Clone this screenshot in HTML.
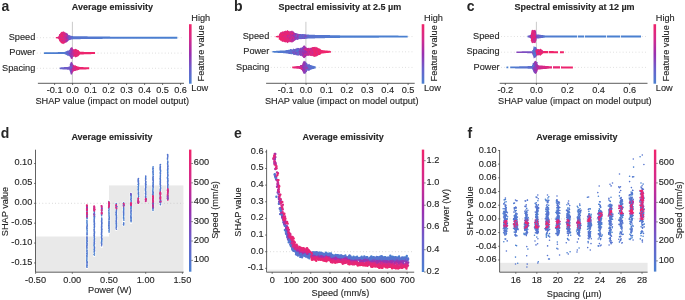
<!DOCTYPE html>
<html><head><meta charset="utf-8"><style>
html,body{margin:0;padding:0;background:#fff;}
svg{display:block;will-change:transform;}
text{font-family:"Liberation Sans",sans-serif;fill:#262626;stroke:#262626;stroke-width:0.13px;}
</style></head><body>
<svg width="685" height="300" viewBox="0 0 685 300">
<text x="1.4" y="10.7" font-size="14" text-anchor="start" font-weight="bold" style="stroke:none">a</text>
<text x="112.4" y="10.2" font-size="9" text-anchor="middle" font-weight="bold">Average emissivity</text>
<line x1="36.8" y1="37.7" x2="184" y2="37.7" stroke="#c8c8c8" stroke-width="0.7" stroke-dasharray="0.8 2.4"/>
<line x1="36.8" y1="53.1" x2="184" y2="53.1" stroke="#c8c8c8" stroke-width="0.7" stroke-dasharray="0.8 2.4"/>
<line x1="36.8" y1="68.3" x2="184" y2="68.3" stroke="#c8c8c8" stroke-width="0.7" stroke-dasharray="0.8 2.4"/>
<line x1="72.4" y1="21.8" x2="72.4" y2="83.3" stroke="#c4c4c4" stroke-width="0.9"/>
<text x="35.3" y="39.900000000000006" font-size="9.2" text-anchor="end">Speed</text>
<linearGradient id="g1" gradientUnits="userSpaceOnUse" x1="55.8" y1="0" x2="177.3" y2="0"><stop offset="0.000" stop-color="#ea2571"/><stop offset="0.022" stop-color="#e82674"/><stop offset="0.029" stop-color="#e72675"/><stop offset="0.039" stop-color="#e52678"/><stop offset="0.051" stop-color="#e3277a"/><stop offset="0.066" stop-color="#dc2882"/><stop offset="0.080" stop-color="#c82b93"/><stop offset="0.092" stop-color="#a62fa9"/><stop offset="0.100" stop-color="#8743bb"/><stop offset="0.113" stop-color="#705ac9"/><stop offset="0.125" stop-color="#6169cd"/><stop offset="0.142" stop-color="#5773ce"/><stop offset="0.446" stop-color="#4e7cd0"/><stop offset="1.000" stop-color="#4a80d0"/></linearGradient>
<polygon points="55.8,37.2 56.3,37.1 56.8,37.0 57.3,36.9 57.8,36.8 58.3,36.7 58.8,35.9 59.3,34.1 59.8,34.0 60.3,33.3 60.8,32.4 61.3,32.1 61.8,31.8 62.3,32.0 62.8,31.6 63.3,31.2 63.8,31.8 64.3,31.7 64.8,32.4 65.3,32.3 65.8,32.9 66.3,32.7 66.8,33.5 67.3,33.5 67.8,34.2 68.3,34.8 68.8,35.9 69.3,35.2 69.8,35.4 70.3,35.6 70.8,35.7 71.3,35.8 71.8,35.9 72.3,36.0 72.8,36.1 73.3,36.2 73.8,36.2 74.3,36.2 74.8,36.2 75.3,36.2 75.8,36.2 76.3,36.2 76.8,36.2 77.3,36.2 77.8,36.2 78.3,36.2 78.8,36.2 79.3,36.2 79.8,36.2 80.3,36.2 80.8,36.3 81.3,36.3 81.8,36.3 82.3,36.3 82.8,36.3 83.3,36.3 83.8,36.3 84.3,36.3 84.8,36.3 85.3,36.3 85.8,36.3 86.3,36.3 86.8,36.3 87.3,36.3 87.8,36.4 88.3,36.4 88.8,36.4 89.3,36.4 89.8,36.4 90.3,36.4 90.8,36.4 91.3,36.4 91.8,36.4 92.3,36.4 92.8,36.4 93.3,36.4 93.8,36.4 94.3,36.4 94.8,36.4 95.3,36.5 95.8,36.5 96.3,36.5 96.8,36.5 97.3,36.5 97.8,36.5 98.3,36.5 98.8,36.5 99.3,36.5 99.8,36.5 100.3,36.5 100.8,36.5 101.3,36.5 101.8,36.5 102.3,36.5 102.8,36.6 103.3,36.6 103.8,36.6 104.3,36.6 104.8,36.6 105.3,36.6 105.8,36.6 106.3,36.6 106.8,36.6 107.3,36.6 107.8,36.6 108.3,36.6 108.8,36.6 109.3,36.6 109.8,36.6 110.3,36.7 110.8,36.7 111.3,36.7 111.8,36.7 112.3,36.7 112.8,36.7 113.3,36.7 113.8,36.7 114.3,36.7 114.8,36.7 115.3,36.7 115.8,36.7 116.3,36.7 116.8,36.7 117.3,36.7 117.8,36.7 118.3,36.7 118.8,36.7 119.3,36.7 119.8,36.7 120.3,36.7 120.8,36.7 121.3,36.7 121.8,36.7 122.3,36.7 122.8,36.7 123.3,36.7 123.8,36.7 124.3,36.7 124.8,36.7 125.3,36.7 125.8,36.7 126.3,36.7 126.8,36.7 127.3,36.7 127.8,36.7 128.3,36.7 128.8,36.7 129.3,36.7 129.8,36.7 130.3,36.7 130.8,36.7 131.3,36.7 131.8,36.7 132.3,36.7 132.8,36.7 133.3,36.7 133.8,36.7 134.3,36.7 134.8,36.7 135.3,36.7 135.8,36.7 136.3,36.7 136.8,36.7 137.3,36.7 137.8,36.7 138.3,36.7 138.8,36.7 139.3,36.7 139.8,36.7 140.3,36.7 140.8,36.7 141.3,36.7 141.8,36.7 142.3,36.7 142.8,36.7 143.3,36.7 143.8,36.7 144.3,36.7 144.8,36.7 145.3,36.7 145.8,36.7 146.3,36.7 146.8,36.7 147.3,36.7 147.8,36.7 148.3,36.7 148.8,36.7 149.3,36.7 149.8,36.7 150.3,36.7 150.8,36.7 151.3,36.7 151.8,36.7 152.3,36.7 152.8,36.7 153.3,36.7 153.8,36.7 154.3,36.7 154.8,36.7 155.3,36.7 155.8,36.7 156.3,36.7 156.8,36.7 157.3,36.7 157.8,36.7 158.3,36.7 158.8,36.7 159.3,36.7 159.8,36.7 160.3,36.7 160.8,36.7 161.3,36.7 161.8,36.7 162.3,36.7 162.8,36.7 163.3,36.7 163.8,36.7 164.3,36.7 164.8,36.7 165.3,36.7 165.8,36.7 166.3,36.7 166.8,36.7 167.3,36.7 167.8,36.7 168.3,36.7 168.8,36.7 169.3,36.7 169.8,36.7 170.3,36.7 170.8,36.7 171.3,36.7 171.8,36.7 172.3,36.7 172.8,36.7 173.3,36.7 173.8,36.7 174.3,36.7 174.8,36.7 175.3,36.7 175.8,36.7 176.3,36.7 176.8,36.7 177.3,36.8 177.3,38.7 176.8,38.7 176.3,38.7 175.8,38.7 175.3,38.7 174.8,38.7 174.3,38.7 173.8,38.7 173.3,38.7 172.8,38.7 172.3,38.7 171.8,38.7 171.3,38.7 170.8,38.7 170.3,38.7 169.8,38.7 169.3,38.7 168.8,38.7 168.3,38.7 167.8,38.7 167.3,38.7 166.8,38.7 166.3,38.7 165.8,38.7 165.3,38.7 164.8,38.7 164.3,38.7 163.8,38.7 163.3,38.7 162.8,38.7 162.3,38.7 161.8,38.7 161.3,38.7 160.8,38.7 160.3,38.7 159.8,38.7 159.3,38.7 158.8,38.7 158.3,38.7 157.8,38.7 157.3,38.7 156.8,38.7 156.3,38.7 155.8,38.7 155.3,38.7 154.8,38.7 154.3,38.7 153.8,38.7 153.3,38.7 152.8,38.7 152.3,38.7 151.8,38.7 151.3,38.7 150.8,38.7 150.3,38.7 149.8,38.7 149.3,38.7 148.8,38.7 148.3,38.7 147.8,38.7 147.3,38.7 146.8,38.7 146.3,38.7 145.8,38.7 145.3,38.7 144.8,38.7 144.3,38.7 143.8,38.7 143.3,38.7 142.8,38.7 142.3,38.7 141.8,38.7 141.3,38.7 140.8,38.7 140.3,38.7 139.8,38.7 139.3,38.7 138.8,38.7 138.3,38.7 137.8,38.7 137.3,38.7 136.8,38.7 136.3,38.7 135.8,38.7 135.3,38.7 134.8,38.7 134.3,38.7 133.8,38.7 133.3,38.7 132.8,38.7 132.3,38.7 131.8,38.7 131.3,38.7 130.8,38.7 130.3,38.7 129.8,38.7 129.3,38.7 128.8,38.7 128.3,38.7 127.8,38.7 127.3,38.7 126.8,38.7 126.3,38.7 125.8,38.7 125.3,38.7 124.8,38.7 124.3,38.7 123.8,38.7 123.3,38.7 122.8,38.7 122.3,38.7 121.8,38.7 121.3,38.7 120.8,38.7 120.3,38.7 119.8,38.7 119.3,38.7 118.8,38.7 118.3,38.7 117.8,38.7 117.3,38.7 116.8,38.7 116.3,38.7 115.8,38.7 115.3,38.7 114.8,38.7 114.3,38.7 113.8,38.7 113.3,38.7 112.8,38.7 112.3,38.7 111.8,38.7 111.3,38.7 110.8,38.7 110.3,38.7 109.8,38.8 109.3,38.8 108.8,38.8 108.3,38.8 107.8,38.8 107.3,38.8 106.8,38.8 106.3,38.8 105.8,38.8 105.3,38.8 104.8,38.8 104.3,38.8 103.8,38.8 103.3,38.8 102.8,38.8 102.3,38.9 101.8,38.9 101.3,38.9 100.8,38.9 100.3,38.9 99.8,38.9 99.3,38.9 98.8,38.9 98.3,38.9 97.8,38.9 97.3,38.9 96.8,38.9 96.3,38.9 95.8,38.9 95.3,38.9 94.8,39.0 94.3,39.0 93.8,39.0 93.3,39.0 92.8,39.0 92.3,39.0 91.8,39.0 91.3,39.0 90.8,39.0 90.3,39.0 89.8,39.0 89.3,39.0 88.8,39.0 88.3,39.0 87.8,39.1 87.3,39.1 86.8,39.1 86.3,39.1 85.8,39.1 85.3,39.1 84.8,39.1 84.3,39.1 83.8,39.1 83.3,39.1 82.8,39.1 82.3,39.1 81.8,39.1 81.3,39.1 80.8,39.1 80.3,39.2 79.8,39.2 79.3,39.2 78.8,39.2 78.3,39.2 77.8,39.2 77.3,39.2 76.8,39.2 76.3,39.2 75.8,39.2 75.3,39.2 74.8,39.2 74.3,39.2 73.8,39.2 73.3,39.2 72.8,39.3 72.3,39.4 71.8,39.5 71.3,39.6 70.8,39.7 70.3,39.8 69.8,40.0 69.3,40.2 68.8,39.5 68.3,40.6 67.8,41.2 67.3,41.9 66.8,41.9 66.3,42.7 65.8,42.5 65.3,43.1 64.8,43.0 64.3,43.7 63.8,43.6 63.3,44.2 62.8,43.8 62.3,43.4 61.8,43.6 61.3,43.3 60.8,43.0 60.3,42.1 59.8,41.4 59.3,41.3 58.8,39.5 58.3,38.7 57.8,38.6 57.3,38.5 56.8,38.4 56.3,38.3 55.8,38.2" fill="url(#g1)"/>
<path d="M64.6 33.4h0M63.0 40.0h0M59.7 36.1h0M65.1 37.7h0M66.9 34.3h0M62.9 38.1h0M60.9 36.1h0M64.2 40.4h0M62.9 42.0h0M63.6 42.1h0" stroke="#dc2883" stroke-width="1.6" stroke-linecap="round" fill="none"/>
<path d="M59.5 36.4h0M62.1 40.5h0M62.4 34.6h0M60.3 34.6h0M59.3 38.3h0M62.9 40.0h0M60.9 34.2h0M64.4 35.8h0M61.3 39.3h0M60.5 35.1h0M64.2 37.2h0" stroke="#e62676" stroke-width="1.6" stroke-linecap="round" fill="none"/>
<path d="M62.6 36.9h0M61.6 39.8h0M64.9 41.6h0M63.5 33.7h0M61.6 36.6h0M62.6 42.6h0M61.9 41.6h0M61.4 35.6h0" stroke="#f0246a" stroke-width="1.6" stroke-linecap="round" fill="none"/>
<path d="M70.1 37.5h0M69.0 35.8h0M70.1 38.8h0M67.9 40.0h0M69.2 38.9h0" stroke="#6e5cc9" stroke-width="1.6" stroke-linecap="round" fill="none"/>
<path d="M65.9 40.9h0M62.3 40.7h0M64.4 36.6h0M65.4 41.2h0" stroke="#ba2d9c" stroke-width="1.6" stroke-linecap="round" fill="none"/>
<path d="M66.6 34.4h0M68.0 38.7h0M68.0 35.9h0M68.3 39.7h0" stroke="#804abf" stroke-width="1.6" stroke-linecap="round" fill="none"/>
<path d="M69.5 38.5h0" stroke="#6169cd" stroke-width="1.6" stroke-linecap="round" fill="none"/>
<path d="M61.6 37.9h0M65.2 39.3h0M64.0 37.1h0M66.6 35.4h0M65.3 38.0h0M65.4 35.6h0M64.1 39.9h0M59.0 37.2h0M63.5 33.7h0M60.0 35.0h0M67.2 39.6h0" stroke="#cf2b8f" stroke-width="1.6" stroke-linecap="round" fill="none"/>
<path d="M67.2 40.5h0M66.8 34.5h0" stroke="#9139b5" stroke-width="1.6" stroke-linecap="round" fill="none"/>
<path d="M66.2 37.8h0" stroke="#a52fa9" stroke-width="1.6" stroke-linecap="round" fill="none"/>
<text x="35.3" y="55.300000000000004" font-size="9.2" text-anchor="end">Power</text>
<linearGradient id="g2" gradientUnits="userSpaceOnUse" x1="44.0" y1="0" x2="95.0" y2="0"><stop offset="0.000" stop-color="#4a80d0"/><stop offset="0.402" stop-color="#507acf"/><stop offset="0.471" stop-color="#6466cd"/><stop offset="0.516" stop-color="#7d4dc1"/><stop offset="0.529" stop-color="#903ab6"/><stop offset="0.553" stop-color="#a62fa9"/><stop offset="0.569" stop-color="#c82b93"/><stop offset="0.624" stop-color="#e52678"/><stop offset="0.667" stop-color="#e82674"/><stop offset="0.706" stop-color="#ec256f"/><stop offset="1.000" stop-color="#f0246a"/></linearGradient>
<polygon points="44.0,52.4 44.5,52.3 45.0,52.3 45.5,52.3 46.0,52.3 46.5,52.3 47.0,52.3 47.5,52.3 48.0,52.3 48.5,52.3 49.0,52.3 49.5,52.3 50.0,52.3 50.5,52.3 51.0,52.2 51.5,52.2 52.0,52.2 52.5,52.2 53.0,52.2 53.5,52.2 54.0,52.2 54.5,52.2 55.0,52.2 55.5,52.2 56.0,52.2 56.5,52.2 57.0,52.2 57.5,52.2 58.0,52.1 58.5,52.1 59.0,52.1 59.5,52.1 60.0,52.1 60.5,52.1 61.0,52.1 61.5,52.1 62.0,52.1 62.5,52.1 63.0,52.1 63.5,52.1 64.0,52.1 64.5,52.1 65.0,51.8 65.5,51.6 66.0,51.4 66.5,51.1 67.0,50.9 67.5,50.7 68.0,50.0 68.5,51.2 69.0,49.8 69.5,50.1 70.0,49.1 70.5,49.0 71.0,47.0 71.5,47.5 72.0,47.3 72.5,47.4 73.0,49.1 73.5,49.4 74.0,49.4 74.5,49.7 75.0,49.1 75.5,48.8 76.0,48.9 76.5,49.2 77.0,49.8 77.5,49.7 78.0,50.0 78.5,49.9 79.0,50.9 79.5,51.3 80.0,51.8 80.5,51.8 81.0,51.8 81.5,51.8 82.0,51.8 82.5,51.8 83.0,51.8 83.5,51.8 84.0,51.9 84.5,51.9 85.0,51.9 85.5,51.9 86.0,51.9 86.5,51.9 87.0,51.9 87.5,52.0 88.0,52.0 88.5,52.0 89.0,52.0 89.5,52.0 90.0,52.0 90.5,52.0 91.0,52.0 91.5,52.1 92.0,52.1 92.5,52.1 93.0,52.1 93.5,52.1 94.0,52.1 94.5,52.1 95.0,52.1 95.0,54.1 94.5,54.1 94.0,54.1 93.5,54.1 93.0,54.1 92.5,54.1 92.0,54.1 91.5,54.1 91.0,54.2 90.5,54.2 90.0,54.2 89.5,54.2 89.0,54.2 88.5,54.2 88.0,54.2 87.5,54.2 87.0,54.3 86.5,54.3 86.0,54.3 85.5,54.3 85.0,54.3 84.5,54.3 84.0,54.3 83.5,54.4 83.0,54.4 82.5,54.4 82.0,54.4 81.5,54.4 81.0,54.4 80.5,54.4 80.0,54.5 79.5,54.9 79.0,55.4 78.5,56.3 78.0,56.2 77.5,56.5 77.0,56.4 76.5,57.0 76.0,57.3 75.5,57.4 75.0,57.1 74.5,56.5 74.0,56.8 73.5,56.8 73.0,57.1 72.5,58.8 72.0,58.9 71.5,58.7 71.0,59.2 70.5,57.2 70.0,57.1 69.5,56.1 69.0,56.4 68.5,55.0 68.0,56.2 67.5,55.5 67.0,55.3 66.5,55.1 66.0,54.8 65.5,54.6 65.0,54.4 64.5,54.1 64.0,54.1 63.5,54.1 63.0,54.1 62.5,54.1 62.0,54.1 61.5,54.1 61.0,54.1 60.5,54.1 60.0,54.1 59.5,54.1 59.0,54.1 58.5,54.1 58.0,54.1 57.5,54.0 57.0,54.0 56.5,54.0 56.0,54.0 55.5,54.0 55.0,54.0 54.5,54.0 54.0,54.0 53.5,54.0 53.0,54.0 52.5,54.0 52.0,54.0 51.5,54.0 51.0,54.0 50.5,53.9 50.0,53.9 49.5,53.9 49.0,53.9 48.5,53.9 48.0,53.9 47.5,53.9 47.0,53.9 46.5,53.9 46.0,53.9 45.5,53.9 45.0,53.9 44.5,53.9 44.0,53.9" fill="url(#g2)"/>
<path d="M72.9 51.8h0M76.0 52.9h0M74.2 51.7h0M73.8 54.5h0M73.0 51.5h0" stroke="#cf2b8f" stroke-width="1.6" stroke-linecap="round" fill="none"/>
<path d="M72.3 53.6h0M72.6 55.7h0M73.0 54.1h0M72.0 49.2h0M71.7 55.2h0" stroke="#ba2d9c" stroke-width="1.6" stroke-linecap="round" fill="none"/>
<path d="M74.0 50.1h0M76.5 50.9h0M76.9 55.9h0M76.3 55.6h0M74.7 52.9h0M75.9 53.3h0M77.7 52.1h0M75.5 54.8h0M77.8 53.6h0M74.2 51.2h0M76.4 52.0h0" stroke="#e62676" stroke-width="1.6" stroke-linecap="round" fill="none"/>
<path d="M70.4 52.0h0M71.5 50.8h0" stroke="#804abf" stroke-width="1.6" stroke-linecap="round" fill="none"/>
<path d="M69.2 51.7h0M68.9 53.9h0M67.9 53.6h0M69.5 51.0h0M72.1 56.2h0M68.9 55.0h0M67.4 52.3h0" stroke="#6e5cc9" stroke-width="1.6" stroke-linecap="round" fill="none"/>
<path d="M69.9 54.9h0M67.7 54.4h0" stroke="#5674cf" stroke-width="1.6" stroke-linecap="round" fill="none"/>
<path d="M70.8 53.6h0M71.2 51.1h0M70.9 48.8h0M72.4 50.7h0" stroke="#a52fa9" stroke-width="1.6" stroke-linecap="round" fill="none"/>
<path d="M71.1 56.7h0M70.6 55.5h0M70.6 54.6h0M69.7 53.7h0M71.0 56.0h0" stroke="#9139b5" stroke-width="1.6" stroke-linecap="round" fill="none"/>
<path d="M75.8 50.1h0M78.5 51.6h0M75.5 50.5h0M74.9 55.2h0M78.4 51.5h0" stroke="#f0246a" stroke-width="1.6" stroke-linecap="round" fill="none"/>
<path d="M66.8 53.0h0" stroke="#6169cd" stroke-width="1.6" stroke-linecap="round" fill="none"/>
<path d="M75.2 53.6h0M77.7 51.4h0M74.4 50.2h0M73.8 51.2h0" stroke="#dc2883" stroke-width="1.6" stroke-linecap="round" fill="none"/>
<text x="35.3" y="70.5" font-size="9.2" text-anchor="end">Spacing</text>
<linearGradient id="g3" gradientUnits="userSpaceOnUse" x1="59.7" y1="0" x2="89.6" y2="0"><stop offset="0.000" stop-color="#6466cd"/><stop offset="0.328" stop-color="#7456c6"/><stop offset="0.371" stop-color="#8347bd"/><stop offset="0.411" stop-color="#903ab6"/><stop offset="0.445" stop-color="#d42a8c"/><stop offset="0.579" stop-color="#e52678"/><stop offset="0.679" stop-color="#ea2571"/><stop offset="1.000" stop-color="#f0246a"/></linearGradient>
<polygon points="59.7,67.5 60.2,67.4 60.7,67.4 61.2,67.3 61.7,67.3 62.2,67.3 62.7,67.2 63.2,67.2 63.7,67.2 64.2,67.1 64.7,67.1 65.2,67.1 65.7,67.0 66.2,67.0 66.7,67.0 67.2,66.9 67.7,66.9 68.2,66.8 68.7,66.8 69.2,66.8 69.7,66.0 70.2,64.1 70.7,62.3 71.2,61.8 71.7,62.0 72.2,62.5 72.7,64.5 73.2,65.3 73.7,64.5 74.2,65.5 74.7,65.7 75.2,65.5 75.7,65.8 76.2,66.0 76.7,66.1 77.2,66.2 77.7,66.4 78.2,66.5 78.7,66.7 79.2,66.8 79.7,67.0 80.2,67.1 80.7,67.1 81.2,67.1 81.7,67.1 82.2,67.1 82.7,67.1 83.2,67.1 83.7,67.2 84.2,67.2 84.7,67.2 85.2,67.2 85.7,67.2 86.2,67.2 86.7,67.3 87.2,67.3 87.7,67.3 88.2,67.3 88.7,67.3 89.2,67.3 89.2,69.3 88.7,69.3 88.2,69.3 87.7,69.3 87.2,69.3 86.7,69.3 86.2,69.4 85.7,69.4 85.2,69.4 84.7,69.4 84.2,69.4 83.7,69.4 83.2,69.5 82.7,69.5 82.2,69.5 81.7,69.5 81.2,69.5 80.7,69.5 80.2,69.5 79.7,69.6 79.2,69.8 78.7,69.9 78.2,70.1 77.7,70.2 77.2,70.4 76.7,70.5 76.2,70.6 75.7,70.8 75.2,71.1 74.7,70.9 74.2,71.1 73.7,72.1 73.2,71.3 72.7,72.1 72.2,74.1 71.7,74.6 71.2,74.8 70.7,74.3 70.2,72.5 69.7,70.6 69.2,69.8 68.7,69.8 68.2,69.8 67.7,69.7 67.2,69.7 66.7,69.6 66.2,69.6 65.7,69.6 65.2,69.5 64.7,69.5 64.2,69.5 63.7,69.4 63.2,69.4 62.7,69.4 62.2,69.3 61.7,69.3 61.2,69.3 60.7,69.2 60.2,69.2 59.7,69.1" fill="url(#g3)"/>
<path d="M72.9 65.9h0M71.9 64.6h0M72.9 69.1h0" stroke="#a52fa9" stroke-width="1.6" stroke-linecap="round" fill="none"/>
<path d="M74.7 66.2h0M73.7 66.3h0M75.4 66.4h0" stroke="#e62676" stroke-width="1.6" stroke-linecap="round" fill="none"/>
<path d="M71.0 69.0h0M71.9 64.1h0M70.8 67.7h0M71.8 67.3h0" stroke="#9139b5" stroke-width="1.6" stroke-linecap="round" fill="none"/>
<path d="M73.1 66.2h0M75.3 67.6h0M72.3 72.0h0" stroke="#ba2d9c" stroke-width="1.6" stroke-linecap="round" fill="none"/>
<path d="M70.5 70.7h0M70.5 67.5h0M71.8 66.7h0M71.8 66.4h0" stroke="#6e5cc9" stroke-width="1.6" stroke-linecap="round" fill="none"/>
<path d="M73.2 69.3h0M72.9 65.8h0M75.0 70.0h0" stroke="#dc2883" stroke-width="1.6" stroke-linecap="round" fill="none"/>
<path d="M70.5 68.0h0M71.1 67.0h0M71.1 66.2h0" stroke="#6169cd" stroke-width="1.6" stroke-linecap="round" fill="none"/>
<path d="M76.4 67.7h0M76.2 66.9h0" stroke="#f0246a" stroke-width="1.6" stroke-linecap="round" fill="none"/>
<path d="M71.8 66.1h0M72.5 64.7h0M70.7 65.4h0M70.5 64.4h0" stroke="#804abf" stroke-width="1.6" stroke-linecap="round" fill="none"/>
<path d="M73.9 68.0h0" stroke="#cf2b8f" stroke-width="1.6" stroke-linecap="round" fill="none"/>
<line x1="37.9" y1="83.3" x2="184" y2="83.3" stroke="#333" stroke-width="0.8"/>
<line x1="54.599999999999994" y1="83.3" x2="54.599999999999994" y2="85.0" stroke="#333" stroke-width="0.7"/>
<text x="54.599999999999994" y="92.6" font-size="9.2" text-anchor="middle">-0.1</text>
<line x1="72.6" y1="83.3" x2="72.6" y2="85.0" stroke="#333" stroke-width="0.7"/>
<text x="72.6" y="92.6" font-size="9.2" text-anchor="middle">0.0</text>
<line x1="90.6" y1="83.3" x2="90.6" y2="85.0" stroke="#333" stroke-width="0.7"/>
<text x="90.6" y="92.6" font-size="9.2" text-anchor="middle">0.1</text>
<line x1="108.6" y1="83.3" x2="108.6" y2="85.0" stroke="#333" stroke-width="0.7"/>
<text x="108.6" y="92.6" font-size="9.2" text-anchor="middle">0.2</text>
<line x1="126.6" y1="83.3" x2="126.6" y2="85.0" stroke="#333" stroke-width="0.7"/>
<text x="126.6" y="92.6" font-size="9.2" text-anchor="middle">0.3</text>
<line x1="144.6" y1="83.3" x2="144.6" y2="85.0" stroke="#333" stroke-width="0.7"/>
<text x="144.6" y="92.6" font-size="9.2" text-anchor="middle">0.4</text>
<line x1="162.6" y1="83.3" x2="162.6" y2="85.0" stroke="#333" stroke-width="0.7"/>
<text x="162.6" y="92.6" font-size="9.2" text-anchor="middle">0.5</text>
<line x1="180.6" y1="83.3" x2="180.6" y2="85.0" stroke="#333" stroke-width="0.7"/>
<text x="180.6" y="92.6" font-size="9.2" text-anchor="middle">0.6</text>
<text x="112.25" y="103.9" font-size="9.2" text-anchor="middle">SHAP value (impact on model output)</text>
<linearGradient id="g4" x1="0" y1="1" x2="0" y2="0"><stop offset="0" stop-color="#4a80d0"/><stop offset="0.25" stop-color="#6a60cc"/><stop offset="0.5" stop-color="#9a30b0"/><stop offset="0.75" stop-color="#d42a8c"/><stop offset="1" stop-color="#f0246a"/></linearGradient>
<rect x="189.0" y="24.2" width="2.6" height="59.5" fill="url(#g4)"/>
<text x="191.3" y="20.7" font-size="9.2" text-anchor="start">High</text>
<text x="191.3" y="91.2" font-size="9.2" text-anchor="start">Low</text>
<text x="203.9" y="53.3" font-size="9.2" text-anchor="middle" transform="rotate(-90 203.9 53.3)">Feature value</text>
<text x="234.0" y="10.7" font-size="14" text-anchor="start" font-weight="bold" style="stroke:none">b</text>
<text x="339.9" y="10.2" font-size="9" text-anchor="middle" font-weight="bold">Spectral emissivity at 2.5 µm</text>
<line x1="270.8" y1="36.6" x2="414.7" y2="36.6" stroke="#c8c8c8" stroke-width="0.7" stroke-dasharray="0.8 2.4"/>
<line x1="270.8" y1="51.8" x2="414.7" y2="51.8" stroke="#c8c8c8" stroke-width="0.7" stroke-dasharray="0.8 2.4"/>
<line x1="270.8" y1="67.4" x2="414.7" y2="67.4" stroke="#c8c8c8" stroke-width="0.7" stroke-dasharray="0.8 2.4"/>
<line x1="305.9" y1="21.8" x2="305.9" y2="83.3" stroke="#c4c4c4" stroke-width="0.9"/>
<text x="269.3" y="38.800000000000004" font-size="9.2" text-anchor="end">Speed</text>
<linearGradient id="g5" gradientUnits="userSpaceOnUse" x1="275.7" y1="0" x2="408.0" y2="0"><stop offset="0.000" stop-color="#f0246a"/><stop offset="0.025" stop-color="#ee246d"/><stop offset="0.031" stop-color="#ec256f"/><stop offset="0.048" stop-color="#e82674"/><stop offset="0.070" stop-color="#e52678"/><stop offset="0.085" stop-color="#e3277a"/><stop offset="0.104" stop-color="#d72988"/><stop offset="0.123" stop-color="#c42c96"/><stop offset="0.142" stop-color="#9f30ad"/><stop offset="0.153" stop-color="#8b3fb9"/><stop offset="0.184" stop-color="#7456c6"/><stop offset="0.259" stop-color="#5971ce"/><stop offset="0.486" stop-color="#4d7dd0"/><stop offset="1.000" stop-color="#4a80d0"/></linearGradient>
<polygon points="275.7,36.0 276.2,35.9 276.7,35.9 277.2,35.8 277.7,35.8 278.2,35.7 278.7,35.7 279.2,35.1 279.7,33.5 280.2,33.0 280.7,32.1 281.2,32.8 281.7,31.7 282.2,31.8 282.7,31.2 283.2,31.5 283.7,31.6 284.2,31.2 284.7,30.9 285.2,31.0 285.7,30.6 286.2,30.8 286.7,31.1 287.2,30.0 287.7,30.3 288.2,30.7 288.7,30.9 289.2,30.8 289.7,31.4 290.2,31.3 290.7,31.0 291.2,30.4 291.7,31.2 292.2,30.4 292.7,31.3 293.2,31.8 293.7,31.3 294.2,32.1 294.7,32.9 295.2,32.9 295.7,32.9 296.2,33.1 296.7,33.7 297.2,33.5 297.7,33.4 298.2,34.0 298.7,33.7 299.2,33.9 299.7,34.1 300.2,34.1 300.7,34.0 301.2,34.0 301.7,34.3 302.2,34.1 302.7,34.2 303.2,34.2 303.7,34.2 304.2,34.3 304.7,34.3 305.2,34.4 305.7,34.4 306.2,34.4 306.7,34.5 307.2,34.5 307.7,34.6 308.2,34.6 308.7,34.6 309.2,34.7 309.7,34.7 310.2,34.8 310.7,34.8 311.2,34.8 311.7,34.8 312.2,34.8 312.7,34.8 313.2,34.8 313.7,34.8 314.2,34.8 314.7,34.8 315.2,34.9 315.7,34.9 316.2,34.9 316.7,34.9 317.2,34.9 317.7,34.9 318.2,34.9 318.7,34.9 319.2,34.9 319.7,34.9 320.2,35.0 320.7,35.0 321.2,35.0 321.7,35.0 322.2,35.0 322.7,35.0 323.2,35.0 323.7,35.0 324.2,35.0 324.7,35.0 325.2,35.1 325.7,35.1 326.2,35.1 326.7,35.1 327.2,35.1 327.7,35.1 328.2,35.1 328.7,35.1 329.2,35.1 329.7,35.1 330.2,35.2 330.7,35.2 331.2,35.2 331.7,35.2 332.2,35.2 332.7,35.2 333.2,35.2 333.7,35.2 334.2,35.2 334.7,35.2 335.2,35.3 335.7,35.3 336.2,35.3 336.7,35.3 337.2,35.3 337.7,35.3 338.2,35.3 338.7,35.3 339.2,35.3 339.7,35.3 340.2,35.4 340.7,35.4 341.2,35.4 341.7,35.4 342.2,35.4 342.7,35.4 343.2,35.4 343.7,35.4 344.2,35.4 344.7,35.4 345.2,35.4 345.7,35.4 346.2,35.4 346.7,35.4 347.2,35.4 347.7,35.4 348.2,35.4 348.7,35.4 349.2,35.4 349.7,35.4 350.2,35.4 350.7,35.4 351.2,35.4 351.7,35.4 352.2,35.4 352.7,35.4 353.2,35.4 353.7,35.4 354.2,35.4 354.7,35.4 355.2,35.4 355.7,35.4 356.2,35.4 356.7,35.4 357.2,35.4 357.7,35.4 358.2,35.4 358.7,35.4 359.2,35.4 359.7,35.5 360.2,35.5 360.7,35.5 361.2,35.5 361.7,35.5 362.2,35.5 362.7,35.5 363.2,35.5 363.7,35.5 364.2,35.5 364.7,35.5 365.2,35.5 365.7,35.5 366.2,35.5 366.7,35.5 367.2,35.5 367.7,35.5 368.2,35.5 368.7,35.5 369.2,35.5 369.7,35.5 370.2,35.5 370.7,35.5 371.2,35.5 371.7,35.5 372.2,35.5 372.7,35.5 373.2,35.5 373.7,35.5 374.2,35.5 374.7,35.5 375.2,35.5 375.7,35.5 376.2,35.5 376.7,35.5 377.2,35.5 377.7,35.5 378.2,35.5 378.7,35.5 379.2,35.6 379.7,35.6 380.2,35.6 380.7,35.6 381.2,35.6 381.7,35.6 382.2,35.6 382.7,35.6 383.2,35.6 383.7,35.6 384.2,35.6 384.7,35.6 385.2,35.6 385.7,35.6 386.2,35.6 386.7,35.6 387.2,35.6 387.7,35.6 388.2,35.6 388.7,35.6 389.2,35.6 389.7,35.6 390.2,35.6 390.7,35.6 391.2,35.6 391.7,35.6 392.2,35.6 392.7,35.6 393.2,35.6 393.7,35.6 394.2,35.6 394.7,35.6 395.2,35.6 395.7,35.6 396.2,35.6 396.7,35.6 397.2,35.6 397.7,35.6 398.2,35.6 398.7,35.7 399.2,35.7 399.7,35.7 400.2,35.7 400.7,35.7 401.2,35.7 401.7,35.7 402.2,35.7 402.7,35.7 403.2,35.7 403.7,35.7 404.2,35.7 404.7,35.7 405.2,35.7 405.7,35.7 406.2,35.7 406.7,35.7 407.2,35.7 407.7,35.7 407.7,37.5 407.2,37.5 406.7,37.5 406.2,37.5 405.7,37.5 405.2,37.5 404.7,37.5 404.2,37.5 403.7,37.5 403.2,37.5 402.7,37.5 402.2,37.5 401.7,37.5 401.2,37.5 400.7,37.5 400.2,37.5 399.7,37.5 399.2,37.5 398.7,37.5 398.2,37.6 397.7,37.6 397.2,37.6 396.7,37.6 396.2,37.6 395.7,37.6 395.2,37.6 394.7,37.6 394.2,37.6 393.7,37.6 393.2,37.6 392.7,37.6 392.2,37.6 391.7,37.6 391.2,37.6 390.7,37.6 390.2,37.6 389.7,37.6 389.2,37.6 388.7,37.6 388.2,37.6 387.7,37.6 387.2,37.6 386.7,37.6 386.2,37.6 385.7,37.6 385.2,37.6 384.7,37.6 384.2,37.6 383.7,37.6 383.2,37.6 382.7,37.6 382.2,37.6 381.7,37.6 381.2,37.6 380.7,37.6 380.2,37.6 379.7,37.6 379.2,37.6 378.7,37.7 378.2,37.7 377.7,37.7 377.2,37.7 376.7,37.7 376.2,37.7 375.7,37.7 375.2,37.7 374.7,37.7 374.2,37.7 373.7,37.7 373.2,37.7 372.7,37.7 372.2,37.7 371.7,37.7 371.2,37.7 370.7,37.7 370.2,37.7 369.7,37.7 369.2,37.7 368.7,37.7 368.2,37.7 367.7,37.7 367.2,37.7 366.7,37.7 366.2,37.7 365.7,37.7 365.2,37.7 364.7,37.7 364.2,37.7 363.7,37.7 363.2,37.7 362.7,37.7 362.2,37.7 361.7,37.7 361.2,37.7 360.7,37.7 360.2,37.7 359.7,37.7 359.2,37.8 358.7,37.8 358.2,37.8 357.7,37.8 357.2,37.8 356.7,37.8 356.2,37.8 355.7,37.8 355.2,37.8 354.7,37.8 354.2,37.8 353.7,37.8 353.2,37.8 352.7,37.8 352.2,37.8 351.7,37.8 351.2,37.8 350.7,37.8 350.2,37.8 349.7,37.8 349.2,37.8 348.7,37.8 348.2,37.8 347.7,37.8 347.2,37.8 346.7,37.8 346.2,37.8 345.7,37.8 345.2,37.8 344.7,37.8 344.2,37.8 343.7,37.8 343.2,37.8 342.7,37.8 342.2,37.8 341.7,37.8 341.2,37.8 340.7,37.8 340.2,37.8 339.7,37.9 339.2,37.9 338.7,37.9 338.2,37.9 337.7,37.9 337.2,37.9 336.7,37.9 336.2,37.9 335.7,37.9 335.2,37.9 334.7,38.0 334.2,38.0 333.7,38.0 333.2,38.0 332.7,38.0 332.2,38.0 331.7,38.0 331.2,38.0 330.7,38.0 330.2,38.0 329.7,38.1 329.2,38.1 328.7,38.1 328.2,38.1 327.7,38.1 327.2,38.1 326.7,38.1 326.2,38.1 325.7,38.1 325.2,38.1 324.7,38.2 324.2,38.2 323.7,38.2 323.2,38.2 322.7,38.2 322.2,38.2 321.7,38.2 321.2,38.2 320.7,38.2 320.2,38.2 319.7,38.3 319.2,38.3 318.7,38.3 318.2,38.3 317.7,38.3 317.2,38.3 316.7,38.3 316.2,38.3 315.7,38.3 315.2,38.3 314.7,38.4 314.2,38.4 313.7,38.4 313.2,38.4 312.7,38.4 312.2,38.4 311.7,38.4 311.2,38.4 310.7,38.4 310.2,38.4 309.7,38.5 309.2,38.5 308.7,38.6 308.2,38.6 307.7,38.6 307.2,38.7 306.7,38.7 306.2,38.8 305.7,38.8 305.2,38.8 304.7,38.9 304.2,38.9 303.7,39.0 303.2,39.0 302.7,39.0 302.2,39.1 301.7,38.9 301.2,39.2 300.7,39.2 300.2,39.1 299.7,39.1 299.2,39.3 298.7,39.5 298.2,39.2 297.7,39.8 297.2,39.7 296.7,39.5 296.2,40.1 295.7,40.3 295.2,40.3 294.7,40.3 294.2,41.1 293.7,41.9 293.2,41.4 292.7,41.9 292.2,42.8 291.7,42.0 291.2,42.8 290.7,42.2 290.2,41.9 289.7,41.8 289.2,42.4 288.7,42.3 288.2,42.5 287.7,42.9 287.2,43.2 286.7,42.1 286.2,42.4 285.7,42.6 285.2,42.2 284.7,42.3 284.2,42.0 283.7,41.6 283.2,41.7 282.7,42.0 282.2,41.4 281.7,41.5 281.2,40.4 280.7,41.1 280.2,40.2 279.7,39.7 279.2,38.1 278.7,37.5 278.2,37.5 277.7,37.4 277.2,37.4 276.7,37.3 276.2,37.3 275.7,37.2" fill="url(#g5)"/>
<path d="M293.3 39.7h0M293.0 36.7h0M292.7 38.7h0M288.1 37.2h0M292.8 35.9h0M297.1 36.6h0M290.9 38.5h0M296.1 36.8h0M293.9 34.3h0M294.0 40.3h0M294.0 36.2h0M305.0 36.7h0M299.5 34.8h0" stroke="#a52fa9" stroke-width="1.6" stroke-linecap="round" fill="none"/>
<path d="M286.2 41.2h0M289.5 34.6h0M285.4 41.2h0M285.3 38.6h0M288.4 38.3h0M281.6 39.4h0M280.4 36.9h0M286.5 38.1h0M282.5 36.8h0M286.2 35.1h0M291.4 38.0h0M282.5 34.0h0M280.9 38.5h0M289.0 40.1h0M282.3 33.4h0M283.0 37.4h0M289.0 36.6h0M283.7 33.1h0M286.7 38.8h0" stroke="#e62676" stroke-width="1.6" stroke-linecap="round" fill="none"/>
<path d="M291.5 39.0h0M292.4 36.8h0M283.2 40.7h0M282.5 35.7h0M288.6 35.1h0M291.0 34.1h0M284.7 32.8h0M281.2 33.1h0M292.3 39.7h0M286.7 36.0h0M293.8 39.9h0M279.7 34.9h0M290.8 34.7h0M287.9 36.2h0M291.5 36.3h0M290.3 39.5h0" stroke="#cf2b8f" stroke-width="1.6" stroke-linecap="round" fill="none"/>
<path d="M295.0 38.9h0M296.2 35.0h0M306.0 36.3h0M304.5 38.3h0M294.8 35.6h0M297.5 39.0h0M298.4 37.7h0M298.8 35.7h0M302.0 38.0h0M305.1 35.1h0M296.1 34.1h0" stroke="#804abf" stroke-width="1.6" stroke-linecap="round" fill="none"/>
<path d="M284.5 35.8h0M283.4 40.0h0M286.7 38.5h0M280.3 37.9h0M288.4 33.9h0M285.6 34.7h0M292.5 33.4h0M279.4 39.0h0M282.4 39.5h0M283.3 37.6h0M281.7 39.5h0M287.7 32.5h0M284.7 40.5h0M280.3 34.0h0M286.1 35.2h0M282.6 35.2h0M287.0 38.3h0M287.0 34.7h0M279.6 38.6h0M285.0 34.2h0" stroke="#f0246a" stroke-width="1.6" stroke-linecap="round" fill="none"/>
<path d="M290.3 35.4h0M284.1 32.7h0M288.7 36.9h0M291.0 38.9h0M286.4 37.9h0M289.4 33.1h0M283.9 36.6h0M284.7 32.3h0M285.3 35.3h0M293.7 38.1h0M284.5 36.2h0M290.0 37.3h0M287.1 39.6h0M288.0 40.8h0M287.5 39.3h0" stroke="#dc2883" stroke-width="1.6" stroke-linecap="round" fill="none"/>
<path d="M297.3 36.8h0M292.1 39.7h0M295.7 34.7h0" stroke="#9139b5" stroke-width="1.6" stroke-linecap="round" fill="none"/>
<path d="M302.6 34.7h0M303.9 36.1h0M300.9 37.3h0M301.6 37.8h0M303.6 35.0h0M303.3 37.1h0M300.2 34.9h0M298.8 35.8h0M300.7 35.7h0" stroke="#6169cd" stroke-width="1.6" stroke-linecap="round" fill="none"/>
<path d="M299.8 37.4h0M305.7 37.7h0" stroke="#5674cf" stroke-width="1.6" stroke-linecap="round" fill="none"/>
<path d="M304.5 37.3h0M296.1 36.4h0M296.7 35.4h0M302.0 36.0h0" stroke="#6e5cc9" stroke-width="1.6" stroke-linecap="round" fill="none"/>
<path d="M290.4 37.6h0M291.0 35.4h0M289.6 38.0h0M297.9 35.2h0M287.6 35.4h0M293.0 40.4h0M291.5 36.2h0M294.6 34.6h0M290.4 34.7h0" stroke="#ba2d9c" stroke-width="1.6" stroke-linecap="round" fill="none"/>
<text x="269.3" y="54.0" font-size="9.2" text-anchor="end">Power</text>
<linearGradient id="g6" gradientUnits="userSpaceOnUse" x1="272.4" y1="0" x2="331.0" y2="0"><stop offset="0.000" stop-color="#4a80d0"/><stop offset="0.215" stop-color="#5476cf"/><stop offset="0.334" stop-color="#6169cd"/><stop offset="0.454" stop-color="#7753c4"/><stop offset="0.514" stop-color="#903ab6"/><stop offset="0.531" stop-color="#9a30b0"/><stop offset="0.556" stop-color="#a62fa9"/><stop offset="0.582" stop-color="#b62d9f"/><stop offset="0.642" stop-color="#d42a8c"/><stop offset="0.693" stop-color="#e3277a"/><stop offset="0.744" stop-color="#e72675"/><stop offset="0.795" stop-color="#ea2571"/><stop offset="0.838" stop-color="#ed256e"/><stop offset="1.000" stop-color="#f0246a"/></linearGradient>
<polygon points="272.4,51.0 272.9,51.0 273.4,51.0 273.9,51.0 274.4,50.9 274.9,50.9 275.4,50.9 275.9,50.9 276.4,50.8 276.9,50.8 277.4,50.8 277.9,50.7 278.4,50.7 278.9,50.7 279.4,50.7 279.9,50.6 280.4,50.6 280.9,50.6 281.4,50.5 281.9,50.5 282.4,50.5 282.9,50.5 283.4,50.4 283.9,50.4 284.4,50.4 284.9,50.4 285.4,50.3 285.9,50.2 286.4,50.1 286.9,50.1 287.4,50.0 287.9,49.9 288.4,49.8 288.9,49.7 289.4,49.7 289.9,49.6 290.4,49.5 290.9,49.4 291.4,49.3 291.9,49.6 292.4,49.5 292.9,49.3 293.4,48.3 293.9,49.1 294.4,49.1 294.9,49.0 295.4,48.8 295.9,48.4 296.4,48.5 296.9,47.8 297.4,48.3 297.9,47.8 298.4,48.1 298.9,48.0 299.4,48.5 299.9,47.9 300.4,47.8 300.9,47.7 301.4,48.2 301.9,47.0 302.4,47.3 302.9,46.6 303.4,45.7 303.9,45.5 304.4,45.3 304.9,45.9 305.4,46.4 305.9,46.7 306.4,47.5 306.9,47.8 307.4,48.0 307.9,48.1 308.4,47.9 308.9,47.6 309.4,48.4 309.9,47.6 310.4,47.7 310.9,47.9 311.4,47.3 311.9,47.8 312.4,47.7 312.9,47.3 313.4,47.0 313.9,46.9 314.4,46.9 314.9,46.7 315.4,47.4 315.9,46.5 316.4,47.3 316.9,47.3 317.4,47.5 317.9,48.0 318.4,48.3 318.9,48.5 319.4,48.5 319.9,48.6 320.4,49.0 320.9,49.6 321.4,50.0 321.9,50.1 322.4,50.1 322.9,50.2 323.4,50.2 323.9,50.3 324.4,50.3 324.9,50.4 325.4,50.4 325.9,50.5 326.4,50.5 326.9,50.6 327.4,50.6 327.9,50.7 328.4,50.7 328.9,50.8 329.4,50.8 329.9,50.8 330.4,50.9 330.9,50.9 330.9,52.7 330.4,52.7 329.9,52.8 329.4,52.8 328.9,52.8 328.4,52.9 327.9,52.9 327.4,53.0 326.9,53.0 326.4,53.1 325.9,53.1 325.4,53.2 324.9,53.2 324.4,53.3 323.9,53.3 323.4,53.4 322.9,53.4 322.4,53.5 321.9,53.5 321.4,53.6 320.9,54.0 320.4,54.6 319.9,55.0 319.4,55.1 318.9,55.1 318.4,55.3 317.9,55.6 317.4,56.1 316.9,56.3 316.4,56.3 315.9,57.1 315.4,56.2 314.9,56.9 314.4,56.7 313.9,56.7 313.4,56.6 312.9,56.3 312.4,55.9 311.9,55.8 311.4,56.3 310.9,55.7 310.4,55.9 309.9,56.0 309.4,55.2 308.9,56.0 308.4,55.7 307.9,55.5 307.4,55.6 306.9,55.8 306.4,56.1 305.9,56.9 305.4,57.2 304.9,57.7 304.4,58.3 303.9,58.1 303.4,57.9 302.9,57.0 302.4,56.3 301.9,56.6 301.4,55.4 300.9,55.9 300.4,55.8 299.9,55.7 299.4,55.1 298.9,55.6 298.4,55.5 297.9,55.8 297.4,55.3 296.9,55.8 296.4,55.1 295.9,55.2 295.4,54.8 294.9,54.6 294.4,54.5 293.9,54.5 293.4,55.3 292.9,54.3 292.4,54.1 291.9,54.0 291.4,54.3 290.9,54.2 290.4,54.1 289.9,54.0 289.4,53.9 288.9,53.9 288.4,53.8 287.9,53.7 287.4,53.6 286.9,53.5 286.4,53.5 285.9,53.4 285.4,53.3 284.9,53.2 284.4,53.2 283.9,53.2 283.4,53.2 282.9,53.1 282.4,53.1 281.9,53.1 281.4,53.0 280.9,53.0 280.4,53.0 279.9,53.0 279.4,52.9 278.9,52.9 278.4,52.9 277.9,52.9 277.4,52.8 276.9,52.8 276.4,52.8 275.9,52.7 275.4,52.7 274.9,52.7 274.4,52.7 273.9,52.6 273.4,52.6 272.9,52.6 272.4,52.5" fill="url(#g6)"/>
<path d="M306.8 54.5h0M303.3 56.3h0M311.2 49.1h0M304.4 49.7h0M304.9 54.2h0M309.6 51.8h0M309.2 52.2h0M302.2 50.8h0M304.7 55.8h0M302.7 52.6h0M304.5 54.4h0M304.9 51.8h0M301.6 50.6h0M300.8 49.2h0M307.0 51.6h0M299.8 53.7h0" stroke="#a52fa9" stroke-width="1.6" stroke-linecap="round" fill="none"/>
<path d="M307.6 52.4h0M313.1 53.2h0M299.5 54.3h0M312.3 49.4h0M309.9 52.6h0M311.6 50.5h0M304.7 51.5h0M302.5 53.4h0M307.3 50.1h0M308.0 54.6h0M307.1 55.0h0M307.9 50.6h0" stroke="#ba2d9c" stroke-width="1.6" stroke-linecap="round" fill="none"/>
<path d="M302.9 54.5h0M295.3 53.5h0M305.5 54.6h0M303.8 51.4h0M302.1 51.3h0M304.9 56.0h0M302.6 55.2h0M305.9 51.8h0M292.9 51.1h0M300.5 52.0h0M292.7 53.3h0M302.6 51.8h0M300.7 49.3h0M301.1 54.4h0M299.9 51.6h0" stroke="#9139b5" stroke-width="1.6" stroke-linecap="round" fill="none"/>
<path d="M316.6 53.8h0M312.7 48.2h0M316.8 51.8h0M312.3 49.6h0M318.3 51.6h0M315.6 48.5h0M314.0 54.0h0M317.3 52.4h0M314.6 50.9h0M315.1 52.5h0M320.3 53.2h0M315.7 50.0h0M318.7 52.6h0M313.7 53.4h0M308.9 49.5h0M317.7 48.6h0" stroke="#e62676" stroke-width="1.6" stroke-linecap="round" fill="none"/>
<path d="M289.8 53.0h0M294.5 53.4h0M299.0 54.1h0M290.8 50.0h0M291.8 53.2h0M296.7 50.1h0M297.4 53.1h0M301.5 48.6h0" stroke="#6e5cc9" stroke-width="1.6" stroke-linecap="round" fill="none"/>
<path d="M303.6 47.5h0M293.0 52.5h0M298.6 50.3h0M303.7 50.6h0M301.0 54.7h0M296.3 50.6h0M301.7 50.6h0M301.5 53.3h0M294.3 50.9h0M300.8 48.7h0M295.8 52.1h0" stroke="#804abf" stroke-width="1.6" stroke-linecap="round" fill="none"/>
<path d="M316.0 55.3h0M319.4 52.2h0M315.9 53.7h0M319.0 50.3h0M318.8 52.6h0M318.1 51.6h0M312.9 47.9h0M313.1 49.4h0M320.5 53.4h0M317.1 53.6h0M311.1 51.0h0M318.2 54.2h0M316.6 54.6h0M319.8 52.9h0M314.1 53.7h0M310.5 52.9h0M314.5 51.4h0M315.0 53.1h0" stroke="#f0246a" stroke-width="1.6" stroke-linecap="round" fill="none"/>
<path d="M290.7 50.0h0M293.6 50.4h0M298.4 53.4h0M296.6 51.1h0" stroke="#5674cf" stroke-width="1.6" stroke-linecap="round" fill="none"/>
<path d="M292.7 51.2h0M295.4 51.2h0M298.2 54.5h0M298.0 49.4h0M294.4 54.1h0M294.6 54.2h0M297.3 50.9h0" stroke="#6169cd" stroke-width="1.6" stroke-linecap="round" fill="none"/>
<path d="M306.8 50.4h0M311.4 51.7h0M316.9 51.8h0M313.7 53.0h0M311.1 52.1h0M311.3 50.8h0M305.0 54.5h0M306.0 49.2h0M316.6 52.0h0M308.2 51.1h0M313.4 47.7h0M319.6 51.2h0" stroke="#dc2883" stroke-width="1.6" stroke-linecap="round" fill="none"/>
<path d="M304.7 49.4h0M310.2 50.0h0M309.6 53.6h0M304.4 49.6h0M303.7 56.2h0M317.4 54.4h0M306.3 54.2h0M305.9 49.1h0M303.9 56.1h0M308.6 52.3h0M312.3 52.3h0" stroke="#cf2b8f" stroke-width="1.6" stroke-linecap="round" fill="none"/>
<path d="M291.8 53.4h0M298.0 50.5h0M289.7 51.6h0M297.4 50.7h0" stroke="#4a80d0" stroke-width="1.6" stroke-linecap="round" fill="none"/>
<text x="269.3" y="69.60000000000001" font-size="9.2" text-anchor="end">Spacing</text>
<linearGradient id="g7" gradientUnits="userSpaceOnUse" x1="292.2" y1="0" x2="315.9" y2="0"><stop offset="0.000" stop-color="#f0246a"/><stop offset="0.329" stop-color="#da2985"/><stop offset="0.422" stop-color="#b12ea2"/><stop offset="0.481" stop-color="#903ab6"/><stop offset="0.540" stop-color="#8b3fb9"/><stop offset="0.624" stop-color="#7456c6"/><stop offset="0.793" stop-color="#5d6dce"/><stop offset="1.000" stop-color="#507acf"/></linearGradient>
<polygon points="292.2,66.6 292.7,66.5 293.2,66.5 293.7,66.4 294.2,66.4 294.7,66.3 295.2,66.3 295.7,66.2 296.2,66.2 296.7,66.1 297.2,66.1 297.7,66.1 298.2,66.0 298.7,66.0 299.2,65.9 299.7,65.9 300.2,65.7 300.7,65.3 301.2,65.0 301.7,64.9 302.2,64.5 302.7,62.7 303.2,62.0 303.7,60.8 304.2,61.4 304.7,60.8 305.2,61.0 305.7,62.0 306.2,62.7 306.7,62.6 307.2,64.2 307.7,64.3 308.2,64.4 308.7,63.9 309.2,63.8 309.7,64.6 310.2,64.9 310.7,65.1 311.2,65.3 311.7,65.4 312.2,65.5 312.7,65.7 313.2,65.8 313.7,65.9 314.2,66.0 314.7,66.2 315.2,66.3 315.7,66.4 315.7,68.4 315.2,68.5 314.7,68.6 314.2,68.8 313.7,68.9 313.2,69.0 312.7,69.1 312.2,69.3 311.7,69.4 311.2,69.5 310.7,69.7 310.2,69.9 309.7,70.2 309.2,71.0 308.7,70.9 308.2,70.4 307.7,70.5 307.2,70.6 306.7,72.2 306.2,72.1 305.7,72.8 305.2,73.8 304.7,74.0 304.2,73.4 303.7,74.0 303.2,72.8 302.7,72.1 302.2,70.3 301.7,69.9 301.2,69.8 300.7,69.5 300.2,69.1 299.7,68.9 299.2,68.9 298.7,68.8 298.2,68.8 297.7,68.7 297.2,68.7 296.7,68.7 296.2,68.6 295.7,68.6 295.2,68.5 294.7,68.5 294.2,68.4 293.7,68.4 293.2,68.3 292.7,68.3 292.2,68.2" fill="url(#g7)"/>
<path d="M305.6 69.7h0M304.8 63.4h0M305.2 72.6h0M304.3 71.2h0M306.6 67.2h0M305.9 65.5h0M304.0 66.2h0M303.6 63.7h0M304.5 70.5h0M307.7 66.0h0M308.1 69.3h0M305.2 66.0h0" stroke="#804abf" stroke-width="1.6" stroke-linecap="round" fill="none"/>
<path d="M304.8 70.3h0M303.1 68.6h0M303.8 71.5h0M302.7 67.5h0M303.8 71.8h0M304.6 63.3h0M303.7 71.8h0M303.5 65.4h0" stroke="#9139b5" stroke-width="1.6" stroke-linecap="round" fill="none"/>
<path d="M302.4 69.6h0M304.1 69.8h0M306.2 71.0h0M302.7 70.3h0M301.6 66.6h0M300.8 65.8h0M302.3 67.2h0M304.7 70.6h0M303.8 64.1h0" stroke="#a52fa9" stroke-width="1.6" stroke-linecap="round" fill="none"/>
<path d="M310.9 66.0h0" stroke="#4a80d0" stroke-width="1.6" stroke-linecap="round" fill="none"/>
<path d="M306.9 68.1h0M306.1 69.9h0" stroke="#ba2d9c" stroke-width="1.6" stroke-linecap="round" fill="none"/>
<path d="M308.8 66.3h0M309.7 65.9h0M306.1 70.7h0M308.5 66.7h0" stroke="#6e5cc9" stroke-width="1.6" stroke-linecap="round" fill="none"/>
<path d="M301.6 68.5h0" stroke="#e62676" stroke-width="1.6" stroke-linecap="round" fill="none"/>
<path d="M300.9 66.6h0" stroke="#cf2b8f" stroke-width="1.6" stroke-linecap="round" fill="none"/>
<path d="M307.5 65.7h0M307.7 69.6h0M306.3 69.8h0M306.8 64.0h0M308.5 66.0h0M308.7 67.5h0M309.8 66.0h0" stroke="#6169cd" stroke-width="1.6" stroke-linecap="round" fill="none"/>
<path d="M310.9 67.6h0M309.1 67.2h0" stroke="#5674cf" stroke-width="1.6" stroke-linecap="round" fill="none"/>
<line x1="266.1" y1="83.3" x2="414.7" y2="83.3" stroke="#333" stroke-width="0.8"/>
<line x1="285.70000000000005" y1="83.3" x2="285.70000000000005" y2="85.0" stroke="#333" stroke-width="0.7"/>
<text x="285.70000000000005" y="92.6" font-size="9.2" text-anchor="middle">-0.1</text>
<line x1="306.1" y1="83.3" x2="306.1" y2="85.0" stroke="#333" stroke-width="0.7"/>
<text x="306.1" y="92.6" font-size="9.2" text-anchor="middle">0.0</text>
<line x1="326.5" y1="83.3" x2="326.5" y2="85.0" stroke="#333" stroke-width="0.7"/>
<text x="326.5" y="92.6" font-size="9.2" text-anchor="middle">0.1</text>
<line x1="346.90000000000003" y1="83.3" x2="346.90000000000003" y2="85.0" stroke="#333" stroke-width="0.7"/>
<text x="346.90000000000003" y="92.6" font-size="9.2" text-anchor="middle">0.2</text>
<line x1="367.3" y1="83.3" x2="367.3" y2="85.0" stroke="#333" stroke-width="0.7"/>
<text x="367.3" y="92.6" font-size="9.2" text-anchor="middle">0.3</text>
<line x1="387.70000000000005" y1="83.3" x2="387.70000000000005" y2="85.0" stroke="#333" stroke-width="0.7"/>
<text x="387.70000000000005" y="92.6" font-size="9.2" text-anchor="middle">0.4</text>
<line x1="408.1" y1="83.3" x2="408.1" y2="85.0" stroke="#333" stroke-width="0.7"/>
<text x="408.1" y="92.6" font-size="9.2" text-anchor="middle">0.5</text>
<text x="341.7" y="103.9" font-size="9.2" text-anchor="middle">SHAP value (impact on model output)</text>
<linearGradient id="g8" x1="0" y1="1" x2="0" y2="0"><stop offset="0" stop-color="#4a80d0"/><stop offset="0.25" stop-color="#6a60cc"/><stop offset="0.5" stop-color="#9a30b0"/><stop offset="0.75" stop-color="#d42a8c"/><stop offset="1" stop-color="#f0246a"/></linearGradient>
<rect x="421.7" y="24.2" width="2.6" height="59.5" fill="url(#g8)"/>
<text x="424.0" y="20.7" font-size="9.2" text-anchor="start">High</text>
<text x="424.0" y="91.2" font-size="9.2" text-anchor="start">Low</text>
<text x="437.0" y="53.3" font-size="9.2" text-anchor="middle" transform="rotate(-90 437.0 53.3)">Feature value</text>
<text x="466.8" y="10.7" font-size="14" text-anchor="start" font-weight="bold" style="stroke:none">c</text>
<text x="574.5" y="10.2" font-size="9" text-anchor="middle" font-weight="bold">Spectral emissivity at 12 µm</text>
<line x1="501.1" y1="36.5" x2="647.5" y2="36.5" stroke="#c8c8c8" stroke-width="0.7" stroke-dasharray="0.8 2.4"/>
<line x1="501.1" y1="52.2" x2="647.5" y2="52.2" stroke="#c8c8c8" stroke-width="0.7" stroke-dasharray="0.8 2.4"/>
<line x1="501.1" y1="67.4" x2="647.5" y2="67.4" stroke="#c8c8c8" stroke-width="0.7" stroke-dasharray="0.8 2.4"/>
<line x1="536.4" y1="21.8" x2="536.4" y2="83.3" stroke="#c4c4c4" stroke-width="0.9"/>
<text x="499.6" y="38.7" font-size="9.2" text-anchor="end">Speed</text>
<linearGradient id="g9" gradientUnits="userSpaceOnUse" x1="527.5" y1="0" x2="641.3" y2="0"><stop offset="0.000" stop-color="#5773ce"/><stop offset="0.029" stop-color="#903ab6"/><stop offset="0.033" stop-color="#df287e"/><stop offset="0.073" stop-color="#d42a8c"/><stop offset="0.079" stop-color="#7456c6"/><stop offset="0.154" stop-color="#507acf"/><stop offset="0.417" stop-color="#4a80d0"/><stop offset="1.000" stop-color="#4a80d0"/></linearGradient>
<polygon points="527.5,35.8 528.0,35.6 528.5,35.5 529.0,35.4 529.5,35.3 530.0,35.1 530.5,35.0 531.0,33.6 531.5,30.4 532.0,30.1 532.5,29.7 533.0,30.1 533.5,30.3 534.0,29.9 534.5,30.0 535.0,29.8 535.5,30.0 536.0,31.5 536.5,34.4 537.0,34.4 537.5,34.5 538.0,34.5 538.5,34.6 539.0,34.6 539.5,34.7 540.0,34.8 540.5,34.8 541.0,34.9 541.5,34.9 542.0,35.0 542.5,35.1 543.0,35.1 543.5,35.2 544.0,35.2 544.5,35.3 545.0,35.4 545.5,35.4 546.0,35.4 546.5,35.4 547.0,35.4 547.5,35.4 548.0,35.4 548.5,35.4 549.0,35.4 549.5,35.4 550.0,35.4 550.5,35.4 551.0,35.4 551.5,35.4 552.0,35.4 552.5,35.4 553.0,35.4 553.5,35.4 554.0,35.4 554.5,35.4 555.0,35.4 555.5,35.4 556.0,35.4 556.5,35.4 557.0,35.5 557.5,35.5 558.0,35.5 558.5,35.5 559.0,35.5 559.5,35.5 560.0,35.5 560.5,35.5 561.0,35.5 561.5,35.5 562.0,35.5 562.5,35.5 563.0,35.5 563.5,35.5 564.0,35.5 564.5,35.5 565.0,35.5 565.5,35.5 566.0,35.5 566.5,35.5 567.0,35.5 567.5,35.5 568.0,35.5 568.5,35.5 569.0,35.5 569.5,35.6 570.0,35.6 570.5,35.6 571.0,35.6 571.5,35.6 572.0,35.6 572.5,35.6 573.0,35.6 573.5,35.6 574.0,35.6 574.5,35.6 575.0,35.6 575.5,35.6 576.0,35.6 576.5,35.6 577.0,35.6 577.5,35.6 578.0,35.6 578.5,35.6 579.0,35.6 579.5,35.6 580.0,35.6 580.5,35.6 581.0,35.6 581.5,35.6 582.0,35.6 582.5,35.6 583.0,35.6 583.5,35.6 584.0,35.6 584.5,35.6 585.0,35.6 585.5,35.6 586.0,35.6 586.5,35.6 587.0,35.6 587.5,35.6 588.0,35.6 588.5,35.6 589.0,35.6 589.5,35.6 590.0,35.6 590.5,35.6 591.0,35.6 591.5,35.6 592.0,35.6 592.5,35.6 593.0,35.6 593.5,35.6 594.0,35.6 594.5,35.6 595.0,35.6 595.5,35.6 596.0,35.6 596.5,35.6 597.0,35.6 597.5,35.6 598.0,35.6 598.5,35.6 599.0,35.6 599.5,35.6 600.0,35.6 600.5,35.6 601.0,35.6 601.5,35.6 602.0,35.6 602.5,35.6 603.0,35.6 603.5,35.6 604.0,35.6 604.5,35.6 605.0,35.6 605.5,35.6 606.0,35.6 606.5,35.6 607.0,35.6 607.5,35.6 608.0,35.6 608.5,35.6 609.0,35.6 609.5,35.6 610.0,35.6 610.5,35.6 611.0,35.6 611.5,35.6 612.0,35.6 612.5,35.6 613.0,35.6 613.5,35.6 614.0,35.6 614.5,35.6 615.0,35.6 615.5,35.6 616.0,35.6 616.5,35.6 617.0,35.6 617.5,35.6 618.0,35.6 618.5,35.6 619.0,35.6 619.5,35.6 620.0,35.6 620.5,35.6 621.0,35.6 621.5,35.6 622.0,35.6 622.5,35.6 623.0,35.6 623.5,35.6 624.0,35.6 624.5,35.6 625.0,35.6 625.5,35.6 626.0,35.6 626.5,35.6 627.0,35.6 627.5,35.6 628.0,35.6 628.5,35.6 629.0,35.6 629.5,35.6 630.0,35.6 630.5,35.6 631.0,35.6 631.5,35.6 632.0,35.6 632.5,35.6 633.0,35.6 633.5,35.6 634.0,35.6 634.5,35.6 635.0,35.6 635.5,35.6 636.0,35.6 636.5,35.6 637.0,35.6 637.5,35.6 638.0,35.6 638.5,35.6 639.0,35.6 639.5,35.6 640.0,35.6 640.5,35.6 641.0,35.6 641.0,37.4 640.5,37.4 640.0,37.4 639.5,37.4 639.0,37.4 638.5,37.4 638.0,37.4 637.5,37.4 637.0,37.4 636.5,37.4 636.0,37.4 635.5,37.4 635.0,37.4 634.5,37.4 634.0,37.4 633.5,37.4 633.0,37.4 632.5,37.4 632.0,37.4 631.5,37.4 631.0,37.4 630.5,37.4 630.0,37.4 629.5,37.4 629.0,37.4 628.5,37.4 628.0,37.4 627.5,37.4 627.0,37.4 626.5,37.4 626.0,37.4 625.5,37.4 625.0,37.4 624.5,37.4 624.0,37.4 623.5,37.4 623.0,37.4 622.5,37.4 622.0,37.4 621.5,37.4 621.0,37.4 620.5,37.4 620.0,37.4 619.5,37.4 619.0,37.4 618.5,37.4 618.0,37.4 617.5,37.4 617.0,37.4 616.5,37.4 616.0,37.4 615.5,37.4 615.0,37.4 614.5,37.4 614.0,37.4 613.5,37.4 613.0,37.4 612.5,37.4 612.0,37.4 611.5,37.4 611.0,37.4 610.5,37.4 610.0,37.4 609.5,37.4 609.0,37.4 608.5,37.4 608.0,37.4 607.5,37.4 607.0,37.4 606.5,37.4 606.0,37.4 605.5,37.4 605.0,37.4 604.5,37.4 604.0,37.4 603.5,37.4 603.0,37.4 602.5,37.4 602.0,37.4 601.5,37.4 601.0,37.4 600.5,37.4 600.0,37.4 599.5,37.4 599.0,37.4 598.5,37.4 598.0,37.4 597.5,37.4 597.0,37.4 596.5,37.4 596.0,37.4 595.5,37.4 595.0,37.4 594.5,37.4 594.0,37.4 593.5,37.4 593.0,37.4 592.5,37.4 592.0,37.4 591.5,37.4 591.0,37.4 590.5,37.4 590.0,37.4 589.5,37.4 589.0,37.4 588.5,37.4 588.0,37.4 587.5,37.4 587.0,37.4 586.5,37.4 586.0,37.4 585.5,37.4 585.0,37.4 584.5,37.4 584.0,37.4 583.5,37.4 583.0,37.4 582.5,37.4 582.0,37.4 581.5,37.4 581.0,37.4 580.5,37.4 580.0,37.4 579.5,37.4 579.0,37.4 578.5,37.4 578.0,37.4 577.5,37.4 577.0,37.4 576.5,37.4 576.0,37.4 575.5,37.4 575.0,37.4 574.5,37.4 574.0,37.4 573.5,37.4 573.0,37.4 572.5,37.4 572.0,37.4 571.5,37.4 571.0,37.4 570.5,37.4 570.0,37.4 569.5,37.4 569.0,37.5 568.5,37.5 568.0,37.5 567.5,37.5 567.0,37.5 566.5,37.5 566.0,37.5 565.5,37.5 565.0,37.5 564.5,37.5 564.0,37.5 563.5,37.5 563.0,37.5 562.5,37.5 562.0,37.5 561.5,37.5 561.0,37.5 560.5,37.5 560.0,37.5 559.5,37.5 559.0,37.5 558.5,37.5 558.0,37.5 557.5,37.5 557.0,37.5 556.5,37.6 556.0,37.6 555.5,37.6 555.0,37.6 554.5,37.6 554.0,37.6 553.5,37.6 553.0,37.6 552.5,37.6 552.0,37.6 551.5,37.6 551.0,37.6 550.5,37.6 550.0,37.6 549.5,37.6 549.0,37.6 548.5,37.6 548.0,37.6 547.5,37.6 547.0,37.6 546.5,37.6 546.0,37.6 545.5,37.6 545.0,37.6 544.5,37.7 544.0,37.8 543.5,37.8 543.0,37.9 542.5,37.9 542.0,38.0 541.5,38.1 541.0,38.1 540.5,38.2 540.0,38.2 539.5,38.3 539.0,38.4 538.5,38.4 538.0,38.5 537.5,38.5 537.0,38.6 536.5,38.6 536.0,41.5 535.5,43.0 535.0,43.2 534.5,43.0 534.0,43.1 533.5,42.7 533.0,42.9 532.5,43.3 532.0,42.9 531.5,42.6 531.0,39.4 530.5,38.0 530.0,37.9 529.5,37.7 529.0,37.6 528.5,37.5 528.0,37.4 527.5,37.2" fill="url(#g9)"/>
<path d="M536.7 37.0h0M535.9 38.0h0" stroke="#804abf" stroke-width="1.6" stroke-linecap="round" fill="none"/>
<path d="M533.8 37.8h0M532.9 33.4h0M531.8 35.8h0M531.9 37.6h0M533.2 32.2h0M532.0 40.0h0M535.8 39.8h0M533.7 33.8h0M535.4 37.7h0M532.7 32.0h0" stroke="#e62676" stroke-width="1.6" stroke-linecap="round" fill="none"/>
<path d="M534.2 36.1h0M532.2 40.7h0M535.2 39.7h0M532.2 35.7h0M531.5 38.1h0" stroke="#cf2b8f" stroke-width="1.6" stroke-linecap="round" fill="none"/>
<path d="M534.6 40.3h0M531.9 38.5h0M535.5 40.2h0M533.0 33.6h0M534.8 39.1h0M534.2 31.6h0" stroke="#dc2883" stroke-width="1.6" stroke-linecap="round" fill="none"/>
<path d="M531.5 40.6h0M532.6 38.7h0M534.8 36.4h0M531.3 35.9h0" stroke="#f0246a" stroke-width="1.6" stroke-linecap="round" fill="none"/>
<path d="M534.8 41.0h0M534.0 40.0h0M534.4 38.8h0M533.5 39.8h0" stroke="#ba2d9c" stroke-width="1.6" stroke-linecap="round" fill="none"/>
<path d="M535.3 32.1h0" stroke="#a52fa9" stroke-width="1.6" stroke-linecap="round" fill="none"/>
<path d="M536.2 36.6h0" stroke="#9139b5" stroke-width="1.6" stroke-linecap="round" fill="none"/>
<rect x="577" y="34.9" width="0.7999999999999545" height="3.2" fill="#fff"/>
<rect x="584" y="34.9" width="0.7999999999999545" height="3.2" fill="#fff"/>
<rect x="606" y="34.9" width="0.7999999999999545" height="3.2" fill="#fff"/>
<rect x="620" y="34.9" width="0.7999999999999545" height="3.2" fill="#fff"/>
<text x="499.6" y="54.400000000000006" font-size="9.2" text-anchor="end">Spacing</text>
<linearGradient id="g10" gradientUnits="userSpaceOnUse" x1="516.4" y1="0" x2="564.0" y2="0"><stop offset="0.000" stop-color="#8743bb"/><stop offset="0.342" stop-color="#7456c6"/><stop offset="0.366" stop-color="#5773ce"/><stop offset="0.408" stop-color="#5d6dce"/><stop offset="0.422" stop-color="#da2985"/><stop offset="0.527" stop-color="#ea2571"/><stop offset="0.559" stop-color="#f0246a"/><stop offset="1.000" stop-color="#f0246a"/></linearGradient>
<polygon points="516.4,51.5 516.9,51.4 517.4,51.4 517.9,51.4 518.4,51.4 518.9,51.4 519.4,51.4 519.9,51.4 520.4,51.4 520.9,51.4 521.4,51.4 521.9,51.3 522.4,51.3 522.9,51.3 523.4,51.3 523.9,51.3 524.4,51.3 524.9,51.3 525.4,51.3 525.9,51.3 526.4,51.3 526.9,51.3 527.4,51.2 527.9,51.2 528.4,51.2 528.9,51.2 529.4,51.2 529.9,51.2 530.4,51.2 530.9,51.2 531.4,51.2 531.9,51.2 532.4,51.2 532.9,50.3 533.4,47.7 533.9,45.7 534.4,46.7 534.9,47.2 535.4,46.8 535.9,47.0 536.4,48.5 536.9,48.7 537.4,49.0 537.9,49.3 538.4,49.0 538.9,49.5 539.4,49.2 539.9,49.5 540.4,48.4 540.9,49.1 541.4,49.7 541.9,49.9 542.4,50.4 542.9,50.9 543.4,51.1 543.9,51.1 544.4,51.1 544.9,51.1 545.4,51.1 545.9,51.1 546.4,51.1 546.9,51.1 547.4,51.1 547.9,51.1 548.4,51.1 548.9,51.1 549.4,51.1 549.9,51.1 550.4,51.1 550.9,51.1 551.4,51.1 551.9,51.1 552.4,51.1 552.9,51.1 553.4,51.1 553.9,51.2 554.4,51.2 554.9,51.2 555.4,51.2 555.9,51.2 556.4,51.2 556.9,51.2 557.4,51.2 557.9,51.2 558.4,51.2 558.9,51.2 559.4,51.2 559.9,51.2 560.4,51.2 560.9,51.2 561.4,51.2 561.9,51.2 562.4,51.2 562.9,51.2 563.4,51.2 563.9,51.2 563.9,53.2 563.4,53.2 562.9,53.2 562.4,53.2 561.9,53.2 561.4,53.2 560.9,53.2 560.4,53.2 559.9,53.2 559.4,53.2 558.9,53.2 558.4,53.2 557.9,53.2 557.4,53.2 556.9,53.2 556.4,53.2 555.9,53.2 555.4,53.2 554.9,53.2 554.4,53.2 553.9,53.2 553.4,53.3 552.9,53.3 552.4,53.3 551.9,53.3 551.4,53.3 550.9,53.3 550.4,53.3 549.9,53.3 549.4,53.3 548.9,53.3 548.4,53.3 547.9,53.3 547.4,53.3 546.9,53.3 546.4,53.3 545.9,53.3 545.4,53.3 544.9,53.3 544.4,53.3 543.9,53.3 543.4,53.3 542.9,53.5 542.4,54.0 541.9,54.5 541.4,54.7 540.9,55.3 540.4,56.0 539.9,54.9 539.4,55.2 538.9,54.9 538.4,55.4 537.9,55.1 537.4,55.4 536.9,55.7 536.4,55.9 535.9,57.4 535.4,57.6 534.9,57.2 534.4,57.7 533.9,58.7 533.4,56.7 532.9,54.1 532.4,53.2 531.9,53.2 531.4,53.2 530.9,53.2 530.4,53.2 529.9,53.2 529.4,53.2 528.9,53.2 528.4,53.2 527.9,53.2 527.4,53.2 526.9,53.1 526.4,53.1 525.9,53.1 525.4,53.1 524.9,53.1 524.4,53.1 523.9,53.1 523.4,53.1 522.9,53.1 522.4,53.1 521.9,53.1 521.4,53.0 520.9,53.0 520.4,53.0 519.9,53.0 519.4,53.0 518.9,53.0 518.4,53.0 517.9,53.0 517.4,53.0 516.9,53.0 516.4,53.0" fill="url(#g10)"/>
<path d="M535.7 53.9h0M535.9 48.1h0M534.9 52.5h0M533.7 54.0h0M532.9 50.8h0M533.6 52.6h0M533.8 52.4h0" stroke="#4a80d0" stroke-width="1.6" stroke-linecap="round" fill="none"/>
<path d="M535.9 55.8h0M535.3 52.0h0" stroke="#6169cd" stroke-width="1.6" stroke-linecap="round" fill="none"/>
<path d="M534.5 52.4h0M535.1 52.2h0" stroke="#6e5cc9" stroke-width="1.6" stroke-linecap="round" fill="none"/>
<path d="M538.1 54.5h0M536.3 50.7h0M542.3 51.6h0" stroke="#ba2d9c" stroke-width="1.6" stroke-linecap="round" fill="none"/>
<path d="M533.2 53.6h0M532.8 53.9h0M534.5 57.0h0M535.9 49.4h0" stroke="#804abf" stroke-width="1.6" stroke-linecap="round" fill="none"/>
<path d="M533.6 55.4h0M534.6 52.0h0M534.0 53.7h0" stroke="#5674cf" stroke-width="1.6" stroke-linecap="round" fill="none"/>
<path d="M538.9 50.1h0M540.6 51.8h0M537.2 52.9h0M537.5 50.6h0M539.6 52.3h0M538.3 54.3h0M539.9 51.3h0M541.2 52.0h0" stroke="#f0246a" stroke-width="1.6" stroke-linecap="round" fill="none"/>
<path d="M541.1 50.4h0M541.9 50.6h0M539.0 52.9h0M536.6 53.6h0M539.5 54.4h0M536.8 51.2h0" stroke="#e62676" stroke-width="1.6" stroke-linecap="round" fill="none"/>
<path d="M536.1 51.4h0" stroke="#dc2883" stroke-width="1.6" stroke-linecap="round" fill="none"/>
<path d="M538.7 51.6h0" stroke="#a52fa9" stroke-width="1.6" stroke-linecap="round" fill="none"/>
<path d="M540.3 50.7h0M537.9 54.4h0" stroke="#cf2b8f" stroke-width="1.6" stroke-linecap="round" fill="none"/>
<rect x="548.3" y="50.6" width="0.7000000000000455" height="3.2" fill="#fff"/>
<rect x="558" y="50.6" width="2" height="3.2" fill="#fff"/>
<text x="499.6" y="69.60000000000001" font-size="9.2" text-anchor="end">Power</text>
<linearGradient id="g11" gradientUnits="userSpaceOnUse" x1="506.4" y1="0" x2="573.0" y2="0"><stop offset="0.000" stop-color="#4a80d0"/><stop offset="0.384" stop-color="#5d6dce"/><stop offset="0.423" stop-color="#8743bb"/><stop offset="0.453" stop-color="#a62fa9"/><stop offset="0.474" stop-color="#c82b93"/><stop offset="0.655" stop-color="#e52678"/><stop offset="1.000" stop-color="#f0246a"/></linearGradient>
<polygon points="506.4,66.7 506.9,66.6 507.4,66.6 507.9,66.6 508.4,66.6 508.9,66.6 509.4,66.6 509.9,66.6 510.4,66.6 510.9,66.5 511.4,66.5 511.9,66.5 512.4,66.5 512.9,66.5 513.4,66.5 513.9,66.5 514.4,66.5 514.9,66.5 515.4,66.4 515.9,66.4 516.4,66.4 516.9,66.4 517.4,66.4 517.9,66.4 518.4,66.4 518.9,66.4 519.4,66.3 519.9,66.3 520.4,66.3 520.9,66.3 521.4,66.3 521.9,66.3 522.4,66.3 522.9,66.3 523.4,66.3 523.9,66.2 524.4,66.2 524.9,66.2 525.4,66.2 525.9,66.2 526.4,66.2 526.9,66.2 527.4,66.2 527.9,66.1 528.4,66.1 528.9,66.1 529.4,66.1 529.9,66.1 530.4,66.1 530.9,66.1 531.4,66.1 531.9,66.1 532.4,65.3 532.9,64.2 533.4,63.1 533.9,62.4 534.4,61.6 534.9,61.2 535.4,60.8 535.9,61.0 536.4,61.6 536.9,62.3 537.4,63.4 537.9,65.0 538.4,65.3 538.9,65.3 539.4,65.4 539.9,65.4 540.4,65.5 540.9,65.5 541.4,65.5 541.9,65.6 542.4,65.6 542.9,65.7 543.4,65.7 543.9,65.7 544.4,65.8 544.9,65.8 545.4,65.9 545.9,65.9 546.4,66.0 546.9,66.0 547.4,66.0 547.9,66.1 548.4,66.1 548.9,66.2 549.4,66.2 549.9,66.2 550.4,66.3 550.9,66.3 551.4,66.3 551.9,66.3 552.4,66.3 552.9,66.3 553.4,66.3 553.9,66.3 554.4,66.3 554.9,66.3 555.4,66.3 555.9,66.3 556.4,66.3 556.9,66.3 557.4,66.3 557.9,66.3 558.4,66.3 558.9,66.3 559.4,66.3 559.9,66.3 560.4,66.3 560.9,66.3 561.4,66.3 561.9,66.4 562.4,66.4 562.9,66.4 563.4,66.4 563.9,66.4 564.4,66.4 564.9,66.4 565.4,66.4 565.9,66.4 566.4,66.4 566.9,66.4 567.4,66.4 567.9,66.4 568.4,66.4 568.9,66.4 569.4,66.4 569.9,66.4 570.4,66.4 570.9,66.4 571.4,66.4 571.9,66.4 572.4,66.4 572.9,66.4 572.9,68.4 572.4,68.4 571.9,68.4 571.4,68.4 570.9,68.4 570.4,68.4 569.9,68.4 569.4,68.4 568.9,68.4 568.4,68.4 567.9,68.4 567.4,68.4 566.9,68.4 566.4,68.4 565.9,68.4 565.4,68.4 564.9,68.4 564.4,68.4 563.9,68.4 563.4,68.4 562.9,68.4 562.4,68.4 561.9,68.4 561.4,68.5 560.9,68.5 560.4,68.5 559.9,68.5 559.4,68.5 558.9,68.5 558.4,68.5 557.9,68.5 557.4,68.5 556.9,68.5 556.4,68.5 555.9,68.5 555.4,68.5 554.9,68.5 554.4,68.5 553.9,68.5 553.4,68.5 552.9,68.5 552.4,68.5 551.9,68.5 551.4,68.5 550.9,68.5 550.4,68.5 549.9,68.6 549.4,68.6 548.9,68.6 548.4,68.7 547.9,68.7 547.4,68.8 546.9,68.8 546.4,68.9 545.9,68.9 545.4,68.9 544.9,69.0 544.4,69.0 543.9,69.1 543.4,69.1 542.9,69.1 542.4,69.2 541.9,69.2 541.4,69.3 540.9,69.3 540.4,69.4 539.9,69.4 539.4,69.4 538.9,69.5 538.4,69.5 537.9,69.8 537.4,71.4 536.9,72.5 536.4,73.2 535.9,73.8 535.4,74.0 534.9,73.6 534.4,73.2 533.9,72.4 533.4,71.7 532.9,70.6 532.4,69.5 531.9,68.7 531.4,68.7 530.9,68.7 530.4,68.7 529.9,68.7 529.4,68.7 528.9,68.7 528.4,68.7 527.9,68.7 527.4,68.6 526.9,68.6 526.4,68.6 525.9,68.6 525.4,68.6 524.9,68.6 524.4,68.6 523.9,68.6 523.4,68.5 522.9,68.5 522.4,68.5 521.9,68.5 521.4,68.5 520.9,68.5 520.4,68.5 519.9,68.5 519.4,68.5 518.9,68.4 518.4,68.4 517.9,68.4 517.4,68.4 516.9,68.4 516.4,68.4 515.9,68.4 515.4,68.4 514.9,68.3 514.4,68.3 513.9,68.3 513.4,68.3 512.9,68.3 512.4,68.3 511.9,68.3 511.4,68.3 510.9,68.3 510.4,68.2 509.9,68.2 509.4,68.2 508.9,68.2 508.4,68.2 507.9,68.2 507.4,68.2 506.9,68.2 506.4,68.2" fill="url(#g11)"/>
<path d="M537.9 66.3h0" stroke="#dc2883" stroke-width="1.6" stroke-linecap="round" fill="none"/>
<path d="M536.7 65.6h0M537.4 66.8h0M535.6 62.6h0" stroke="#cf2b8f" stroke-width="1.6" stroke-linecap="round" fill="none"/>
<path d="M534.2 64.3h0M535.7 71.4h0M537.0 62.8h0M533.2 65.3h0" stroke="#6e5cc9" stroke-width="1.6" stroke-linecap="round" fill="none"/>
<path d="M533.3 63.9h0M534.4 64.3h0M533.6 65.4h0" stroke="#6169cd" stroke-width="1.6" stroke-linecap="round" fill="none"/>
<path d="M535.2 64.1h0M533.9 68.2h0M534.8 63.0h0M534.7 62.6h0M537.8 66.4h0M534.5 69.9h0M536.7 64.6h0" stroke="#9139b5" stroke-width="1.6" stroke-linecap="round" fill="none"/>
<path d="M535.8 70.8h0M535.5 68.7h0M535.0 70.0h0M535.9 71.1h0M536.6 66.0h0" stroke="#a52fa9" stroke-width="1.6" stroke-linecap="round" fill="none"/>
<path d="M535.2 66.6h0M533.7 64.2h0M534.4 71.8h0M536.0 68.2h0" stroke="#804abf" stroke-width="1.6" stroke-linecap="round" fill="none"/>
<path d="M537.1 67.1h0" stroke="#ba2d9c" stroke-width="1.6" stroke-linecap="round" fill="none"/>
<path d="M533.0 65.9h0" stroke="#4a80d0" stroke-width="1.6" stroke-linecap="round" fill="none"/>
<rect x="508.3" y="65.80000000000001" width="1.8999999999999773" height="3.2" fill="#fff"/>
<rect x="552" y="65.80000000000001" width="1" height="3.2" fill="#fff"/>
<rect x="560" y="65.80000000000001" width="1" height="3.2" fill="#fff"/>
<line x1="499.6" y1="83.3" x2="647.5" y2="83.3" stroke="#333" stroke-width="0.8"/>
<line x1="505.29999999999995" y1="83.3" x2="505.29999999999995" y2="85.0" stroke="#333" stroke-width="0.7"/>
<text x="505.29999999999995" y="92.6" font-size="9.2" text-anchor="middle">-0.2</text>
<line x1="536.4" y1="83.3" x2="536.4" y2="85.0" stroke="#333" stroke-width="0.7"/>
<text x="536.4" y="92.6" font-size="9.2" text-anchor="middle">0.0</text>
<line x1="567.5" y1="83.3" x2="567.5" y2="85.0" stroke="#333" stroke-width="0.7"/>
<text x="567.5" y="92.6" font-size="9.2" text-anchor="middle">0.2</text>
<line x1="598.6" y1="83.3" x2="598.6" y2="85.0" stroke="#333" stroke-width="0.7"/>
<text x="598.6" y="92.6" font-size="9.2" text-anchor="middle">0.4</text>
<line x1="629.6999999999999" y1="83.3" x2="629.6999999999999" y2="85.0" stroke="#333" stroke-width="0.7"/>
<text x="629.6999999999999" y="92.6" font-size="9.2" text-anchor="middle">0.6</text>
<text x="574.8499999999999" y="103.9" font-size="9.2" text-anchor="middle">SHAP value (impact on model output)</text>
<linearGradient id="g12" x1="0" y1="1" x2="0" y2="0"><stop offset="0" stop-color="#4a80d0"/><stop offset="0.25" stop-color="#6a60cc"/><stop offset="0.5" stop-color="#9a30b0"/><stop offset="0.75" stop-color="#d42a8c"/><stop offset="1" stop-color="#f0246a"/></linearGradient>
<rect x="653.5" y="24.2" width="2.6" height="59.5" fill="url(#g12)"/>
<text x="655.8" y="20.7" font-size="9.2" text-anchor="start">High</text>
<text x="655.8" y="91.2" font-size="9.2" text-anchor="start">Low</text>
<text x="668.8" y="53.3" font-size="9.2" text-anchor="middle" transform="rotate(-90 668.8 53.3)">Feature value</text>
<text x="0.8" y="137.6" font-size="14" text-anchor="start" font-weight="bold" style="stroke:none">d</text>
<text x="112.0" y="140.0" font-size="9" text-anchor="middle" font-weight="bold">Average emissivity</text>
<rect x="35.6" y="236.5" width="73.4" height="35.69999999999999" fill="#e9e9e9"/>
<rect x="109.0" y="185.4" width="74.4" height="86.79999999999998" fill="#e9e9e9"/>
<line x1="36" y1="203.3" x2="183.4" y2="203.3" stroke="#bdbdbd" stroke-width="0.7" stroke-dasharray="0.8 2.4"/>
<line x1="87.0" y1="205.3" x2="87.0" y2="267.7" stroke="#fff" stroke-width="2.6" stroke-linecap="round" opacity="0.9"/>
<line x1="94.3" y1="206.3" x2="94.3" y2="255.7" stroke="#fff" stroke-width="2.6" stroke-linecap="round" opacity="0.9"/>
<line x1="101.7" y1="205.9" x2="101.7" y2="246.7" stroke="#fff" stroke-width="2.6" stroke-linecap="round" opacity="0.9"/>
<line x1="109.0" y1="201.3" x2="109.0" y2="232.7" stroke="#fff" stroke-width="2.6" stroke-linecap="round" opacity="0.9"/>
<line x1="116.3" y1="203.3" x2="116.3" y2="229.7" stroke="#fff" stroke-width="2.6" stroke-linecap="round" opacity="0.9"/>
<line x1="123.7" y1="202.70000000000002" x2="123.7" y2="225.29999999999998" stroke="#fff" stroke-width="2.6" stroke-linecap="round" opacity="0.9"/>
<line x1="131.0" y1="193.3" x2="131.0" y2="222.7" stroke="#fff" stroke-width="2.6" stroke-linecap="round" opacity="0.9"/>
<line x1="138.4" y1="178.3" x2="138.4" y2="203.29999999999998" stroke="#fff" stroke-width="2.6" stroke-linecap="round" opacity="0.9"/>
<line x1="145.7" y1="175.3" x2="145.7" y2="201.29999999999998" stroke="#fff" stroke-width="2.6" stroke-linecap="round" opacity="0.9"/>
<line x1="153.0" y1="165.3" x2="153.0" y2="210.7" stroke="#fff" stroke-width="2.6" stroke-linecap="round" opacity="0.9"/>
<line x1="160.4" y1="164.3" x2="160.4" y2="205.29999999999998" stroke="#fff" stroke-width="2.6" stroke-linecap="round" opacity="0.9"/>
<line x1="167.7" y1="154.3" x2="167.7" y2="199.7" stroke="#fff" stroke-width="2.6" stroke-linecap="round" opacity="0.9"/>
<path d="M87.1 205.5h0M86.9 206.7h0M87.0 207.9h0M87.2 208.5h0M86.8 209.7h0M87.1 210.9h0M86.8 212.7h0M86.9 213.9h0M87.2 214.5h0M86.8 215.7h0M86.9 216.3h0M86.9 217.5h0M87.0 218.7h0M86.9 220.5h0M87.0 221.1h0M87.0 221.7h0M86.9 222.3h0M87.0 222.9h0M87.0 223.5h0M87.2 224.1h0M87.1 224.7h0M87.0 227.1h0M86.8 227.7h0M87.0 228.9h0M87.0 229.5h0M87.0 230.1h0M87.2 230.7h0M87.1 231.9h0M87.0 232.5h0M87.1 233.1h0M87.0 234.9h0M87.1 239.1h0M86.9 239.7h0M87.0 240.9h0M87.0 242.1h0M86.7 242.7h0M86.8 243.3h0M87.1 245.7h0M87.0 248.1h0M86.9 248.7h0M86.9 249.3h0M87.0 250.5h0M86.9 251.7h0M87.1 252.3h0M87.1 252.9h0M87.1 254.1h0M87.1 254.7h0M87.0 255.3h0M87.0 256.5h0M87.0 257.1h0M86.9 257.7h0M86.9 258.3h0M86.9 258.9h0M86.9 259.5h0M86.9 260.1h0M86.7 260.7h0M86.9 261.3h0M87.2 262.5h0M87.1 265.5h0M86.8 266.1h0M86.9 266.7h0M94.3 206.5h0M94.3 207.1h0M94.3 207.7h0M94.2 208.3h0M94.2 208.9h0M94.4 210.1h0M94.4 211.3h0M94.2 211.9h0M94.4 212.5h0M94.3 213.1h0M94.6 214.9h0M94.4 216.1h0M94.7 216.7h0M94.3 217.3h0M94.4 217.9h0M94.4 218.5h0M94.1 219.1h0M94.2 220.9h0M94.4 222.1h0M94.4 223.9h0M94.3 225.1h0M94.4 225.7h0M94.3 227.5h0M94.3 228.7h0M94.2 229.3h0M94.5 231.7h0M94.5 232.9h0M94.3 233.5h0M94.3 235.3h0M94.4 237.1h0M94.2 237.7h0M94.4 238.3h0M94.3 239.5h0M94.4 240.1h0M94.2 240.7h0M94.2 243.1h0M94.1 244.3h0M94.2 244.9h0M94.0 245.5h0M94.2 246.1h0M94.2 246.7h0M94.4 248.5h0M94.5 249.1h0M94.0 249.7h0M94.4 250.3h0M94.2 251.5h0M94.2 252.7h0M94.4 253.3h0M94.0 254.5h0M94.4 255.1h0M101.6 206.1h0M101.6 206.7h0M101.6 207.3h0M101.7 207.9h0M101.6 209.1h0M101.9 209.7h0M101.7 210.9h0M101.6 212.7h0M101.8 213.3h0M101.7 213.9h0M101.5 214.5h0M101.7 215.1h0M101.6 215.7h0M101.7 218.1h0M101.7 219.9h0M101.6 220.5h0M101.8 222.3h0M101.8 223.5h0M101.6 224.7h0M101.6 226.5h0M101.5 227.7h0M101.6 228.9h0M101.5 230.1h0M101.7 230.7h0M101.6 231.9h0M101.6 233.1h0M101.4 234.3h0M101.8 235.5h0M101.8 236.1h0M101.6 236.7h0M101.7 238.5h0M101.9 239.7h0M101.7 240.3h0M101.8 240.9h0M101.6 241.5h0M101.8 242.1h0M101.4 242.7h0M108.8 201.5h0M108.9 202.1h0M109.0 202.7h0M108.9 203.3h0M108.9 203.9h0M109.0 204.5h0M109.0 206.3h0M109.0 206.9h0M108.9 208.1h0M108.9 208.7h0M109.1 209.9h0M108.8 210.5h0M109.0 211.7h0M108.8 212.3h0M109.0 212.9h0M109.1 213.5h0M108.9 214.1h0M109.0 214.7h0M109.1 215.3h0M109.0 215.9h0M109.1 216.5h0M109.3 217.1h0M109.3 217.7h0M109.1 219.5h0M109.0 220.1h0M109.0 221.3h0M109.0 222.5h0M108.9 223.1h0M109.0 224.3h0M108.9 224.9h0M109.1 226.1h0M108.9 226.7h0M108.9 228.5h0M109.1 229.1h0M109.2 229.7h0M109.1 230.3h0M109.0 230.9h0M109.1 232.1h0M116.2 203.5h0M116.5 204.1h0M116.6 206.5h0M116.2 207.1h0M116.3 207.7h0M116.5 209.5h0M116.4 210.1h0M116.4 211.9h0M116.3 213.1h0M116.3 213.7h0M116.1 214.9h0M116.4 215.5h0M116.4 216.7h0M116.5 217.3h0M116.4 219.1h0M116.3 220.9h0M116.4 222.1h0M116.1 223.9h0M116.4 224.5h0M116.4 225.1h0M116.5 226.3h0M116.3 226.9h0M123.7 202.9h0M123.5 204.1h0M123.6 205.3h0M123.5 205.9h0M123.7 208.9h0M123.8 209.5h0M123.7 210.1h0M123.7 210.7h0M123.5 211.3h0M123.6 213.1h0M123.6 214.3h0M123.7 214.9h0M123.7 215.5h0M123.6 216.1h0M123.8 217.3h0M123.5 217.9h0M123.8 218.5h0M123.8 219.1h0M123.9 220.3h0M123.7 222.7h0M123.7 223.3h0M123.5 224.5h0M123.7 225.1h0M131.0 195.3h0M131.1 195.9h0M131.2 196.5h0M131.0 197.1h0M131.1 197.7h0M131.2 200.7h0M131.1 201.3h0M131.2 201.9h0M130.9 203.7h0M131.2 204.3h0M131.1 205.5h0M131.0 206.1h0M130.9 207.3h0M131.1 207.9h0M131.1 210.9h0M130.9 213.3h0M131.1 213.9h0M131.1 214.5h0M131.0 215.1h0M130.9 215.7h0M130.9 216.9h0M131.3 218.1h0M130.8 218.7h0M131.1 219.3h0M131.0 219.9h0M131.0 221.1h0M131.1 221.7h0M138.3 179.7h0M138.1 180.3h0M138.5 182.1h0M138.6 183.9h0M138.1 184.5h0M138.6 185.1h0M138.5 186.3h0M138.1 186.9h0M138.3 187.5h0M138.5 188.1h0M138.3 188.7h0M138.0 189.3h0M138.4 189.9h0M138.3 191.1h0M138.4 193.5h0M138.3 194.1h0M138.6 194.7h0M138.5 195.3h0M138.6 196.5h0M138.3 197.7h0M138.4 198.3h0M138.2 198.9h0M138.2 199.5h0M138.3 201.3h0M145.7 176.7h0M145.7 177.3h0M145.7 177.9h0M145.6 178.5h0M145.7 182.1h0M145.7 183.3h0M145.9 184.5h0M145.6 185.7h0M145.7 186.3h0M145.7 187.5h0M145.5 188.7h0M145.6 189.9h0M145.5 190.5h0M145.7 191.1h0M145.5 193.5h0M145.8 194.1h0M145.6 196.5h0M145.8 198.3h0M145.8 199.5h0M145.8 200.7h0M153.1 166.7h0M153.0 167.9h0M153.1 169.1h0M152.9 169.7h0M153.0 170.3h0M153.2 170.9h0M153.0 171.5h0M153.2 172.7h0M153.1 173.3h0M153.0 173.9h0M153.3 174.5h0M153.0 175.1h0M153.1 176.9h0M153.0 177.5h0M153.2 178.7h0M152.9 179.9h0M153.1 182.9h0M153.0 183.5h0M153.3 184.1h0M153.1 185.3h0M153.1 186.5h0M153.1 187.7h0M153.0 188.3h0M153.0 188.9h0M152.9 189.5h0M153.0 190.1h0M152.8 190.7h0M152.9 191.3h0M153.2 192.5h0M153.0 193.7h0M153.1 194.9h0M153.2 195.5h0M153.2 196.1h0M153.2 196.7h0M153.1 197.3h0M152.9 198.5h0M153.0 200.3h0M153.1 200.9h0M153.1 201.5h0M153.0 202.1h0M152.9 203.3h0M153.2 203.9h0M152.8 205.7h0M153.0 206.9h0M153.1 207.5h0M153.0 208.1h0M153.0 209.3h0M153.0 210.5h0M160.5 164.5h0M160.3 166.3h0M160.3 167.5h0M160.4 169.3h0M160.6 170.5h0M160.5 171.1h0M160.6 171.7h0M160.4 172.3h0M160.2 172.9h0M160.4 174.7h0M160.4 175.3h0M160.4 175.9h0M160.3 176.5h0M160.2 178.3h0M160.4 179.5h0M160.4 180.1h0M160.4 180.7h0M160.3 181.9h0M160.4 182.5h0M160.3 184.3h0M160.6 186.1h0M160.3 186.7h0M160.7 187.9h0M160.2 189.7h0M160.3 190.9h0M160.3 191.5h0M160.2 192.1h0M160.3 193.3h0M160.3 194.5h0M160.3 195.7h0M160.5 196.9h0M160.1 198.1h0M160.2 198.7h0M160.3 199.3h0M160.4 199.9h0M160.2 201.7h0M160.4 204.1h0M167.6 155.1h0M167.5 158.7h0M167.5 159.3h0M167.7 161.1h0M167.8 161.7h0M167.7 162.9h0M167.6 163.5h0M167.6 164.1h0M167.8 166.5h0M167.7 168.9h0M167.5 170.1h0M167.8 170.7h0M167.8 171.3h0M167.7 171.9h0M167.9 172.5h0M167.6 173.1h0M167.8 173.7h0M167.8 174.3h0M167.8 176.1h0M167.7 176.7h0M167.7 177.3h0M167.3 177.9h0M167.7 178.5h0M167.7 180.3h0M168.1 180.9h0M167.6 181.5h0M167.7 183.3h0M167.7 183.9h0M168.0 184.5h0M167.7 185.7h0M167.7 187.5h0M167.8 188.1h0M167.9 188.7h0M167.7 189.3h0M167.6 189.9h0M167.9 191.1h0M167.8 192.3h0M167.8 192.9h0M167.7 194.7h0M167.7 195.3h0M167.6 197.1h0M167.5 198.9h0M167.7 199.5h0" stroke="#4a80d0" stroke-width="1.6" stroke-linecap="round" fill="none"/>
<path d="M86.9 206.1h0M86.9 207.3h0M87.1 209.1h0M87.0 210.3h0M87.0 211.5h0M87.1 213.3h0M86.9 215.1h0M86.9 216.9h0M87.2 218.1h0M87.2 225.3h0M87.1 225.9h0M87.0 226.5h0M87.0 228.3h0M87.0 233.7h0M87.1 234.3h0M87.0 236.7h0M86.7 237.3h0M87.2 237.9h0M86.9 238.5h0M87.0 240.3h0M87.2 241.5h0M87.2 243.9h0M87.1 244.5h0M86.7 245.1h0M86.9 246.3h0M86.7 246.9h0M86.9 247.5h0M87.0 251.1h0M86.8 253.5h0M86.7 255.9h0M87.1 261.9h0M87.0 263.1h0M87.0 263.7h0M87.1 264.3h0M86.9 264.9h0M87.0 267.3h0M94.3 209.5h0M94.3 210.7h0M94.4 214.3h0M94.3 215.5h0M94.3 219.7h0M94.3 220.3h0M94.3 221.5h0M94.2 222.7h0M94.5 223.3h0M94.4 224.5h0M94.5 226.3h0M94.4 226.9h0M94.2 229.9h0M94.2 230.5h0M94.1 231.1h0M94.4 232.3h0M94.3 234.1h0M94.3 234.7h0M94.2 235.9h0M94.4 236.5h0M94.5 238.9h0M94.5 241.3h0M94.3 241.9h0M94.3 242.5h0M94.5 243.7h0M94.6 247.3h0M94.4 247.9h0M94.5 250.9h0M101.7 208.5h0M101.6 210.3h0M101.7 212.1h0M101.7 218.7h0M101.8 219.3h0M101.8 221.1h0M101.5 221.7h0M101.8 222.9h0M101.7 224.1h0M101.6 225.3h0M101.8 225.9h0M101.6 227.1h0M101.7 228.3h0M101.9 229.5h0M101.7 231.3h0M101.6 232.5h0M101.6 233.7h0M101.6 234.9h0M101.5 237.3h0M101.6 237.9h0M101.8 239.1h0M101.5 243.3h0M101.8 243.9h0M101.7 244.5h0M101.6 245.7h0M109.1 205.1h0M109.0 205.7h0M108.9 207.5h0M109.0 218.3h0M109.2 218.9h0M109.1 221.9h0M109.1 223.7h0M108.8 225.5h0M109.1 227.3h0M109.1 227.9h0M116.3 204.7h0M116.3 205.3h0M116.5 208.3h0M116.4 210.7h0M116.3 211.3h0M116.1 212.5h0M116.2 214.3h0M116.4 216.1h0M116.4 217.9h0M116.4 218.5h0M116.4 219.7h0M116.3 220.3h0M116.3 221.5h0M116.2 222.7h0M116.5 223.3h0M116.4 225.7h0M116.3 227.5h0M116.1 228.7h0M116.4 229.3h0M123.5 203.5h0M123.5 204.7h0M123.7 207.1h0M123.7 207.7h0M123.6 208.3h0M123.7 211.9h0M123.6 212.5h0M123.7 213.7h0M123.7 223.9h0M130.9 193.5h0M130.9 194.1h0M131.2 194.7h0M131.3 198.3h0M131.0 198.9h0M130.8 199.5h0M131.1 200.1h0M131.1 203.1h0M131.0 204.9h0M131.2 206.7h0M130.9 208.5h0M131.0 209.1h0M131.0 209.7h0M131.1 210.3h0M131.0 211.5h0M131.0 212.1h0M130.9 212.7h0M130.9 216.3h0M130.9 217.5h0M131.1 220.5h0M138.5 178.5h0M138.2 179.1h0M138.5 180.9h0M138.2 181.5h0M138.4 182.7h0M138.5 183.3h0M138.5 192.3h0M138.4 192.9h0M138.3 200.1h0M138.4 200.7h0M138.4 201.9h0M138.1 202.5h0M138.3 203.1h0M145.7 176.1h0M145.7 179.1h0M145.7 179.7h0M145.5 180.3h0M145.8 181.5h0M145.7 182.7h0M145.5 183.9h0M145.8 185.1h0M145.7 186.9h0M145.7 188.1h0M145.5 189.3h0M145.7 191.7h0M145.9 192.3h0M145.7 192.9h0M145.7 194.7h0M145.7 195.9h0M145.6 197.1h0M145.6 197.7h0M145.8 198.9h0M145.7 200.1h0M153.0 168.5h0M152.9 172.1h0M153.3 176.3h0M152.9 178.1h0M153.1 179.3h0M153.3 180.5h0M153.2 181.1h0M153.3 181.7h0M153.2 182.3h0M153.1 184.7h0M152.9 185.9h0M153.2 187.1h0M152.9 191.9h0M153.1 193.1h0M152.6 194.3h0M153.1 197.9h0M153.0 204.5h0M153.1 205.1h0M153.0 206.3h0M152.9 208.7h0M160.1 165.1h0M160.4 166.9h0M160.3 168.1h0M160.1 168.7h0M160.2 169.9h0M160.5 173.5h0M160.4 177.7h0M160.3 178.9h0M160.4 181.3h0M160.4 183.1h0M160.2 183.7h0M160.4 184.9h0M160.5 185.5h0M160.4 188.5h0M160.5 189.1h0M160.4 190.3h0M160.5 192.7h0M160.4 193.9h0M160.3 195.1h0M160.3 196.3h0M160.3 197.5h0M160.4 201.1h0M160.2 202.3h0M160.4 204.7h0M167.6 154.5h0M167.8 155.7h0M167.8 156.3h0M167.8 156.9h0M167.5 158.1h0M167.7 162.3h0M167.7 164.7h0M167.9 165.3h0M167.8 165.9h0M167.7 167.1h0M167.8 167.7h0M167.9 168.3h0M167.7 169.5h0M167.7 174.9h0M167.9 175.5h0M167.9 179.1h0M167.7 179.7h0M167.7 182.1h0M167.7 182.7h0M167.8 185.1h0M167.8 186.3h0M167.7 186.9h0M167.9 190.5h0M167.9 191.7h0M167.9 193.5h0M167.7 194.1h0M167.6 195.9h0M167.5 196.5h0M167.8 197.7h0M167.6 198.3h0" stroke="#5674cf" stroke-width="1.6" stroke-linecap="round" fill="none"/>
<path d="M153.1 202.7h0" stroke="#6169cd" stroke-width="1.6" stroke-linecap="round" fill="none"/>
<path d="M153.1 206.0h0M94.3 209.4h0M167.6 190.3h0M167.6 195.4h0M153.0 202.4h0M108.9 202.0h0M116.3 205.4h0M86.8 212.8h0M145.8 199.2h0M138.3 200.8h0M94.3 214.5h0M160.5 194.0h0M116.2 207.0h0M160.5 201.1h0M153.2 206.3h0M108.9 202.4h0M87.1 209.4h0M123.9 204.9h0M86.7 205.6h0M123.7 205.4h0M123.7 205.5h0M145.9 198.5h0M160.5 197.5h0M116.4 207.9h0M145.9 199.0h0M131.2 204.5h0M152.8 196.5h0M145.9 199.6h0M86.9 205.4h0M138.4 203.2h0M153.0 206.9h0M160.3 198.0h0M131.1 203.2h0M153.3 207.5h0M94.2 209.8h0M109.0 202.5h0M87.2 209.4h0M94.4 208.8h0M167.7 191.3h0M145.5 199.0h0M86.8 214.5h0M116.5 208.4h0M101.7 206.9h0M138.1 199.0h0M86.9 207.2h0M86.9 207.1h0M167.6 192.0h0M94.3 209.2h0M152.9 196.1h0" stroke="#f0246a" stroke-width="1.7" stroke-linecap="round" fill="none"/>
<path d="M109.1 205.0h0M160.5 199.7h0M160.5 192.8h0M160.3 192.1h0M109.0 206.3h0M145.7 201.3h0M86.9 205.2h0M123.6 203.6h0M86.9 212.8h0M167.8 198.2h0M86.9 208.7h0M167.7 190.3h0M94.6 207.0h0M101.6 213.2h0M130.9 205.1h0M152.9 200.2h0M167.8 190.7h0M108.7 207.4h0M87.3 214.8h0M167.7 192.0h0M130.9 203.0h0M153.0 204.1h0M152.9 207.1h0M109.3 203.2h0M86.9 209.9h0M167.6 196.6h0M167.5 198.0h0M152.9 205.3h0M86.9 216.5h0M138.3 201.1h0M145.7 200.0h0M123.8 204.9h0M152.8 204.8h0M138.3 202.7h0M123.9 203.8h0M87.0 206.7h0M101.8 210.1h0M138.4 198.3h0M94.1 206.1h0M153.0 199.1h0M116.3 205.2h0M167.5 194.6h0M160.5 196.3h0M101.6 213.4h0M101.6 209.6h0M94.8 209.4h0M160.0 193.2h0M123.7 204.8h0M101.4 205.8h0M138.6 201.9h0M87.1 212.4h0M86.7 205.9h0M167.8 189.0h0M109.0 205.8h0M153.0 202.1h0M101.8 212.6h0M167.5 194.1h0M160.4 199.1h0M87.1 208.4h0M160.3 194.1h0M152.9 196.2h0M123.6 205.8h0M160.3 198.1h0M101.5 209.8h0M153.2 200.8h0M108.9 206.6h0M94.4 208.3h0M160.4 194.2h0M152.9 203.9h0M153.1 202.8h0M94.2 214.5h0M130.7 204.5h0M94.4 210.0h0M116.4 206.3h0M101.5 212.8h0M94.4 210.8h0M153.2 197.4h0M160.4 196.0h0M101.8 209.6h0M116.4 206.8h0M167.8 199.9h0M138.7 201.7h0M94.4 207.0h0" stroke="#e62676" stroke-width="1.7" stroke-linecap="round" fill="none"/>
<path d="M94.1 210.1h0M87.1 210.5h0M94.1 208.2h0M116.4 207.7h0M131.0 204.2h0M167.6 198.2h0M94.2 206.5h0M130.8 204.2h0M152.8 199.7h0M109.0 206.1h0M86.7 209.9h0M101.6 208.0h0M153.0 198.7h0M131.0 205.0h0M167.7 195.2h0M101.7 212.8h0M87.1 213.8h0M167.8 192.9h0M109.1 204.3h0M138.3 201.8h0M167.7 196.1h0M145.7 199.2h0M160.7 201.6h0M108.8 206.0h0M101.9 213.7h0M153.3 201.3h0M167.8 190.9h0M94.4 209.4h0M167.7 189.3h0M138.3 200.5h0M101.6 213.2h0M160.6 198.1h0M101.6 205.8h0M160.3 201.5h0M116.2 205.1h0M108.9 203.6h0M160.5 193.6h0" stroke="#dc2883" stroke-width="1.7" stroke-linecap="round" fill="none"/>
<path d="M167.8 197.8h0M138.3 202.5h0M167.7 197.6h0M167.7 196.0h0M87.0 207.4h0M101.8 208.5h0M167.8 198.9h0M130.8 193.9h0M160.3 202.1h0" stroke="#804abf" stroke-width="1.7" stroke-linecap="round" fill="none"/>
<path d="M94.2 216.6h0M153.1 203.3h0M153.1 203.5h0M87.0 215.3h0M116.7 206.6h0M94.3 213.8h0" stroke="#6169cd" stroke-width="1.7" stroke-linecap="round" fill="none"/>
<path d="M160.6 200.6h0M153.2 205.2h0M123.8 205.3h0M130.8 195.0h0M94.3 213.7h0M153.0 207.8h0M160.6 202.5h0M153.2 205.7h0" stroke="#6e5cc9" stroke-width="1.7" stroke-linecap="round" fill="none"/>
<path d="M160.6 201.5h0M138.5 202.3h0M145.6 201.2h0M101.7 206.9h0M86.9 216.4h0M152.8 205.3h0M101.6 210.8h0M167.7 190.3h0M138.3 201.4h0M86.7 208.8h0M94.4 207.0h0M145.6 199.7h0" stroke="#cf2b8f" stroke-width="1.7" stroke-linecap="round" fill="none"/>
<line x1="35.5" y1="149.7" x2="35.5" y2="272.2" stroke="#3a3a3a" stroke-width="0.8"/>
<line x1="35.5" y1="272.2" x2="183.7" y2="272.2" stroke="#3a3a3a" stroke-width="0.8"/>
<line x1="34" y1="163.54000000000002" x2="35.5" y2="163.54000000000002" stroke="#3a3a3a" stroke-width="0.7"/>
<text x="32.3" y="165.44000000000003" font-size="9.2" text-anchor="end">0.10</text>
<line x1="34" y1="183.42000000000002" x2="35.5" y2="183.42000000000002" stroke="#3a3a3a" stroke-width="0.7"/>
<text x="32.3" y="185.32000000000002" font-size="9.2" text-anchor="end">0.05</text>
<line x1="34" y1="203.3" x2="35.5" y2="203.3" stroke="#3a3a3a" stroke-width="0.7"/>
<text x="32.3" y="205.20000000000002" font-size="9.2" text-anchor="end">0.00</text>
<line x1="34" y1="223.18" x2="35.5" y2="223.18" stroke="#3a3a3a" stroke-width="0.7"/>
<text x="32.3" y="225.08" font-size="9.2" text-anchor="end">-0.05</text>
<line x1="34" y1="243.06" x2="35.5" y2="243.06" stroke="#3a3a3a" stroke-width="0.7"/>
<text x="32.3" y="244.96" font-size="9.2" text-anchor="end">-0.10</text>
<line x1="34" y1="262.94" x2="35.5" y2="262.94" stroke="#3a3a3a" stroke-width="0.7"/>
<text x="32.3" y="264.84" font-size="9.2" text-anchor="end">-0.15</text>
<line x1="35.599999999999994" y1="272.2" x2="35.599999999999994" y2="273.8" stroke="#3a3a3a" stroke-width="0.7"/>
<text x="35.599999999999994" y="282.6" font-size="9.2" text-anchor="middle">-0.50</text>
<line x1="72.3" y1="272.2" x2="72.3" y2="273.8" stroke="#3a3a3a" stroke-width="0.7"/>
<text x="72.3" y="282.6" font-size="9.2" text-anchor="middle">0.00</text>
<line x1="109.0" y1="272.2" x2="109.0" y2="273.8" stroke="#3a3a3a" stroke-width="0.7"/>
<text x="109.0" y="282.6" font-size="9.2" text-anchor="middle">0.50</text>
<line x1="145.7" y1="272.2" x2="145.7" y2="273.8" stroke="#3a3a3a" stroke-width="0.7"/>
<text x="145.7" y="282.6" font-size="9.2" text-anchor="middle">1.00</text>
<line x1="182.4" y1="272.2" x2="182.4" y2="273.8" stroke="#3a3a3a" stroke-width="0.7"/>
<text x="182.4" y="282.6" font-size="9.2" text-anchor="middle">1.50</text>
<text x="109.8" y="292.9" font-size="9.2" text-anchor="middle">Power (W)</text>
<text x="8.0" y="211.5" font-size="9.2" text-anchor="middle" transform="rotate(-90 8.0 211.5)">SHAP value</text>
<linearGradient id="g13" x1="0" y1="1" x2="0" y2="0"><stop offset="0" stop-color="#4a80d0"/><stop offset="0.25" stop-color="#6a60cc"/><stop offset="0.5" stop-color="#9a30b0"/><stop offset="0.75" stop-color="#d42a8c"/><stop offset="1" stop-color="#f0246a"/></linearGradient>
<rect x="189.0" y="149.6" width="2.4" height="122.1" fill="url(#g13)"/>
<line x1="191.4" y1="260.4" x2="192.8" y2="260.4" stroke="#333" stroke-width="0.7"/>
<text x="193.8" y="262.29999999999995" font-size="9.2" text-anchor="start">100</text>
<line x1="191.4" y1="241.01999999999998" x2="192.8" y2="241.01999999999998" stroke="#333" stroke-width="0.7"/>
<text x="193.8" y="242.92" font-size="9.2" text-anchor="start">200</text>
<line x1="191.4" y1="221.64" x2="192.8" y2="221.64" stroke="#333" stroke-width="0.7"/>
<text x="193.8" y="223.54" font-size="9.2" text-anchor="start">300</text>
<line x1="191.4" y1="202.26" x2="192.8" y2="202.26" stroke="#333" stroke-width="0.7"/>
<text x="193.8" y="204.16" font-size="9.2" text-anchor="start">400</text>
<line x1="191.4" y1="182.88" x2="192.8" y2="182.88" stroke="#333" stroke-width="0.7"/>
<text x="193.8" y="184.78" font-size="9.2" text-anchor="start">500</text>
<line x1="191.4" y1="163.5" x2="192.8" y2="163.5" stroke="#333" stroke-width="0.7"/>
<text x="193.8" y="165.4" font-size="9.2" text-anchor="start">600</text>
<text x="218.0" y="210.0" font-size="9.2" text-anchor="middle" transform="rotate(-90 218.0 210.0)">Speed (mm/s)</text>
<text x="234.0" y="137.6" font-size="14" text-anchor="start" font-weight="bold" style="stroke:none">e</text>
<text x="343.2" y="140.0" font-size="9" text-anchor="middle" font-weight="bold">Average emissivity</text>
<rect x="268" y="269.6" width="140" height="2.6" fill="#eeeeee"/>
<line x1="267" y1="251.7" x2="414" y2="251.7" stroke="#bdbdbd" stroke-width="0.7" stroke-dasharray="0.8 2.4"/>
<path d="M363.5 259.1h0M356.9 259.2h0M373.3 258.7h0M399.8 260.7h0M274.1 158.2h0M317.7 254.5h0M302.2 253.7h0M378.2 259.3h0M335.9 257.9h0M305.9 254.6h0M288.6 234.1h0M394.5 260.1h0M369.4 259.7h0M370.1 260.0h0M407.3 260.4h0M386.8 259.8h0M390.4 259.6h0M308.4 254.9h0M277.3 180.0h0M303.2 254.1h0M307.6 254.2h0M358.7 259.2h0M313.8 255.6h0M352.8 258.7h0M293.1 249.2h0M356.1 260.3h0M318.9 254.4h0M372.8 260.5h0M292.3 244.5h0M284.2 224.3h0M294.8 250.4h0M324.5 254.9h0M374.3 260.6h0M392.7 261.6h0M335.4 256.8h0M299.4 252.6h0M388.7 259.1h0M321.9 254.8h0M328.9 256.3h0M295.1 247.3h0M379.2 260.3h0M317.4 253.5h0M405.8 260.3h0M317.5 254.5h0M287.2 232.2h0M403.2 260.1h0M391.5 260.3h0M350.1 258.2h0M287.2 235.8h0M310.1 255.7h0M297.6 251.0h0M390.5 259.4h0M363.6 259.0h0M285.0 224.5h0M327.9 256.5h0M379.7 258.5h0M398.7 260.9h0M306.1 254.4h0M286.9 226.2h0M395.3 259.8h0M286.1 227.6h0M392.3 259.0h0M340.5 258.2h0M291.4 245.9h0M288.3 239.7h0M399.0 260.7h0M317.5 254.0h0M370.9 260.3h0M287.5 234.4h0M326.3 255.3h0M359.1 258.5h0M338.7 257.8h0M344.6 257.9h0M396.2 259.4h0M360.0 260.2h0M333.8 257.2h0M347.7 259.0h0M308.6 255.2h0M304.7 254.6h0M319.3 255.3h0M274.6 163.1h0M385.6 260.3h0M365.4 260.5h0M302.2 253.1h0M356.2 259.0h0M363.9 258.9h0M303.9 253.7h0M309.1 254.0h0M339.6 258.0h0M357.5 259.0h0M393.0 261.0h0M298.3 252.8h0M296.9 251.7h0M366.2 259.3h0M332.3 257.4h0M326.2 255.9h0M282.2 216.9h0M330.1 257.7h0M393.3 258.9h0M313.2 254.3h0M304.8 254.8h0M330.7 256.3h0M402.6 259.7h0M291.4 246.2h0M293.9 249.2h0M334.3 256.3h0M337.8 258.0h0M311.6 254.2h0M306.3 253.9h0M326.0 255.5h0M354.7 259.2h0M404.3 259.9h0M327.0 256.0h0M278.0 185.7h0M317.7 254.4h0M346.5 258.2h0M321.9 255.3h0" stroke="#6e5cc9" stroke-width="2.4" stroke-linecap="round" fill="none"/>
<path d="M288.7 242.3h0M395.2 257.3h0M381.6 256.5h0M289.9 242.1h0M287.1 235.3h0M322.0 253.3h0M283.5 222.0h0M332.7 255.3h0M357.3 257.3h0M341.6 256.2h0M381.2 256.5h0M314.9 253.4h0M361.7 256.8h0M340.7 255.8h0M325.2 254.4h0M356.0 257.5h0M398.4 257.3h0M362.8 258.8h0M364.3 256.5h0M330.4 254.1h0M372.8 257.5h0M381.4 257.3h0M297.5 254.4h0M353.6 256.7h0M315.3 252.5h0M310.6 254.7h0M328.0 253.8h0M396.2 257.4h0M304.6 255.8h0M406.0 257.9h0M314.4 252.5h0M292.5 249.7h0M300.3 256.9h0M366.7 257.1h0M405.2 258.2h0M350.2 256.9h0M405.1 257.5h0M350.6 256.4h0M392.1 256.7h0M390.4 256.1h0M397.6 257.4h0M293.5 250.5h0M276.4 196.7h0M403.1 257.7h0M404.0 257.4h0M361.0 257.5h0M339.3 255.7h0M352.1 257.8h0M279.1 203.4h0M357.1 256.7h0M319.2 252.7h0M380.3 257.0h0M324.3 254.2h0M345.4 255.8h0M370.3 257.5h0M382.5 258.0h0M404.6 257.7h0M334.5 255.6h0M406.8 255.9h0M385.4 257.2h0M352.7 257.9h0M371.4 256.4h0M316.9 253.4h0M319.5 253.5h0M398.4 258.0h0M321.2 253.2h0M339.1 255.6h0M316.2 252.6h0M367.3 257.1h0M339.8 255.9h0M311.5 253.0h0M329.7 253.4h0M382.6 256.9h0M384.8 257.3h0M393.2 256.9h0M320.9 252.6h0M387.8 257.7h0M361.6 257.2h0M390.1 257.6h0M322.1 253.4h0M306.4 256.0h0M284.7 224.3h0M373.9 257.2h0M395.3 257.2h0M387.5 258.5h0M337.2 255.3h0M309.3 258.3h0M331.0 255.1h0M331.1 253.5h0M371.1 256.6h0M354.0 258.2h0M348.3 257.0h0M335.7 254.9h0M380.2 256.7h0M321.1 253.7h0M307.7 257.2h0M319.5 253.3h0M345.4 255.4h0M325.2 253.6h0M384.1 257.4h0M393.2 257.8h0M333.8 256.9h0M373.3 257.2h0M330.4 254.1h0M349.1 256.3h0M340.8 255.8h0M290.9 246.0h0M399.1 256.5h0M378.8 257.4h0M342.2 256.4h0M317.8 253.3h0M346.2 257.2h0M378.1 257.6h0M393.9 257.5h0M275.1 176.8h0M355.3 257.5h0M284.9 229.9h0M309.3 255.7h0M312.3 252.8h0M344.7 256.8h0M406.5 257.7h0M355.3 257.8h0M319.7 252.7h0M319.4 253.4h0M313.8 252.5h0M307.2 255.6h0M326.7 253.4h0M326.0 252.8h0M321.4 253.2h0M390.3 255.7h0" stroke="#4a80d0" stroke-width="2.4" stroke-linecap="round" fill="none"/>
<path d="M366.9 259.0h0M310.7 256.6h0M314.3 254.0h0M309.8 256.1h0M286.0 233.8h0M313.6 254.3h0M401.8 258.7h0M329.8 254.7h0M394.4 258.6h0M278.0 192.3h0M330.6 256.8h0M359.1 259.2h0M374.0 258.8h0M308.0 254.4h0M326.6 254.5h0M321.4 254.5h0M334.6 256.1h0M344.1 258.0h0M381.4 259.6h0M369.4 259.2h0M379.0 259.6h0M359.1 259.5h0M371.9 259.4h0M380.6 259.6h0M283.0 219.6h0M300.2 253.7h0M390.6 258.4h0M300.2 253.4h0M313.8 253.1h0M359.2 258.2h0M386.8 260.4h0M334.6 256.2h0M356.3 258.4h0M364.8 257.8h0M400.5 260.3h0M280.1 214.1h0M370.5 258.8h0M361.4 259.3h0M389.4 258.2h0M357.7 258.2h0M298.9 254.4h0M285.0 225.1h0M333.9 256.3h0M376.4 259.8h0M312.4 254.7h0M323.5 255.5h0M302.7 255.6h0M370.0 258.3h0M336.8 256.7h0M331.7 257.1h0M370.3 258.6h0M310.6 253.9h0M363.7 258.6h0M400.1 259.7h0M400.4 258.5h0M373.1 258.8h0M327.0 255.2h0M330.1 256.5h0M406.1 260.1h0M368.3 259.6h0M335.4 256.4h0M349.6 258.2h0M293.3 249.3h0M371.0 259.0h0M378.3 258.3h0M293.2 246.7h0M404.1 259.6h0M351.9 259.1h0M291.2 243.1h0M342.8 256.5h0M381.0 258.1h0M328.4 255.4h0M368.1 259.4h0M275.4 176.0h0M360.6 259.5h0M401.9 259.4h0M390.5 258.5h0M323.6 253.7h0M403.4 259.4h0M323.0 255.3h0M374.3 258.7h0M382.9 260.1h0M338.1 257.5h0M333.0 256.8h0M343.8 257.3h0M389.6 258.9h0M298.4 252.0h0M306.6 255.6h0M353.3 258.7h0M297.7 253.6h0M379.0 259.4h0M276.0 167.9h0M396.3 258.1h0M362.1 258.1h0M282.2 217.8h0M349.8 257.1h0M375.5 259.3h0M288.3 237.1h0M297.8 253.8h0M287.3 228.5h0M345.3 256.9h0M346.9 257.4h0M408.1 259.6h0M362.8 258.5h0M343.7 257.3h0M304.9 252.4h0M405.1 259.5h0M319.9 254.2h0M367.7 260.0h0M378.5 258.1h0M362.9 259.3h0M296.9 254.4h0M296.4 252.5h0M364.9 259.2h0M304.2 253.7h0M342.3 256.8h0M314.4 254.4h0M343.8 257.5h0M321.6 253.9h0M354.5 258.6h0M367.9 258.8h0M397.1 259.2h0M277.1 180.0h0M359.1 259.5h0M285.9 226.6h0M359.3 258.9h0M300.2 255.0h0M399.4 259.2h0M292.7 246.9h0M389.3 258.9h0M291.4 245.0h0M296.4 253.7h0M366.9 260.1h0M393.8 258.8h0M292.2 248.2h0M387.7 259.6h0M365.8 258.8h0M367.6 259.2h0M287.2 237.1h0M364.9 258.3h0M374.9 258.1h0M396.7 258.8h0M359.5 258.5h0M310.6 255.4h0M274.7 174.7h0" stroke="#6169cd" stroke-width="2.4" stroke-linecap="round" fill="none"/>
<path d="M374.9 259.5h0M336.7 258.0h0M286.1 225.7h0M344.4 258.6h0M312.7 255.6h0M323.6 256.1h0M277.8 192.1h0M404.3 261.0h0M340.2 258.1h0M355.4 259.4h0M317.2 255.4h0M280.5 199.2h0M337.6 259.2h0M359.5 260.1h0M296.1 251.1h0M330.8 258.2h0M367.7 262.3h0M332.9 257.8h0M311.0 255.2h0M398.0 261.1h0M290.6 242.5h0M356.7 259.8h0M355.6 258.9h0M405.1 260.7h0M313.4 255.6h0M345.0 259.2h0M319.8 255.0h0M369.2 260.2h0M332.4 258.5h0M332.5 258.1h0M287.1 229.8h0M310.9 255.6h0M350.6 259.1h0M311.6 254.4h0M329.6 256.7h0M285.2 225.5h0M406.3 261.6h0M365.5 260.4h0M386.3 260.5h0M324.8 256.3h0M299.1 252.8h0M383.1 261.2h0M397.0 261.7h0M388.4 261.4h0M311.7 255.5h0M302.3 253.5h0M365.7 259.7h0M339.6 257.9h0M387.0 262.3h0M322.3 255.4h0M396.3 261.5h0M308.6 255.1h0M393.3 260.5h0M396.5 260.2h0M284.0 223.3h0M279.4 198.3h0M336.7 258.6h0M398.4 262.2h0M380.9 261.2h0M346.1 258.3h0M320.6 257.0h0M305.1 252.2h0M350.0 258.2h0M329.6 255.6h0M361.2 260.1h0M359.7 259.5h0M358.2 259.1h0M288.5 235.7h0M324.7 257.4h0M351.5 259.2h0M384.7 262.3h0M336.4 257.2h0M369.7 260.3h0M305.9 253.7h0M333.6 257.7h0M291.5 243.7h0M315.3 255.4h0M316.5 255.7h0M401.1 260.6h0M391.1 260.7h0M342.6 259.2h0M313.6 255.6h0M365.6 260.5h0M331.9 258.0h0M334.2 257.9h0M324.5 256.2h0M390.5 261.3h0M371.4 261.2h0M318.8 254.5h0M279.1 201.8h0M384.8 259.2h0M366.5 260.1h0M315.0 253.8h0M338.9 257.9h0M398.6 260.9h0M338.2 257.7h0M335.2 258.3h0M402.1 260.8h0M318.9 255.9h0M389.4 260.6h0M280.7 209.1h0M336.6 258.5h0M286.1 221.9h0M372.7 260.4h0M394.7 261.0h0M278.9 199.0h0M320.0 255.4h0M381.3 260.8h0M274.5 162.8h0M362.5 259.5h0M364.6 259.7h0M287.9 238.8h0M366.4 260.3h0M297.3 249.9h0M277.7 192.5h0M395.4 260.1h0M353.4 259.6h0M351.5 259.6h0M308.2 253.9h0M301.3 253.0h0M347.4 259.4h0M383.7 260.0h0M322.0 255.3h0M330.1 256.7h0M404.5 260.3h0M326.4 256.7h0M346.3 259.1h0M394.9 261.0h0M360.8 261.0h0M302.5 252.8h0M300.9 253.9h0M283.6 222.5h0M374.7 261.5h0M403.6 261.0h0M322.1 256.4h0" stroke="#804abf" stroke-width="2.4" stroke-linecap="round" fill="none"/>
<path d="M382.2 264.1h0M313.5 258.1h0M401.9 262.6h0M287.8 231.4h0M372.5 262.5h0M274.7 156.0h0M295.4 247.0h0M388.8 264.0h0M305.0 251.6h0M369.4 263.2h0M324.4 258.3h0M388.6 263.5h0M405.8 264.0h0M335.5 259.2h0M295.8 245.7h0M277.7 181.5h0M378.0 262.1h0M331.1 260.6h0M388.2 263.6h0M367.2 261.6h0M327.9 257.7h0M347.8 260.9h0M373.2 263.3h0M336.3 258.3h0M284.2 221.0h0M288.8 235.1h0M280.4 200.8h0M313.7 256.9h0M362.4 261.0h0M300.9 250.8h0M337.9 260.2h0M329.0 258.3h0M300.6 250.2h0M394.2 263.4h0M297.6 249.2h0M278.9 197.0h0M380.5 262.7h0M376.4 262.6h0M386.0 263.8h0M349.4 262.7h0M292.6 240.9h0M390.8 263.3h0M385.0 264.2h0M347.4 259.9h0M275.4 157.1h0M365.7 262.7h0M296.4 250.0h0M315.8 257.0h0M329.1 257.9h0M328.7 258.5h0M339.0 260.0h0M343.0 260.1h0M287.8 231.6h0M362.8 261.2h0M290.2 234.9h0M394.9 263.8h0M324.6 256.6h0M300.8 250.3h0M355.1 262.0h0M293.9 247.8h0M276.3 176.7h0M297.0 249.1h0M332.0 259.1h0M377.2 263.9h0M305.3 251.5h0M348.7 261.5h0M291.3 240.2h0M280.3 208.2h0M283.2 217.1h0M274.7 153.9h0M303.3 251.6h0M291.9 243.2h0M296.8 249.8h0M372.4 262.5h0M336.5 260.8h0M278.1 189.9h0M379.9 263.3h0M278.2 184.5h0M403.1 261.9h0M277.0 172.4h0M319.6 257.1h0M360.0 262.5h0M283.3 219.7h0M314.9 257.9h0M353.3 261.6h0M325.7 258.1h0M317.8 258.8h0M394.6 264.1h0M291.4 241.3h0M311.0 253.1h0M399.4 263.1h0M403.5 263.7h0M376.0 263.7h0M356.6 262.5h0M373.5 264.1h0M399.1 263.9h0M345.8 260.4h0M294.1 247.0h0M377.2 262.5h0M359.3 263.2h0M292.1 240.0h0M351.2 261.8h0M361.2 262.2h0M403.0 265.1h0M274.0 159.4h0M303.3 250.9h0M407.2 263.2h0M282.3 214.2h0M275.6 162.9h0M403.4 264.6h0M377.5 263.6h0M281.2 212.8h0M403.7 264.6h0M290.2 235.1h0M306.3 251.8h0M394.2 264.0h0M399.3 263.8h0M324.1 257.4h0M305.3 251.4h0M299.9 252.8h0M323.3 258.1h0" stroke="#ba2d9c" stroke-width="2.4" stroke-linecap="round" fill="none"/>
<path d="M390.4 261.8h0M278.7 194.4h0M279.7 199.4h0M314.6 255.9h0M323.5 257.3h0M360.1 262.0h0M330.7 257.6h0M318.1 256.9h0M390.9 261.2h0M301.4 251.9h0M317.2 257.0h0M326.0 255.9h0M289.3 239.9h0M376.9 260.9h0M330.2 258.2h0M347.1 259.0h0M386.2 261.7h0M284.9 224.4h0M282.1 213.5h0M383.1 260.8h0M352.0 261.3h0M346.4 259.3h0M388.4 262.0h0M385.5 259.6h0M354.3 261.3h0M367.1 260.7h0M323.0 255.9h0M356.9 261.6h0M286.9 230.8h0M316.5 255.4h0M360.6 260.3h0M363.3 261.0h0M346.5 259.4h0M406.5 262.4h0M310.1 253.3h0M327.7 256.5h0M354.8 260.4h0M299.3 253.0h0M326.4 257.2h0M345.1 258.7h0M379.0 261.1h0M282.4 216.5h0M370.0 260.6h0M365.1 260.5h0M288.4 234.0h0M408.2 262.5h0M279.7 194.7h0M324.5 255.9h0M363.4 260.5h0M326.3 256.1h0M366.6 260.8h0M320.2 256.1h0M275.0 161.7h0M349.2 259.0h0M333.5 258.6h0M322.3 256.9h0M374.9 261.6h0M407.3 263.4h0M313.3 256.1h0M331.9 258.7h0M374.1 262.0h0M298.1 251.6h0M376.8 262.0h0M302.6 251.8h0M286.1 228.4h0M384.1 261.6h0M378.6 261.4h0M354.0 260.4h0M370.4 262.5h0M362.7 261.0h0M336.9 258.5h0M372.3 261.1h0M332.1 258.4h0M339.2 259.3h0M363.7 261.6h0M286.4 227.7h0M398.7 262.4h0M367.0 260.2h0M274.9 158.9h0M345.2 259.7h0M368.8 260.4h0M334.9 257.6h0M299.4 250.5h0M403.1 263.0h0M400.8 262.5h0M400.6 262.8h0M284.8 219.0h0M370.3 260.6h0M352.7 260.7h0M313.2 255.3h0M384.9 261.0h0M279.0 198.3h0M350.4 260.4h0M391.3 261.7h0M380.5 260.8h0M393.3 260.7h0M341.3 259.7h0M386.5 260.8h0M356.2 260.8h0M378.2 261.2h0M317.9 255.5h0M341.1 257.6h0M382.9 261.2h0M281.6 207.9h0M345.7 258.7h0M306.2 253.7h0M298.1 250.2h0M402.7 261.3h0M290.7 243.0h0M290.9 243.1h0M307.6 252.8h0M400.5 261.5h0M397.2 261.3h0" stroke="#9139b5" stroke-width="2.4" stroke-linecap="round" fill="none"/>
<path d="M275.4 164.0h0M362.7 261.1h0M402.1 263.4h0M327.7 257.2h0M370.3 262.3h0M395.8 262.4h0M282.2 216.5h0M302.6 251.8h0M289.9 237.3h0M315.4 256.4h0M303.8 253.0h0M326.5 257.6h0M332.9 259.3h0M275.3 169.0h0M280.5 199.9h0M350.2 260.9h0M302.1 251.0h0M303.5 253.2h0M392.3 263.1h0M283.0 216.0h0M394.5 263.2h0M340.1 259.7h0M383.6 262.8h0M347.8 259.0h0M328.8 257.9h0M361.7 260.9h0M282.5 215.7h0M322.6 256.3h0M307.0 253.6h0M367.7 261.4h0M406.5 262.7h0M295.0 246.5h0M281.1 210.7h0M307.8 253.0h0M350.0 260.6h0M277.5 184.3h0M347.1 259.8h0M303.0 251.2h0M297.8 249.5h0M287.7 230.0h0M318.0 257.6h0M318.2 257.3h0M341.3 259.7h0M311.4 255.9h0M303.4 252.0h0M376.8 263.1h0M336.1 258.7h0M341.0 259.8h0M344.2 259.9h0M388.3 262.7h0M369.4 261.6h0M334.3 259.2h0M303.7 252.6h0M316.0 257.4h0M280.3 208.5h0M400.2 263.2h0M300.4 250.9h0M388.0 262.0h0M400.5 262.4h0M284.9 223.2h0M396.6 263.1h0M407.1 264.1h0M399.0 263.0h0M373.4 263.2h0M337.0 259.8h0M344.0 258.9h0M394.1 263.6h0M377.4 262.4h0M295.7 249.2h0M391.9 263.0h0M321.2 256.3h0M293.3 245.1h0M300.2 249.7h0M279.2 199.0h0M308.3 254.1h0M343.8 260.9h0M354.2 261.1h0M317.5 256.3h0M310.6 253.5h0M276.1 179.6h0M294.1 245.7h0M294.8 249.1h0M299.5 251.2h0M306.2 253.4h0M322.8 257.5h0M348.6 259.8h0M305.1 250.7h0M356.4 260.7h0M374.0 262.6h0M336.5 259.1h0M381.0 262.4h0M386.5 262.5h0M322.1 257.7h0M288.3 232.2h0M308.8 253.3h0M318.5 256.3h0M290.1 238.8h0M375.1 261.7h0M352.1 260.9h0M352.1 259.9h0M281.9 213.6h0M369.9 261.5h0M286.4 228.6h0M336.7 259.2h0M282.5 215.4h0M376.2 263.0h0M296.5 249.2h0M309.9 253.1h0M390.8 263.2h0M277.0 186.7h0M305.6 253.1h0M345.1 258.9h0M335.6 259.4h0M360.7 260.9h0M382.7 262.6h0M376.7 261.9h0M289.3 235.8h0M375.7 262.8h0M275.3 153.9h0M275.7 164.4h0M394.5 263.0h0M281.3 208.5h0M376.8 261.8h0M330.5 258.4h0M289.7 240.1h0M390.6 262.0h0M342.8 260.4h0M392.0 262.7h0M328.7 258.2h0M287.1 227.3h0M347.8 259.9h0M373.9 262.4h0M289.9 237.2h0M356.1 260.3h0M351.4 261.7h0M330.8 258.8h0M380.9 261.8h0M335.4 259.2h0M284.8 222.0h0M322.1 257.1h0M322.5 256.6h0M395.5 262.5h0M288.3 236.3h0M280.8 202.7h0M338.6 260.5h0M343.4 261.0h0M402.4 264.1h0M332.0 257.9h0M289.1 237.1h0" stroke="#a52fa9" stroke-width="2.4" stroke-linecap="round" fill="none"/>
<path d="M281.5 205.7h0M329.2 258.9h0M349.3 261.3h0M389.1 265.8h0M339.3 260.9h0M354.4 262.7h0M277.7 183.3h0M326.2 257.3h0M374.4 263.3h0M293.2 245.8h0M361.1 263.6h0M313.2 258.5h0M296.8 246.5h0M379.8 265.0h0M351.9 262.6h0M357.3 262.1h0M283.5 218.7h0M285.0 216.4h0M280.5 203.4h0M298.3 248.5h0M407.1 264.5h0M350.4 263.1h0M330.1 260.2h0M366.2 262.5h0M358.6 263.2h0M274.2 156.1h0M337.6 260.0h0M338.5 260.0h0M291.8 243.2h0M313.7 258.2h0M392.8 264.0h0M301.2 251.2h0M354.2 263.4h0M381.5 263.0h0M374.9 264.0h0M274.5 164.2h0M295.2 249.3h0M359.0 263.1h0M351.1 262.3h0M273.3 158.7h0M387.5 264.1h0M299.5 249.8h0M332.2 260.5h0M322.2 258.8h0M278.7 188.5h0M384.6 264.0h0M365.7 264.3h0M294.8 246.4h0M283.7 217.1h0M338.9 261.6h0M308.3 251.4h0M369.5 263.7h0M278.8 189.7h0M345.4 261.4h0M284.1 219.6h0M385.3 265.5h0M405.0 265.0h0M312.4 257.6h0M330.6 259.8h0M371.3 263.6h0M329.4 258.3h0M352.9 262.0h0M301.9 250.3h0M318.0 258.6h0M297.0 248.2h0M383.9 264.6h0M298.8 248.4h0M297.5 246.2h0M372.7 263.1h0M283.7 219.0h0M325.0 258.1h0M405.8 266.0h0M289.2 232.8h0M289.9 235.8h0M306.7 251.0h0M388.6 265.2h0M274.8 161.4h0M347.6 261.6h0M335.8 261.4h0M370.1 263.5h0M307.7 252.2h0M355.9 261.9h0M405.3 264.9h0M282.6 209.6h0M278.1 182.9h0M393.9 264.6h0M368.1 264.3h0M375.5 263.8h0M356.4 263.4h0M363.1 263.3h0M308.2 251.8h0M345.4 260.2h0M306.8 252.5h0M338.5 260.0h0M385.9 264.3h0M365.7 263.4h0M390.0 264.4h0M358.8 262.9h0M316.7 257.0h0M396.5 263.5h0M333.2 260.0h0M294.2 246.1h0M370.0 263.3h0M278.3 191.1h0M303.3 251.6h0M379.2 264.0h0M371.4 263.5h0M323.5 258.8h0M313.5 257.8h0M337.1 261.2h0M368.1 263.2h0M300.0 249.6h0M353.5 262.7h0M314.7 257.4h0M351.6 262.5h0M397.6 265.2h0M302.5 250.6h0M408.0 265.4h0M387.0 264.6h0M396.9 264.4h0M274.6 164.4h0M401.4 263.9h0M343.3 260.0h0M391.5 264.6h0M346.5 260.6h0M316.3 257.3h0M326.2 258.4h0M380.0 265.3h0M384.8 263.8h0M305.3 251.4h0M301.1 250.0h0M399.8 264.8h0M283.8 217.4h0M296.4 248.2h0M339.5 260.8h0M382.6 263.4h0M388.6 263.6h0M337.5 261.4h0M368.6 261.9h0M338.2 260.8h0M388.5 264.2h0" stroke="#cf2b8f" stroke-width="2.4" stroke-linecap="round" fill="none"/>
<path d="M323.3 260.6h0M361.9 264.7h0M395.2 267.9h0M402.3 267.7h0M399.1 268.1h0M359.3 264.7h0M379.2 266.8h0M358.5 264.6h0M337.6 262.1h0M291.4 238.4h0M348.3 263.9h0M364.8 265.4h0M316.2 260.7h0M367.3 265.7h0M277.4 175.0h0M379.3 267.9h0M349.5 262.9h0M294.1 241.4h0M367.2 265.1h0M368.1 265.1h0M377.7 266.8h0M312.0 259.8h0M351.4 263.3h0M332.1 261.0h0M390.6 266.7h0M310.6 255.6h0M312.3 258.6h0M381.3 267.6h0M392.1 268.2h0M381.7 267.3h0M385.2 266.4h0M292.2 239.7h0M365.4 265.5h0M398.9 267.3h0M397.5 267.3h0M301.5 247.9h0M300.7 248.4h0M371.7 266.3h0M335.1 262.7h0M359.0 264.5h0M283.9 217.9h0M364.5 264.5h0M311.8 259.4h0M365.8 264.3h0M334.8 262.0h0M351.9 263.8h0M307.3 250.4h0M382.3 266.5h0M398.1 268.6h0M326.4 261.2h0M311.9 259.6h0M313.0 258.3h0M324.2 260.1h0M373.8 266.4h0M401.2 267.4h0M328.9 259.9h0M344.5 263.1h0M294.2 244.6h0M330.6 261.0h0M372.1 266.9h0M391.9 267.5h0M293.7 238.4h0M285.1 218.1h0M395.9 268.4h0M311.5 257.8h0M315.3 259.6h0M375.5 266.5h0M391.3 267.1h0M366.4 264.7h0M384.9 266.5h0M318.9 259.5h0M346.0 262.4h0M326.1 260.7h0M290.8 237.6h0M344.7 262.5h0M363.0 265.3h0M387.5 267.6h0M301.4 248.4h0M399.7 267.6h0M326.9 260.4h0M331.9 261.9h0M278.5 180.1h0M357.8 265.5h0M283.4 215.1h0M324.1 259.3h0M375.1 266.2h0M306.9 249.4h0M366.0 263.4h0M307.9 249.4h0M406.5 268.6h0M398.4 267.7h0M356.6 264.3h0M405.7 267.4h0M348.9 263.1h0M366.0 264.4h0M365.3 265.3h0M339.4 261.9h0M352.2 263.7h0M399.4 267.3h0M350.3 263.1h0M359.6 264.2h0M382.5 267.8h0M343.9 262.0h0M301.2 248.4h0M324.8 260.7h0M382.2 267.9h0M306.4 248.7h0M377.5 266.6h0M284.4 213.7h0M360.2 265.1h0M313.5 259.4h0M366.5 265.2h0M385.9 267.2h0M321.4 259.5h0M335.8 262.5h0M324.0 260.3h0M349.5 264.4h0M398.2 267.6h0M353.0 263.3h0M361.1 264.0h0M359.6 265.0h0" stroke="#f0246a" stroke-width="2.4" stroke-linecap="round" fill="none"/>
<path d="M278.9 203.8h0M380.6 258.0h0M373.0 258.0h0M301.4 256.1h0M348.8 257.7h0M280.9 210.5h0M334.0 256.0h0M296.0 254.3h0M294.9 251.1h0M356.5 258.1h0M371.2 259.0h0M341.6 256.3h0M399.2 258.3h0M320.9 253.5h0M388.8 257.9h0M274.8 174.2h0M402.4 258.7h0M388.7 257.8h0M316.7 254.7h0M384.2 258.4h0M376.5 256.9h0M399.5 258.6h0M344.0 256.3h0M292.2 247.4h0M338.6 256.3h0M385.6 258.3h0M393.0 258.6h0M331.5 256.7h0M303.7 255.2h0M337.9 255.1h0M319.6 253.2h0M371.1 258.6h0M385.3 258.6h0M375.4 258.1h0M400.1 259.1h0M306.0 255.9h0M327.2 254.2h0M370.5 257.9h0M398.8 258.1h0M275.8 178.2h0M356.0 258.5h0M296.3 254.3h0M293.6 250.8h0M292.5 249.1h0M302.1 257.3h0M281.8 215.0h0M402.1 257.5h0M315.1 253.7h0M398.6 258.3h0M390.6 258.3h0M377.4 257.2h0M377.9 257.5h0M401.8 258.2h0M341.4 255.5h0M383.4 258.5h0M309.7 254.2h0M391.0 257.7h0M362.3 258.3h0M298.0 255.6h0M355.5 258.1h0M324.2 255.1h0M381.5 259.2h0M383.7 258.7h0M298.7 255.0h0M362.5 257.9h0M297.8 252.9h0M305.1 254.5h0M323.3 254.4h0M384.7 258.9h0M307.8 257.1h0M316.9 252.2h0M300.9 253.9h0M280.3 208.8h0M362.1 258.8h0M295.1 251.4h0M279.7 208.6h0M341.3 257.1h0M296.1 252.6h0M319.5 254.5h0M296.9 253.9h0M289.2 239.9h0M391.1 258.7h0M352.2 258.4h0M311.4 253.4h0M361.8 258.5h0M342.3 256.8h0M327.9 254.7h0M351.1 258.5h0M309.2 256.4h0M315.1 253.5h0M305.9 256.3h0M303.9 254.9h0M304.5 254.9h0M285.8 231.7h0M364.5 257.2h0M284.8 225.8h0M386.8 258.4h0M370.0 259.6h0M337.3 256.0h0M395.6 257.8h0M352.8 258.1h0M328.3 254.9h0M317.0 253.9h0M388.8 258.9h0M290.0 241.5h0M406.1 257.9h0M385.0 258.0h0M339.6 257.1h0M311.7 253.4h0M342.0 256.6h0M353.4 258.9h0M305.8 256.5h0M408.1 258.4h0M404.0 258.9h0M338.1 256.7h0M364.5 257.2h0M403.2 258.1h0M381.8 256.7h0M316.8 252.6h0M332.1 255.2h0M389.1 257.7h0M308.8 255.8h0M359.6 257.9h0M280.6 210.9h0M321.2 253.7h0M384.0 258.2h0M386.8 258.7h0M290.2 244.6h0M333.0 256.3h0M307.4 256.3h0M330.5 254.6h0M292.3 247.0h0M341.6 256.5h0M357.8 258.2h0M349.9 257.3h0M387.1 257.9h0M337.9 256.0h0M312.7 253.8h0M375.2 258.6h0M321.6 253.9h0M352.5 258.1h0M331.9 256.6h0M377.6 258.7h0M329.7 254.1h0M394.6 259.3h0M367.5 258.0h0M396.0 258.4h0M359.8 258.1h0M312.2 253.3h0M373.7 257.8h0M352.8 258.1h0M371.5 258.3h0M313.0 252.4h0M349.6 255.4h0M379.7 257.9h0M341.9 256.2h0M384.5 258.2h0" stroke="#5674cf" stroke-width="2.4" stroke-linecap="round" fill="none"/>
<path d="M362.1 263.1h0M317.3 258.3h0M406.5 265.5h0M384.2 264.9h0M278.0 173.3h0M374.5 264.8h0M398.0 266.2h0M345.7 262.1h0M337.8 261.3h0M327.6 260.0h0M298.3 248.1h0M303.0 249.8h0M361.2 263.2h0M276.6 168.3h0M357.8 262.9h0M289.8 236.5h0M314.8 258.1h0M362.9 263.9h0M400.8 266.4h0M341.4 261.9h0M389.9 264.2h0M343.2 261.6h0M368.3 265.1h0M305.2 250.1h0M370.7 264.0h0M327.3 259.5h0M391.0 265.7h0M397.6 266.4h0M406.7 266.3h0M309.0 250.4h0M282.7 212.2h0M297.4 246.6h0M333.9 260.6h0M307.2 250.2h0M285.2 220.1h0M344.3 261.2h0M387.0 265.5h0M293.2 243.1h0M323.9 259.3h0M292.3 237.0h0M345.9 262.5h0M358.8 263.1h0M351.1 263.4h0M282.6 208.9h0M368.0 263.3h0M292.8 246.4h0M337.9 262.0h0M378.5 265.2h0M365.4 263.6h0M293.7 244.8h0M277.3 180.1h0M343.1 261.7h0M354.6 263.2h0M348.9 262.2h0M386.3 265.9h0M287.9 228.3h0M299.1 248.1h0M351.9 263.1h0M297.9 248.1h0M312.0 253.7h0M365.0 263.5h0M301.1 250.0h0M345.5 262.8h0M339.6 261.0h0M280.6 202.6h0M386.4 265.9h0M400.9 265.1h0M347.0 261.0h0M314.6 257.7h0M353.5 263.3h0M327.6 259.4h0M300.0 249.4h0M355.5 263.0h0M351.7 262.8h0M289.6 235.0h0M307.6 251.5h0M347.8 261.5h0M401.5 265.2h0M357.2 262.6h0M355.4 263.5h0M290.3 234.0h0M294.3 246.3h0M308.8 251.9h0M368.4 264.2h0M383.5 265.8h0M338.3 261.1h0M274.4 161.4h0M347.7 262.4h0M383.5 265.7h0M354.7 262.9h0M294.7 242.4h0M279.0 191.9h0M369.8 264.2h0M305.8 251.2h0M282.9 204.8h0M325.0 259.4h0M406.2 265.9h0M280.7 203.2h0M395.2 266.3h0M315.9 257.7h0M273.8 157.8h0M348.4 262.0h0M378.7 265.0h0M324.2 259.2h0M380.9 265.1h0M342.4 261.7h0M392.0 265.9h0M383.1 265.9h0M354.5 262.3h0M341.2 261.7h0M281.2 202.3h0M404.2 265.4h0M342.2 260.1h0M326.0 259.4h0M386.5 265.6h0M396.7 265.5h0M402.1 265.1h0M342.3 261.8h0M332.0 261.0h0" stroke="#dc2883" stroke-width="2.4" stroke-linecap="round" fill="none"/>
<path d="M325.4 260.3h0M320.6 259.8h0M327.3 258.0h0M389.2 266.9h0M283.8 220.0h0M327.9 259.2h0M403.1 266.4h0M404.6 266.6h0M354.1 264.4h0M307.1 248.2h0M335.9 261.8h0M401.9 267.8h0M280.4 198.9h0M378.3 266.5h0M301.5 248.1h0M295.9 245.2h0M371.7 264.3h0M343.4 262.1h0M311.4 252.8h0M338.5 261.4h0M336.2 261.9h0M369.3 264.2h0M349.9 263.2h0M407.2 266.5h0M375.1 265.0h0M384.7 265.8h0M334.4 261.3h0M314.4 259.3h0M395.3 266.7h0M332.7 262.5h0M379.6 265.8h0M280.4 194.6h0M342.8 263.7h0M318.1 259.5h0M275.7 165.4h0M279.6 196.3h0M276.0 168.4h0M375.0 265.7h0M312.3 258.1h0M334.3 261.6h0M348.8 262.0h0M334.2 261.6h0M358.7 264.3h0M344.0 262.2h0M378.2 264.8h0M378.9 266.2h0M341.1 262.0h0M336.9 261.7h0M377.6 266.4h0M381.3 266.5h0M399.5 267.6h0M370.5 264.5h0M331.0 262.1h0M285.4 218.6h0M297.0 247.5h0M303.3 248.2h0M352.7 264.4h0M296.5 246.5h0M320.9 258.9h0M400.7 267.2h0M322.5 259.5h0M292.6 239.7h0M287.7 223.6h0M296.7 244.6h0M403.9 267.0h0M319.0 259.4h0M361.0 263.6h0M299.7 247.0h0M310.0 251.7h0M331.7 261.2h0M292.7 237.2h0M313.7 258.5h0M328.6 260.0h0M395.6 266.1h0M376.0 265.3h0M341.8 262.4h0M375.2 265.0h0M288.9 229.7h0M379.1 266.7h0M390.3 266.4h0M375.7 265.4h0M317.3 258.8h0M372.2 265.0h0M313.5 258.6h0M388.3 266.9h0M276.5 166.2h0M403.0 266.7h0M371.0 266.4h0M279.3 186.3h0M287.1 222.0h0M363.4 263.7h0M344.9 262.7h0M278.9 187.0h0M391.9 265.3h0M316.4 258.6h0M403.0 266.2h0M326.3 258.3h0M331.7 262.2h0M383.5 264.9h0M344.9 262.6h0M356.0 262.9h0M357.8 263.9h0M274.5 155.5h0M289.9 236.5h0M288.6 232.5h0M400.0 266.9h0M404.2 266.6h0M307.5 251.2h0M363.4 264.5h0M294.2 244.5h0M302.8 249.9h0M291.9 240.0h0M355.3 263.6h0M386.6 265.7h0M308.8 251.0h0M348.7 260.9h0M354.3 262.9h0M312.1 259.2h0M376.0 265.6h0M344.8 262.2h0M382.0 266.4h0M394.2 265.9h0M282.3 201.9h0M282.3 207.1h0M333.6 261.4h0M283.9 213.9h0M291.2 236.6h0M394.0 267.7h0M391.3 265.4h0M344.8 261.8h0M325.8 259.6h0M346.6 261.6h0M318.7 258.6h0M394.0 266.8h0M294.6 242.7h0M366.0 264.1h0M374.1 264.9h0M338.6 261.6h0M392.4 266.2h0M320.5 258.7h0M327.4 259.3h0M383.2 266.2h0M397.1 267.2h0M346.3 261.7h0M288.0 227.8h0M373.7 264.5h0M286.3 223.0h0M379.9 265.2h0M304.4 248.7h0M318.2 259.5h0M308.4 250.8h0M356.7 263.5h0M349.4 262.5h0M279.0 185.9h0" stroke="#e62676" stroke-width="2.4" stroke-linecap="round" fill="none"/>
<line x1="266.6" y1="149.7" x2="266.6" y2="272.2" stroke="#3a3a3a" stroke-width="0.8"/>
<line x1="266.6" y1="272.2" x2="414.2" y2="272.2" stroke="#3a3a3a" stroke-width="0.8"/>
<line x1="265.1" y1="151.85999999999999" x2="266.6" y2="151.85999999999999" stroke="#3a3a3a" stroke-width="0.7"/>
<text x="263.6" y="153.76" font-size="9.2" text-anchor="end">0.6</text>
<line x1="265.1" y1="168.5" x2="266.6" y2="168.5" stroke="#3a3a3a" stroke-width="0.7"/>
<text x="263.6" y="170.4" font-size="9.2" text-anchor="end">0.5</text>
<line x1="265.1" y1="185.14" x2="266.6" y2="185.14" stroke="#3a3a3a" stroke-width="0.7"/>
<text x="263.6" y="187.04" font-size="9.2" text-anchor="end">0.4</text>
<line x1="265.1" y1="201.77999999999997" x2="266.6" y2="201.77999999999997" stroke="#3a3a3a" stroke-width="0.7"/>
<text x="263.6" y="203.67999999999998" font-size="9.2" text-anchor="end">0.3</text>
<line x1="265.1" y1="218.42" x2="266.6" y2="218.42" stroke="#3a3a3a" stroke-width="0.7"/>
<text x="263.6" y="220.32" font-size="9.2" text-anchor="end">0.2</text>
<line x1="265.1" y1="235.06" x2="266.6" y2="235.06" stroke="#3a3a3a" stroke-width="0.7"/>
<text x="263.6" y="236.96" font-size="9.2" text-anchor="end">0.1</text>
<line x1="265.1" y1="251.7" x2="266.6" y2="251.7" stroke="#3a3a3a" stroke-width="0.7"/>
<text x="263.6" y="253.6" font-size="9.2" text-anchor="end">0.0</text>
<line x1="265.1" y1="268.34" x2="266.6" y2="268.34" stroke="#3a3a3a" stroke-width="0.7"/>
<text x="263.6" y="270.23999999999995" font-size="9.2" text-anchor="end">-0.1</text>
<line x1="272.2" y1="272.2" x2="272.2" y2="273.8" stroke="#3a3a3a" stroke-width="0.7"/>
<text x="272.2" y="282.6" font-size="9.2" text-anchor="middle">0</text>
<line x1="291.46999999999997" y1="272.2" x2="291.46999999999997" y2="273.8" stroke="#3a3a3a" stroke-width="0.7"/>
<text x="291.46999999999997" y="282.6" font-size="9.2" text-anchor="middle">100</text>
<line x1="310.74" y1="272.2" x2="310.74" y2="273.8" stroke="#3a3a3a" stroke-width="0.7"/>
<text x="310.74" y="282.6" font-size="9.2" text-anchor="middle">200</text>
<line x1="330.01" y1="272.2" x2="330.01" y2="273.8" stroke="#3a3a3a" stroke-width="0.7"/>
<text x="330.01" y="282.6" font-size="9.2" text-anchor="middle">300</text>
<line x1="349.28" y1="272.2" x2="349.28" y2="273.8" stroke="#3a3a3a" stroke-width="0.7"/>
<text x="349.28" y="282.6" font-size="9.2" text-anchor="middle">400</text>
<line x1="368.55" y1="272.2" x2="368.55" y2="273.8" stroke="#3a3a3a" stroke-width="0.7"/>
<text x="368.55" y="282.6" font-size="9.2" text-anchor="middle">500</text>
<line x1="387.82" y1="272.2" x2="387.82" y2="273.8" stroke="#3a3a3a" stroke-width="0.7"/>
<text x="387.82" y="282.6" font-size="9.2" text-anchor="middle">600</text>
<line x1="407.09000000000003" y1="272.2" x2="407.09000000000003" y2="273.8" stroke="#3a3a3a" stroke-width="0.7"/>
<text x="407.09000000000003" y="282.6" font-size="9.2" text-anchor="middle">700</text>
<text x="340.4" y="296.0" font-size="9.2" text-anchor="middle">Speed (mm/s)</text>
<text x="240.8" y="212.0" font-size="9.2" text-anchor="middle" transform="rotate(-90 240.8 212.0)">SHAP value</text>
<linearGradient id="g14" x1="0" y1="1" x2="0" y2="0"><stop offset="0" stop-color="#4a80d0"/><stop offset="0.25" stop-color="#6a60cc"/><stop offset="0.5" stop-color="#9a30b0"/><stop offset="0.75" stop-color="#d42a8c"/><stop offset="1" stop-color="#f0246a"/></linearGradient>
<rect x="421.8" y="149.6" width="2.4" height="122.4" fill="url(#g14)"/>
<line x1="424.2" y1="272.0" x2="425.6" y2="272.0" stroke="#333" stroke-width="0.7"/>
<text x="426.6" y="273.9" font-size="9.2" text-anchor="start">0.2</text>
<line x1="424.2" y1="249.74" x2="425.6" y2="249.74" stroke="#333" stroke-width="0.7"/>
<text x="426.6" y="251.64000000000001" font-size="9.2" text-anchor="start">0.4</text>
<line x1="424.2" y1="227.48000000000002" x2="425.6" y2="227.48000000000002" stroke="#333" stroke-width="0.7"/>
<text x="426.6" y="229.38000000000002" font-size="9.2" text-anchor="start">0.6</text>
<line x1="424.2" y1="205.22" x2="425.6" y2="205.22" stroke="#333" stroke-width="0.7"/>
<text x="426.6" y="207.12" font-size="9.2" text-anchor="start">0.8</text>
<line x1="424.2" y1="182.95999999999998" x2="425.6" y2="182.95999999999998" stroke="#333" stroke-width="0.7"/>
<text x="426.6" y="184.85999999999999" font-size="9.2" text-anchor="start">1.0</text>
<line x1="424.2" y1="160.7" x2="425.6" y2="160.7" stroke="#333" stroke-width="0.7"/>
<text x="426.6" y="162.6" font-size="9.2" text-anchor="start">1.2</text>
<text x="449.0" y="210.6" font-size="9.2" text-anchor="middle" transform="rotate(-90 449.0 210.6)">Power (W)</text>
<text x="467.6" y="137.6" font-size="14" text-anchor="start" font-weight="bold" style="stroke:none">f</text>
<text x="576.9" y="140.0" font-size="9" text-anchor="middle" font-weight="bold">Average emissivity</text>
<rect x="499.6" y="262.8" width="148" height="9.399999999999977" fill="#e9e9e9"/>
<line x1="500" y1="218.9" x2="647.5" y2="218.9" stroke="#bdbdbd" stroke-width="0.7" stroke-dasharray="0.8 2.4"/>
<path d="M505.9 218.6h0M503.2 213.4h0M505.0 223.3h0M504.9 224.8h0M505.9 216.6h0M505.1 227.0h0M505.7 221.9h0M504.9 211.9h0M503.2 208.8h0M505.6 221.4h0M504.9 217.1h0M506.5 219.4h0M504.3 224.2h0M506.0 229.0h0M504.9 215.5h0M503.6 232.7h0M504.3 227.3h0M505.6 215.8h0M504.8 228.5h0M504.0 211.6h0M505.2 214.4h0M505.8 224.3h0M506.1 212.5h0M503.4 214.1h0M504.9 233.7h0M504.7 223.2h0M505.0 212.7h0M505.5 220.9h0M505.1 226.6h0M506.7 211.7h0M505.5 230.7h0M504.9 221.3h0M506.5 221.2h0M505.4 226.0h0M506.8 231.0h0M505.5 205.1h0M505.7 215.4h0M505.9 215.2h0M503.9 211.4h0M505.6 215.8h0M505.3 211.0h0M506.3 207.5h0M505.5 225.6h0M507.6 216.8h0M505.1 217.2h0M505.4 209.7h0M504.5 222.5h0M506.1 234.5h0M506.3 223.5h0M505.6 205.7h0M505.5 206.6h0M506.4 221.8h0M504.7 219.8h0M505.6 221.0h0M505.8 216.4h0M506.2 229.5h0M506.0 222.5h0M505.3 223.5h0M506.6 231.4h0M504.9 222.0h0M506.2 222.4h0M507.3 219.0h0M504.1 222.0h0M505.6 230.5h0M504.7 225.9h0M504.1 215.8h0M505.3 217.5h0M506.3 233.0h0M504.6 202.2h0M504.2 199.9h0M506.1 201.8h0M505.0 239.0h0M505.4 199.4h0M503.8 241.7h0M514.5 221.0h0M516.1 217.5h0M516.6 228.2h0M514.2 215.9h0M516.7 227.4h0M516.4 224.6h0M515.1 219.0h0M515.3 217.7h0M514.3 207.8h0M516.7 227.8h0M516.1 227.2h0M515.3 230.0h0M515.8 225.1h0M516.6 217.3h0M515.4 228.5h0M516.5 220.9h0M516.9 223.0h0M515.1 228.0h0M516.8 217.4h0M516.4 226.8h0M516.6 223.3h0M516.3 225.6h0M515.4 219.0h0M516.1 217.4h0M516.8 217.8h0M516.6 219.5h0M517.7 225.1h0M517.0 235.8h0M516.3 221.7h0M517.2 214.0h0M515.0 225.0h0M515.0 215.3h0M516.7 229.8h0M516.0 228.1h0M515.6 215.9h0M514.9 235.0h0M516.6 228.1h0M515.3 221.1h0M516.4 215.8h0M515.4 223.8h0M516.2 217.7h0M516.3 222.6h0M517.0 219.6h0M514.2 232.1h0M516.0 224.7h0M515.7 223.7h0M515.6 217.8h0M515.9 221.9h0M515.2 227.7h0M516.1 227.9h0M517.0 227.2h0M515.7 223.3h0M515.7 210.7h0M515.7 227.5h0M516.1 223.5h0M515.7 213.7h0M516.4 222.0h0M514.4 219.8h0M516.0 225.3h0M515.5 225.9h0M515.1 212.1h0M514.9 217.1h0M516.2 210.5h0M513.6 219.6h0M515.5 225.8h0M514.6 229.5h0M515.8 221.3h0M516.2 218.2h0M516.2 231.3h0M516.7 220.7h0M516.7 221.2h0M513.5 223.9h0M514.8 223.6h0M516.5 222.9h0M514.5 229.3h0M515.6 229.9h0M515.2 223.3h0M514.7 229.5h0M515.6 235.7h0M514.8 228.9h0M515.4 234.4h0M515.6 225.0h0M517.5 225.1h0M514.9 222.3h0M513.5 228.3h0M514.5 210.0h0M516.8 224.5h0M515.4 208.1h0M516.3 232.1h0M513.8 203.4h0M517.7 263.3h0M515.5 257.1h0M516.6 245.7h0M515.7 245.3h0M526.7 223.6h0M525.6 228.9h0M527.0 222.2h0M527.1 227.6h0M526.9 226.3h0M526.2 222.9h0M525.9 223.2h0M526.6 233.8h0M526.7 208.4h0M524.1 234.5h0M527.0 225.7h0M526.8 211.4h0M526.2 223.6h0M526.2 212.5h0M525.8 217.0h0M526.6 214.1h0M526.3 229.6h0M526.4 216.1h0M526.3 227.7h0M526.1 228.4h0M525.8 223.2h0M526.2 233.4h0M526.0 219.6h0M527.8 225.2h0M525.3 213.1h0M525.0 234.4h0M526.3 225.4h0M526.9 227.1h0M526.2 216.8h0M525.7 225.7h0M525.6 229.3h0M526.1 219.2h0M525.0 225.1h0M525.8 226.0h0M526.2 226.2h0M525.7 229.1h0M525.2 228.5h0M527.0 223.2h0M524.0 233.4h0M526.9 219.2h0M525.1 220.4h0M528.2 217.5h0M525.5 229.5h0M527.4 223.9h0M525.1 213.2h0M525.8 217.8h0M526.3 227.3h0M526.6 211.9h0M525.7 226.4h0M525.3 223.3h0M525.6 218.4h0M526.1 215.3h0M526.3 224.9h0M526.4 222.6h0M525.9 220.0h0M527.0 225.0h0M525.3 217.9h0M526.5 230.2h0M528.5 225.9h0M527.2 222.8h0M526.1 226.0h0M526.7 231.4h0M526.1 225.2h0M526.9 226.6h0M525.6 213.5h0M526.3 214.3h0M525.7 222.5h0M527.9 220.1h0M526.2 232.9h0M525.9 217.2h0M526.8 215.7h0M525.7 226.1h0M525.1 226.6h0M527.4 200.2h0M527.9 249.1h0M537.1 220.9h0M537.0 214.0h0M536.7 205.8h0M536.3 220.5h0M535.0 226.6h0M536.2 216.8h0M535.5 224.5h0M534.5 227.3h0M537.8 222.1h0M535.7 226.2h0M535.3 221.9h0M536.6 223.0h0M537.5 223.1h0M535.9 229.9h0M537.5 228.1h0M536.2 217.0h0M534.5 235.2h0M536.9 208.9h0M536.9 211.2h0M536.7 207.8h0M536.2 223.2h0M536.8 237.1h0M536.8 215.8h0M537.0 219.0h0M536.1 227.2h0M536.3 208.0h0M537.0 215.5h0M536.5 204.5h0M535.2 203.4h0M536.7 214.4h0M536.6 210.2h0M535.8 216.6h0M537.4 206.2h0M537.2 218.8h0M537.2 218.1h0M536.5 228.9h0M536.7 227.2h0M536.0 228.1h0M537.1 229.1h0M536.7 217.9h0M537.0 233.4h0M535.8 223.6h0M536.9 222.1h0M536.8 214.9h0M537.2 223.5h0M537.1 212.6h0M537.2 213.4h0M537.3 226.6h0M536.8 232.1h0M537.6 231.8h0M537.9 226.3h0M537.8 219.8h0M536.9 215.1h0M536.9 223.1h0M536.5 213.1h0M536.9 213.2h0M537.8 223.9h0M535.6 227.0h0M537.9 211.7h0M535.7 224.5h0M535.1 224.5h0M538.4 221.8h0M537.3 209.9h0M536.5 213.9h0M537.4 229.7h0M535.9 214.6h0M535.2 227.4h0M537.0 224.1h0M536.4 230.4h0M537.5 221.7h0M536.8 228.6h0M538.0 210.3h0M537.0 229.0h0M538.0 214.3h0M536.8 231.4h0M536.9 228.8h0M538.3 231.3h0M537.9 200.7h0M538.3 261.8h0M536.1 197.1h0M548.3 215.1h0M547.1 207.0h0M546.9 213.3h0M546.5 213.9h0M546.7 216.8h0M548.7 235.9h0M548.0 211.6h0M547.5 219.0h0M546.8 221.6h0M547.9 221.0h0M548.7 205.3h0M548.3 227.4h0M547.5 225.2h0M546.7 233.9h0M547.7 220.5h0M547.2 216.0h0M545.9 228.1h0M547.3 211.3h0M548.0 202.1h0M547.9 220.6h0M547.9 227.3h0M548.4 236.1h0M547.2 210.4h0M548.2 211.0h0M547.4 218.5h0M548.7 209.2h0M546.4 228.6h0M546.3 235.9h0M547.8 215.4h0M547.0 200.4h0M547.5 206.6h0M545.9 200.6h0M547.2 214.7h0M546.4 233.9h0M546.1 217.8h0M546.8 226.9h0M546.7 229.7h0M548.3 219.2h0M546.0 208.1h0M548.7 221.3h0M546.4 237.2h0M546.8 228.7h0M546.6 219.5h0M545.2 228.5h0M547.3 230.0h0M547.1 224.6h0M548.8 200.4h0M547.6 223.9h0M548.3 212.5h0M546.9 220.6h0M548.3 225.6h0M548.4 220.8h0M547.2 219.3h0M547.0 200.0h0M546.3 234.4h0M546.1 227.3h0M548.8 219.3h0M546.2 216.2h0M546.7 225.1h0M548.4 235.2h0M545.9 211.3h0M547.9 213.5h0M547.4 228.1h0M548.0 229.2h0M548.0 223.6h0M547.1 230.1h0M547.8 223.6h0M547.8 222.5h0M547.0 225.9h0M547.5 220.1h0M546.1 225.3h0M546.4 222.1h0M546.5 219.6h0M546.5 235.8h0M549.5 233.6h0M548.5 207.9h0M546.2 218.0h0M547.2 222.2h0M547.9 198.0h0M549.4 259.0h0M548.8 196.8h0M545.4 199.3h0M559.8 207.5h0M557.4 226.0h0M557.3 222.6h0M557.6 215.3h0M559.0 232.7h0M557.0 220.9h0M557.5 221.5h0M557.8 231.6h0M558.6 223.4h0M559.3 231.7h0M557.4 231.3h0M557.5 217.3h0M558.2 214.9h0M558.6 210.1h0M557.9 218.4h0M555.9 212.5h0M557.4 220.8h0M558.5 202.4h0M556.6 224.0h0M557.5 213.1h0M559.2 212.7h0M556.7 224.6h0M557.9 223.5h0M559.0 216.2h0M557.0 218.2h0M559.4 204.0h0M557.0 223.8h0M558.5 219.8h0M556.3 218.6h0M556.5 211.0h0M556.9 219.5h0M557.2 212.4h0M557.5 217.5h0M558.3 223.5h0M557.5 221.4h0M557.0 231.0h0M557.6 227.8h0M558.4 223.3h0M556.8 223.2h0M557.4 213.5h0M557.6 219.6h0M558.8 233.5h0M557.6 225.6h0M557.7 221.1h0M557.4 225.7h0M559.5 227.5h0M558.8 221.1h0M556.3 228.6h0M558.8 207.8h0M557.2 234.6h0M558.0 210.5h0M559.0 221.7h0M556.9 207.6h0M559.2 219.1h0M559.1 217.6h0M557.9 210.9h0M557.3 225.6h0M556.6 223.6h0M558.8 212.5h0M558.3 208.4h0M557.4 205.5h0M558.4 233.6h0M558.0 231.0h0M559.4 227.2h0M558.2 213.8h0M557.1 201.6h0M557.1 209.1h0M556.4 202.8h0M556.9 201.5h0M558.1 219.9h0M559.0 226.1h0M557.1 232.3h0M558.9 228.4h0M557.6 224.7h0M557.8 213.6h0M557.2 203.5h0M557.7 225.5h0M557.4 216.2h0M555.6 228.1h0M556.4 201.0h0M557.3 242.0h0M556.6 200.3h0M556.9 248.4h0M568.8 228.1h0M567.6 218.5h0M567.6 227.4h0M567.6 231.3h0M569.1 221.6h0M568.1 228.4h0M569.2 223.7h0M568.7 223.9h0M569.5 225.9h0M568.2 224.2h0M567.0 214.6h0M568.2 223.7h0M568.3 225.4h0M568.6 229.4h0M569.1 208.0h0M569.7 216.9h0M569.0 216.6h0M569.5 229.7h0M567.9 218.0h0M568.2 221.1h0M567.5 238.5h0M567.5 223.2h0M568.1 223.0h0M569.5 230.5h0M570.0 233.1h0M567.7 220.3h0M569.5 224.0h0M568.0 224.8h0M569.6 212.7h0M568.3 230.4h0M567.9 239.4h0M568.4 227.1h0M568.1 223.6h0M567.3 215.4h0M569.3 221.4h0M569.6 217.5h0M569.9 219.1h0M567.7 208.1h0M567.3 228.9h0M569.1 217.9h0M568.0 211.8h0M566.8 223.5h0M568.6 214.6h0M568.1 222.0h0M569.3 212.5h0M568.6 212.1h0M568.3 220.2h0M568.2 216.3h0M567.8 222.9h0M569.1 209.1h0M568.3 211.2h0M569.7 228.6h0M567.4 229.4h0M567.3 217.3h0M569.7 220.4h0M568.2 212.6h0M567.4 222.4h0M569.7 222.5h0M566.3 222.4h0M568.0 223.6h0M567.7 213.6h0M569.6 230.5h0M568.6 223.8h0M568.3 228.2h0M568.9 225.9h0M568.2 215.7h0M570.6 232.3h0M570.7 235.3h0M569.0 222.6h0M567.3 217.7h0M568.8 226.4h0M569.8 229.2h0M567.2 225.8h0M568.1 227.8h0M569.0 231.4h0M566.8 228.6h0M569.3 211.3h0M569.1 224.2h0M568.6 219.8h0M568.6 229.9h0M568.7 222.7h0M567.2 210.1h0M568.9 221.8h0M567.1 252.7h0M566.9 204.7h0M570.1 251.8h0M578.9 227.9h0M576.6 231.1h0M579.0 220.4h0M578.4 224.3h0M578.6 232.2h0M578.6 220.9h0M579.7 232.2h0M578.6 210.8h0M579.4 211.4h0M578.5 232.6h0M577.6 211.1h0M578.3 233.9h0M578.8 229.8h0M579.0 224.9h0M577.6 229.6h0M580.0 225.5h0M578.4 209.6h0M579.1 223.1h0M580.0 213.7h0M578.8 210.9h0M580.0 223.2h0M578.7 210.9h0M579.1 221.5h0M579.6 213.7h0M580.0 236.0h0M577.9 219.3h0M579.0 223.0h0M579.3 222.1h0M577.3 217.8h0M579.8 230.3h0M578.3 218.9h0M578.1 222.9h0M578.5 228.0h0M579.6 226.2h0M577.7 222.4h0M578.5 224.6h0M580.3 227.3h0M577.7 233.6h0M578.6 229.3h0M578.5 221.2h0M579.0 216.3h0M578.2 229.2h0M578.4 210.9h0M579.2 216.1h0M579.9 221.4h0M577.9 223.8h0M579.3 228.7h0M578.7 216.1h0M578.9 227.5h0M579.2 228.3h0M578.3 214.9h0M577.6 221.3h0M579.8 213.6h0M579.4 224.6h0M578.3 212.9h0M578.9 226.1h0M579.1 209.9h0M577.6 230.0h0M579.8 235.9h0M579.3 227.1h0M579.8 213.8h0M579.2 233.6h0M580.0 212.7h0M578.8 228.1h0M578.1 220.3h0M578.7 231.0h0M578.9 223.2h0M578.5 227.0h0M577.3 232.8h0M578.3 223.1h0M578.7 229.3h0M580.7 211.9h0M578.3 220.9h0M579.8 222.0h0M577.8 220.7h0M579.0 231.8h0M579.2 225.3h0M578.0 207.6h0M579.9 205.4h0M579.1 248.0h0M577.3 206.3h0M580.1 208.8h0M589.3 223.9h0M590.1 221.9h0M589.6 220.2h0M588.4 221.7h0M589.5 228.0h0M590.5 217.4h0M588.1 219.9h0M590.0 226.3h0M590.7 221.7h0M589.4 226.2h0M589.1 225.7h0M591.0 226.1h0M590.9 217.7h0M589.3 226.1h0M587.7 226.4h0M589.1 233.0h0M590.4 222.7h0M590.1 226.4h0M591.7 225.1h0M587.5 229.2h0M590.5 236.9h0M587.6 216.5h0M588.3 217.8h0M588.8 220.3h0M589.9 224.4h0M590.2 220.4h0M590.2 234.1h0M589.4 224.4h0M588.3 219.6h0M589.1 229.1h0M590.0 219.7h0M587.9 216.2h0M590.3 208.9h0M589.4 225.8h0M588.4 219.2h0M589.2 220.2h0M589.5 234.9h0M591.0 223.3h0M589.4 221.8h0M588.6 225.8h0M590.3 218.9h0M589.0 236.1h0M590.0 216.4h0M588.5 220.3h0M588.9 216.5h0M589.4 216.8h0M590.7 219.8h0M588.3 225.8h0M588.1 223.9h0M590.0 219.5h0M590.7 231.5h0M589.3 230.5h0M589.2 221.0h0M588.9 234.6h0M589.8 220.2h0M590.8 224.3h0M590.4 223.8h0M590.5 233.7h0M588.9 213.8h0M589.1 224.2h0M588.9 211.4h0M589.7 222.0h0M589.4 234.1h0M590.2 222.5h0M589.4 232.8h0M589.4 222.7h0M588.9 214.0h0M590.7 219.8h0M589.7 217.4h0M589.5 220.1h0M589.6 216.4h0M588.2 218.1h0M588.5 232.3h0M588.7 222.2h0M588.7 232.7h0M590.2 222.0h0M589.2 226.8h0M589.7 223.2h0M589.5 223.0h0M589.4 236.2h0M589.9 215.6h0M590.2 234.3h0M590.1 222.7h0M588.9 234.8h0M589.2 233.1h0M590.0 218.0h0M588.8 219.5h0M590.5 220.3h0M589.5 219.4h0M588.8 214.9h0M587.4 197.2h0M589.1 208.7h0M591.1 214.4h0M588.1 241.5h0M599.5 213.1h0M598.9 222.9h0M599.3 208.7h0M599.6 201.8h0M598.8 211.6h0M599.9 216.0h0M601.2 215.5h0M600.2 229.7h0M599.6 204.6h0M599.2 224.0h0M600.9 216.2h0M599.8 213.9h0M598.3 224.6h0M601.9 224.1h0M599.3 221.9h0M600.3 212.3h0M599.3 231.1h0M600.0 216.1h0M600.3 215.5h0M600.1 218.9h0M599.9 227.4h0M598.4 219.2h0M598.8 224.9h0M599.2 214.4h0M599.2 237.7h0M598.8 217.1h0M600.5 233.2h0M600.8 218.1h0M599.9 214.0h0M598.6 218.5h0M601.3 222.9h0M599.0 226.8h0M599.0 217.1h0M600.8 214.4h0M600.2 218.1h0M600.7 207.0h0M598.6 230.3h0M601.3 218.1h0M600.4 227.1h0M600.8 218.2h0M601.6 224.2h0M600.5 212.1h0M601.0 211.6h0M599.9 227.9h0M600.7 207.5h0M599.0 213.0h0M599.8 215.9h0M599.1 216.6h0M598.3 214.1h0M599.6 212.3h0M599.5 230.4h0M602.0 216.3h0M600.7 226.9h0M598.7 210.5h0M599.2 225.5h0M602.1 214.3h0M599.3 220.0h0M601.0 224.5h0M600.4 239.1h0M598.7 204.2h0M599.1 214.5h0M601.2 218.9h0M601.5 214.7h0M600.5 225.2h0M602.3 235.0h0M599.8 233.0h0M601.5 227.0h0M599.7 213.3h0M600.8 221.7h0M599.3 215.0h0M601.6 218.1h0M599.2 230.6h0M600.5 239.6h0M600.2 229.9h0M600.3 223.8h0M599.8 217.3h0M600.1 220.9h0M598.9 215.1h0M601.5 236.4h0M599.4 209.7h0M598.4 196.3h0M598.2 245.9h0M610.6 207.6h0M610.6 229.9h0M609.2 213.8h0M609.3 224.3h0M611.3 212.8h0M610.1 229.8h0M611.1 212.6h0M611.1 211.8h0M610.4 223.1h0M610.5 207.5h0M610.1 220.9h0M611.1 219.6h0M609.3 238.5h0M609.7 220.6h0M611.5 209.0h0M608.7 232.6h0M610.2 209.3h0M608.7 234.3h0M610.5 227.7h0M609.9 218.3h0M609.7 215.5h0M609.2 206.1h0M611.5 218.2h0M611.3 208.0h0M609.6 230.9h0M610.2 208.4h0M609.2 223.8h0M611.2 219.7h0M611.0 212.0h0M610.5 209.1h0M611.1 215.0h0M610.5 216.7h0M610.6 204.2h0M611.1 210.4h0M609.9 232.9h0M612.3 227.8h0M610.4 233.9h0M610.8 225.6h0M610.7 235.2h0M610.7 231.7h0M610.3 213.6h0M610.1 228.7h0M608.9 212.1h0M610.0 210.6h0M611.7 206.0h0M609.6 227.4h0M609.7 217.7h0M609.2 209.3h0M611.7 205.2h0M610.0 214.3h0M612.1 232.3h0M609.0 228.0h0M612.6 219.3h0M611.1 217.1h0M609.7 206.1h0M610.5 238.8h0M610.2 209.5h0M610.4 233.4h0M610.3 201.5h0M609.8 218.8h0M610.0 231.1h0M609.6 227.1h0M610.3 223.9h0M609.9 200.9h0M611.0 197.3h0M622.6 213.1h0M621.5 212.6h0M621.0 211.6h0M621.8 203.9h0M620.6 208.4h0M621.5 207.1h0M620.5 203.5h0M620.9 211.0h0M623.2 215.4h0M620.9 209.8h0M620.6 213.2h0M620.3 220.7h0M620.2 208.0h0M620.8 215.5h0M619.5 236.8h0M621.3 201.7h0M621.0 228.3h0M620.0 202.5h0M619.7 220.4h0M622.1 199.7h0M620.1 208.2h0M620.4 211.3h0M621.9 209.3h0M620.9 217.7h0M620.7 239.9h0M619.4 195.9h0M619.8 220.1h0M622.6 217.6h0M622.1 231.1h0M622.0 202.2h0M620.3 202.1h0M621.6 233.0h0M620.9 204.1h0M621.4 205.5h0M620.2 221.4h0M622.0 200.2h0M620.2 217.8h0M620.0 205.5h0M621.5 208.3h0M621.1 208.9h0M620.2 214.3h0M620.4 232.1h0M620.5 226.4h0M621.9 223.9h0M621.9 220.3h0M620.4 201.5h0M621.2 212.9h0M622.3 207.0h0M620.8 201.3h0M622.3 215.9h0M621.0 201.7h0M620.4 236.8h0M620.9 212.6h0M622.6 214.0h0M621.9 208.4h0M619.3 219.8h0M621.7 227.1h0M620.2 211.9h0M619.9 233.9h0M621.8 208.5h0M623.2 234.3h0M621.4 208.0h0M618.7 213.2h0M620.3 211.6h0M623.1 207.3h0M621.0 227.0h0M620.8 222.1h0M621.8 215.1h0M622.5 201.8h0M620.6 217.1h0M621.8 225.0h0M621.8 227.5h0M619.4 242.1h0M631.0 202.3h0M630.9 198.7h0M629.6 202.8h0M631.6 212.5h0M631.5 219.5h0M629.4 202.9h0M631.9 231.7h0M632.0 219.2h0M631.2 204.1h0M631.3 222.6h0M630.2 205.6h0M632.2 225.7h0M632.3 205.6h0M632.3 210.7h0M630.1 229.1h0M631.5 221.7h0M632.5 201.0h0M630.7 209.9h0M632.3 215.1h0M631.7 206.2h0M632.7 202.8h0M631.4 197.6h0M632.5 235.5h0M630.7 205.4h0M631.1 192.1h0M631.5 202.5h0M631.3 217.1h0M632.6 190.5h0M632.1 220.3h0M630.0 223.5h0M630.9 235.4h0M631.0 209.7h0M630.0 221.6h0M631.3 216.6h0M630.3 215.3h0M630.9 205.6h0M630.8 198.1h0M629.9 234.2h0M630.6 224.6h0M632.5 206.9h0M630.3 200.1h0M631.4 207.2h0M632.8 209.9h0M630.5 206.5h0M632.5 193.9h0M629.4 218.7h0M631.6 201.9h0M631.4 198.6h0M631.8 206.4h0M631.2 227.9h0M631.5 204.2h0M633.2 226.1h0M631.3 230.1h0M631.8 229.6h0M630.7 203.3h0M633.1 206.7h0M630.9 215.3h0M630.4 216.3h0M631.8 209.6h0M631.2 233.0h0M632.1 214.1h0M631.3 199.9h0M632.0 236.1h0M632.0 201.2h0M630.9 232.4h0M631.1 206.7h0M631.0 195.3h0M632.4 194.7h0M631.2 209.6h0M631.4 211.0h0M632.2 202.2h0M631.1 198.5h0M631.0 220.1h0M631.1 215.1h0M632.3 192.8h0M631.1 195.0h0M632.0 203.2h0M632.6 218.4h0M630.7 204.6h0M631.3 199.6h0M630.8 197.0h0M631.4 227.0h0M632.2 216.3h0M631.2 216.7h0M629.3 198.1h0M632.1 237.8h0M633.7 176.8h0M630.8 238.2h0M633.6 167.1h0M629.3 239.0h0M629.6 176.2h0M630.1 239.4h0M643.2 198.5h0M643.0 215.3h0M642.3 217.3h0M643.3 199.4h0M642.2 201.0h0M640.7 233.5h0M643.2 192.4h0M640.2 213.1h0M643.1 221.6h0M642.8 208.0h0M642.7 195.1h0M642.2 215.7h0M639.7 201.1h0M640.5 220.7h0M643.8 212.9h0M642.3 197.9h0M642.6 201.4h0M642.6 207.5h0M642.7 231.7h0M642.7 220.6h0M642.2 202.9h0M644.3 224.1h0M642.7 220.7h0M644.3 209.1h0M641.4 205.9h0M642.0 220.1h0M642.5 192.6h0M642.4 195.6h0M642.1 221.3h0M642.6 195.9h0M642.3 225.3h0M641.1 235.7h0M641.1 226.8h0M642.0 217.2h0M641.3 194.0h0M642.2 207.2h0M641.9 202.2h0M641.4 194.4h0M642.9 202.7h0M642.6 225.3h0M641.4 232.4h0M641.1 213.3h0M642.8 221.5h0M641.6 190.4h0M642.7 189.2h0M641.2 219.2h0M641.7 203.3h0M642.3 204.4h0M642.0 218.8h0M643.2 217.6h0M641.5 231.7h0M642.0 201.3h0M641.6 216.9h0M642.5 205.0h0M641.7 199.1h0M641.1 231.9h0M641.5 193.9h0M642.5 205.9h0M642.8 219.8h0M642.7 210.5h0M642.3 216.9h0M642.4 196.5h0M640.0 191.2h0M642.1 222.6h0M643.0 213.5h0M641.5 219.1h0M641.6 232.9h0M641.4 215.3h0M642.0 194.4h0M641.6 202.7h0M641.4 196.6h0M642.6 227.5h0M641.9 210.2h0M641.9 200.9h0M642.4 222.0h0M643.1 224.5h0M641.2 199.6h0M640.8 199.3h0M641.2 201.4h0M640.7 216.0h0M643.4 189.2h0M643.1 184.1h0M643.1 236.2h0M640.1 156.8h0M641.0 183.0h0M640.3 238.9h0" stroke="#4a80d0" stroke-width="1.6" stroke-linecap="round" fill="none"/>
<path d="M505.0 222.7h0M503.9 225.3h0M504.9 218.7h0M505.6 230.6h0M506.8 224.9h0M507.4 212.8h0M504.9 231.3h0M506.1 210.6h0M505.3 219.7h0M506.2 225.6h0M504.5 204.0h0M505.0 230.8h0M506.3 209.1h0M506.2 224.4h0M506.0 226.7h0M504.7 208.8h0M504.8 227.9h0M504.7 231.3h0M503.8 222.6h0M505.0 225.6h0M506.5 219.8h0M505.1 228.3h0M504.8 228.6h0M504.7 228.9h0M505.3 221.2h0M503.9 225.7h0M505.9 219.2h0M505.2 221.2h0M503.3 228.7h0M505.4 228.2h0M506.1 221.4h0M504.5 223.8h0M503.6 212.1h0M504.6 220.1h0M505.7 208.4h0M503.7 203.9h0M506.7 215.3h0M504.8 212.8h0M505.0 215.6h0M505.0 223.1h0M505.0 235.2h0M505.0 217.9h0M506.5 233.5h0M505.7 221.8h0M506.5 227.5h0M504.7 224.2h0M506.4 226.9h0M504.9 214.7h0M506.0 208.9h0M505.5 224.2h0M505.1 219.1h0M505.4 223.1h0M505.7 220.0h0M506.6 215.2h0M504.9 221.1h0M504.2 218.1h0M504.6 231.8h0M506.0 211.9h0M505.8 223.3h0M504.0 220.7h0M504.5 222.3h0M504.6 218.0h0M504.8 229.6h0M505.1 222.6h0M505.9 219.4h0M504.2 232.1h0M507.1 219.0h0M506.0 227.8h0M504.2 220.3h0M504.7 229.3h0M505.9 221.7h0M504.2 216.2h0M504.0 223.3h0M507.3 223.6h0M505.6 223.4h0M506.6 231.2h0M504.8 228.5h0M505.5 224.3h0M503.6 217.1h0M504.0 227.5h0M505.3 205.5h0M505.8 205.4h0M505.3 206.8h0M505.0 218.5h0M504.7 213.8h0M505.5 215.8h0M504.8 223.8h0M504.5 233.9h0M506.6 226.0h0M505.2 232.3h0M504.6 223.6h0M505.9 214.7h0M506.9 219.2h0M507.4 223.0h0M504.7 224.3h0M505.4 225.9h0M504.1 230.5h0M505.0 220.1h0M504.9 219.1h0M506.3 226.4h0M505.4 220.5h0M505.5 225.7h0M507.2 240.9h0M505.7 239.1h0M505.4 198.0h0M506.4 251.0h0M516.4 213.2h0M516.3 207.9h0M516.5 219.0h0M516.2 235.4h0M516.0 230.7h0M515.1 218.9h0M515.4 234.6h0M516.6 221.7h0M515.5 215.7h0M515.8 224.2h0M516.7 229.4h0M513.7 218.5h0M516.1 227.1h0M515.5 218.7h0M516.5 221.6h0M517.5 226.2h0M518.1 229.6h0M515.4 210.7h0M514.6 207.7h0M516.0 229.9h0M516.4 222.5h0M515.9 235.9h0M515.0 218.4h0M515.3 232.6h0M515.8 218.8h0M514.4 223.9h0M515.1 228.2h0M518.1 229.0h0M516.0 219.3h0M513.9 212.1h0M516.1 214.5h0M514.1 225.9h0M515.4 220.3h0M516.4 223.5h0M516.5 229.3h0M517.2 223.1h0M515.6 230.8h0M515.4 221.2h0M516.1 222.0h0M515.8 230.1h0M515.6 219.3h0M515.9 224.9h0M514.3 208.8h0M517.2 217.3h0M515.6 222.5h0M516.8 220.3h0M514.8 217.2h0M514.9 227.6h0M515.6 226.3h0M515.7 223.3h0M515.3 224.9h0M515.4 214.5h0M516.9 222.2h0M515.3 232.4h0M515.6 215.5h0M516.2 226.8h0M515.2 226.5h0M516.3 230.7h0M514.8 217.4h0M517.6 228.5h0M516.3 228.1h0M515.6 215.0h0M515.2 224.0h0M516.2 228.3h0M517.4 227.7h0M515.8 219.6h0M516.5 213.6h0M516.1 222.6h0M516.8 223.7h0M514.6 220.2h0M516.0 207.4h0M515.6 207.1h0M516.0 222.4h0M515.3 219.1h0M515.9 221.4h0M515.5 214.5h0M516.1 230.0h0M514.8 225.9h0M515.3 234.8h0M515.0 232.3h0M517.4 217.0h0M516.3 200.8h0M517.1 200.7h0M514.5 203.1h0M515.5 200.0h0M515.5 264.0h0M526.3 233.2h0M526.9 221.4h0M526.6 226.9h0M524.7 230.2h0M526.4 232.4h0M525.1 229.7h0M524.5 223.2h0M526.0 214.8h0M526.3 218.2h0M526.0 222.5h0M525.3 227.3h0M527.6 232.5h0M525.9 206.6h0M525.8 224.1h0M526.2 215.3h0M526.3 219.6h0M527.2 231.3h0M525.5 213.4h0M527.9 210.3h0M525.1 222.1h0M526.8 218.0h0M527.4 214.8h0M527.0 212.7h0M526.7 227.4h0M524.7 229.5h0M526.2 222.9h0M526.1 224.1h0M526.6 227.7h0M526.5 223.0h0M527.0 216.4h0M526.1 223.7h0M525.2 222.2h0M525.4 212.0h0M524.5 228.3h0M526.1 230.0h0M526.1 229.6h0M525.0 206.4h0M525.9 210.0h0M526.0 226.7h0M526.0 220.2h0M526.1 222.4h0M526.4 224.5h0M526.0 213.1h0M525.9 215.3h0M526.9 217.6h0M525.9 219.2h0M525.8 218.3h0M525.6 228.8h0M527.4 218.4h0M526.3 232.8h0M527.1 220.0h0M527.8 229.5h0M526.6 216.3h0M527.4 227.9h0M524.4 224.7h0M527.3 220.2h0M528.6 225.6h0M526.1 218.3h0M525.7 214.6h0M527.0 219.2h0M524.8 211.2h0M526.0 217.7h0M526.3 228.2h0M528.3 223.9h0M526.9 222.6h0M526.5 226.4h0M526.9 233.8h0M525.7 219.0h0M525.4 226.6h0M527.3 223.8h0M526.4 227.7h0M525.6 221.7h0M525.0 230.4h0M526.2 218.1h0M527.1 223.0h0M525.5 227.0h0M526.3 235.6h0M528.6 223.5h0M526.4 216.2h0M527.3 223.0h0M526.2 218.7h0M526.7 217.8h0M526.7 218.3h0M525.7 223.7h0M528.3 223.7h0M525.5 230.0h0M527.4 221.0h0M525.7 229.1h0M525.8 225.0h0M526.0 234.4h0M526.3 223.8h0M528.1 219.0h0M526.2 215.2h0M525.1 218.0h0M525.0 220.2h0M527.2 223.3h0M527.2 226.8h0M526.2 204.9h0M526.7 255.8h0M525.6 201.1h0M526.8 246.6h0M527.2 264.1h0M525.2 200.9h0M527.4 200.0h0M526.9 267.0h0M537.2 229.3h0M538.1 232.4h0M536.5 228.0h0M537.6 211.1h0M538.3 232.1h0M537.2 224.8h0M537.5 228.3h0M537.5 210.4h0M536.9 227.4h0M536.7 222.7h0M537.4 223.0h0M537.4 210.4h0M537.3 226.4h0M536.9 209.0h0M534.8 228.8h0M537.7 217.9h0M536.3 228.7h0M537.9 223.2h0M538.1 226.8h0M535.3 212.1h0M537.3 208.2h0M537.3 218.2h0M535.4 228.4h0M536.9 206.8h0M536.4 225.7h0M536.1 229.1h0M534.9 223.1h0M536.6 212.6h0M536.4 224.0h0M537.6 220.4h0M537.3 217.0h0M538.6 208.4h0M536.0 205.0h0M537.6 216.8h0M535.9 217.7h0M537.0 226.1h0M537.2 219.1h0M535.5 220.8h0M538.1 228.2h0M537.2 222.7h0M536.2 214.4h0M538.1 229.8h0M536.0 230.8h0M537.9 219.6h0M538.6 207.5h0M536.5 225.6h0M535.7 225.7h0M537.3 229.9h0M535.8 217.5h0M536.1 222.6h0M535.9 222.0h0M535.1 226.1h0M536.3 221.4h0M535.5 206.9h0M537.0 232.1h0M537.7 217.5h0M536.7 226.4h0M536.0 224.8h0M537.5 209.5h0M535.8 225.6h0M538.2 228.1h0M538.4 204.9h0M537.2 206.9h0M537.2 222.4h0M537.1 232.9h0M536.1 225.2h0M537.5 218.9h0M537.5 231.2h0M536.4 207.3h0M538.8 225.6h0M536.4 232.7h0M536.3 202.8h0M536.2 225.7h0M536.5 227.6h0M536.3 226.0h0M537.1 228.6h0M537.5 221.0h0M537.7 233.4h0M537.6 228.8h0M537.2 219.3h0M537.7 229.1h0M537.5 216.3h0M537.0 216.7h0M537.2 225.2h0M535.4 232.7h0M536.7 210.1h0M537.0 222.3h0M535.7 214.7h0M537.9 211.0h0M537.1 228.8h0M537.5 219.9h0M536.7 211.2h0M537.9 238.7h0M538.3 198.8h0M537.6 243.8h0M535.0 241.0h0M536.9 197.4h0M536.0 244.9h0M537.8 195.0h0M537.8 263.0h0M547.6 212.1h0M549.6 229.4h0M547.7 219.8h0M546.9 216.3h0M547.6 207.8h0M547.0 212.3h0M547.6 218.2h0M547.0 204.5h0M546.8 207.8h0M547.4 224.6h0M547.3 224.0h0M545.1 228.7h0M548.4 212.7h0M546.8 216.6h0M547.0 224.7h0M548.3 200.5h0M547.8 201.2h0M547.2 232.3h0M547.9 224.6h0M546.9 232.5h0M549.7 236.9h0M547.0 226.3h0M547.9 226.3h0M547.4 222.2h0M546.0 218.2h0M547.3 216.9h0M546.7 221.1h0M547.8 219.4h0M548.6 226.8h0M545.9 209.4h0M547.6 217.4h0M547.5 223.3h0M548.1 228.1h0M546.2 229.2h0M548.1 208.9h0M546.0 214.6h0M547.6 231.2h0M547.3 228.1h0M547.1 233.3h0M546.5 205.8h0M547.8 202.7h0M548.2 223.9h0M548.8 212.9h0M548.1 213.7h0M546.8 227.0h0M547.1 227.6h0M547.8 215.0h0M547.7 221.3h0M547.2 219.1h0M546.6 214.9h0M547.2 227.3h0M546.7 213.3h0M547.1 209.5h0M546.4 228.0h0M546.3 222.7h0M548.3 217.1h0M546.5 229.8h0M548.5 219.0h0M545.9 223.3h0M548.4 211.3h0M547.5 211.9h0M548.1 217.9h0M545.8 221.0h0M546.4 218.3h0M547.2 229.8h0M547.0 215.8h0M547.1 228.0h0M545.7 229.9h0M547.9 225.1h0M546.7 222.2h0M548.7 214.3h0M546.5 225.1h0M548.1 228.3h0M546.6 220.2h0M547.2 213.4h0M546.4 219.1h0M548.6 230.2h0M546.9 222.4h0M547.2 229.6h0M546.1 221.5h0M545.3 218.7h0M547.1 201.9h0M545.7 229.3h0M548.8 219.7h0M548.5 226.0h0M546.4 220.9h0M546.4 213.9h0M547.0 219.6h0M547.9 224.2h0M547.8 215.5h0M547.9 224.6h0M548.1 222.1h0M547.5 195.0h0M549.5 240.3h0M547.5 255.5h0M547.6 245.9h0M547.5 195.0h0M548.6 259.0h0M558.2 205.6h0M558.8 228.5h0M558.2 227.5h0M557.9 232.7h0M559.4 202.3h0M556.8 229.9h0M557.9 224.8h0M557.4 232.1h0M557.3 205.4h0M559.4 230.6h0M558.7 207.9h0M557.9 206.6h0M558.3 211.3h0M559.8 213.4h0M557.7 226.9h0M557.8 221.6h0M558.0 226.7h0M559.0 226.2h0M558.2 234.9h0M557.7 221.4h0M558.8 220.9h0M559.2 207.2h0M557.3 211.4h0M559.0 216.4h0M558.3 219.0h0M558.6 233.9h0M557.2 216.6h0M557.7 203.3h0M559.1 220.7h0M557.4 226.0h0M558.2 203.7h0M558.1 228.2h0M557.4 219.0h0M557.8 210.2h0M557.4 219.0h0M558.3 202.9h0M557.9 213.4h0M557.6 207.5h0M559.3 222.1h0M558.4 230.2h0M558.4 206.2h0M558.0 212.7h0M558.0 212.5h0M557.3 229.4h0M557.4 214.1h0M558.7 228.9h0M557.9 220.9h0M557.6 228.7h0M557.9 223.3h0M557.2 201.1h0M560.2 224.0h0M558.0 216.7h0M557.3 210.5h0M559.6 228.3h0M559.0 215.9h0M556.2 218.1h0M557.6 213.1h0M558.3 232.2h0M558.5 226.0h0M557.1 214.1h0M556.6 228.2h0M557.4 227.8h0M557.5 224.7h0M557.2 220.6h0M558.8 223.7h0M558.1 227.3h0M558.7 218.7h0M557.4 235.3h0M556.8 228.7h0M556.0 219.5h0M557.8 220.6h0M557.6 235.4h0M558.2 209.9h0M557.3 204.1h0M557.9 221.0h0M558.3 228.7h0M558.1 215.8h0M555.9 233.6h0M557.6 219.4h0M558.4 212.5h0M558.1 201.8h0M559.8 210.5h0M559.0 216.5h0M558.9 217.3h0M559.1 227.8h0M556.7 213.2h0M558.7 234.1h0M558.8 232.3h0M557.9 228.2h0M557.3 225.4h0M557.0 233.5h0M557.9 249.0h0M556.9 199.8h0M557.4 244.3h0M557.2 200.0h0M557.0 196.0h0M559.6 255.0h0M569.4 224.4h0M567.4 222.5h0M568.0 220.2h0M568.3 220.6h0M568.8 222.1h0M568.0 219.8h0M568.6 218.5h0M568.2 218.9h0M569.6 232.6h0M567.5 227.3h0M569.8 229.0h0M568.3 211.9h0M568.7 222.9h0M567.7 226.4h0M569.5 224.2h0M569.4 225.5h0M568.3 226.6h0M568.1 220.4h0M568.1 210.2h0M567.3 233.1h0M568.6 217.0h0M569.6 231.7h0M568.6 225.3h0M570.3 216.3h0M568.5 227.1h0M569.6 215.3h0M570.3 217.1h0M568.7 228.9h0M568.4 234.1h0M568.6 222.0h0M567.5 217.4h0M568.8 221.2h0M567.2 210.9h0M568.2 235.6h0M568.9 214.9h0M567.5 222.9h0M569.2 223.5h0M568.3 218.8h0M569.4 221.8h0M568.3 233.6h0M569.4 223.7h0M568.5 214.0h0M567.1 219.6h0M568.1 211.8h0M567.6 218.2h0M569.1 220.9h0M568.5 217.7h0M568.4 216.2h0M568.5 223.1h0M569.4 231.8h0M568.9 227.3h0M567.0 213.5h0M569.7 231.5h0M568.2 219.2h0M567.8 227.9h0M569.6 219.5h0M567.6 215.2h0M567.5 231.4h0M568.2 233.3h0M569.9 217.9h0M569.2 228.1h0M567.9 221.1h0M567.2 228.9h0M568.5 231.1h0M568.5 223.8h0M569.6 223.2h0M567.3 226.6h0M569.5 232.0h0M569.2 229.8h0M566.7 217.4h0M566.5 210.2h0M569.6 222.2h0M566.9 215.7h0M568.7 218.1h0M569.1 222.2h0M568.5 224.1h0M567.2 222.3h0M569.0 228.4h0M567.7 226.5h0M568.0 212.3h0M568.6 228.4h0M568.4 225.6h0M567.9 220.6h0M569.2 231.9h0M568.8 233.0h0M569.5 209.4h0M567.1 223.9h0M568.0 203.1h0M566.3 242.8h0M569.7 205.6h0M568.6 203.9h0M568.9 240.1h0M568.6 201.0h0M568.3 254.0h0M577.5 233.9h0M579.4 213.8h0M579.4 225.1h0M579.9 224.9h0M577.9 219.1h0M578.0 227.3h0M578.4 232.4h0M579.1 218.3h0M580.5 210.6h0M577.6 221.8h0M578.9 228.2h0M577.9 219.3h0M580.2 227.5h0M581.1 210.3h0M579.8 218.9h0M578.1 229.5h0M578.8 226.2h0M579.4 224.0h0M579.2 224.2h0M578.3 212.1h0M579.2 230.2h0M577.6 228.9h0M580.4 228.4h0M578.2 224.1h0M578.3 218.9h0M578.8 226.1h0M578.9 228.7h0M578.2 222.5h0M580.0 220.7h0M577.9 224.0h0M577.7 218.6h0M578.4 220.8h0M578.9 218.7h0M579.7 214.3h0M579.3 227.9h0M580.6 223.5h0M578.8 217.7h0M578.7 227.7h0M578.6 209.8h0M579.2 218.9h0M579.0 230.2h0M579.0 214.4h0M577.8 232.8h0M581.0 225.4h0M578.3 226.5h0M578.9 226.7h0M579.4 227.3h0M578.5 234.2h0M579.4 226.7h0M577.8 233.6h0M578.5 218.5h0M578.4 217.8h0M579.1 219.3h0M579.4 226.8h0M579.0 218.0h0M578.5 223.3h0M578.5 224.1h0M579.1 229.1h0M578.6 222.8h0M579.4 219.3h0M577.4 227.8h0M579.7 225.9h0M578.8 235.5h0M578.5 227.5h0M579.3 234.3h0M577.5 216.9h0M580.0 219.4h0M577.2 229.4h0M579.2 228.1h0M578.6 225.5h0M579.6 225.4h0M580.3 224.7h0M579.7 217.4h0M580.3 215.6h0M578.8 225.1h0M579.7 229.4h0M578.0 227.8h0M578.3 225.7h0M578.8 218.3h0M579.3 216.5h0M579.6 227.4h0M578.7 221.8h0M576.8 222.9h0M579.1 235.7h0M578.6 221.4h0M580.3 211.6h0M579.7 219.7h0M579.4 225.7h0M579.3 231.7h0M578.6 225.3h0M578.1 218.1h0M577.6 225.6h0M578.2 226.7h0M577.3 242.1h0M578.4 238.9h0M577.3 250.0h0M579.7 204.0h0M577.0 252.0h0M589.9 226.2h0M589.5 218.4h0M589.3 223.0h0M589.6 218.1h0M589.4 217.4h0M590.2 221.9h0M589.2 217.7h0M588.2 235.3h0M588.2 228.1h0M590.2 229.3h0M588.5 218.0h0M589.9 221.7h0M588.8 231.8h0M588.8 218.8h0M590.3 217.9h0M589.1 214.6h0M589.2 217.1h0M590.5 227.9h0M589.7 219.3h0M588.4 224.8h0M588.8 221.7h0M590.4 232.4h0M588.6 220.5h0M589.6 232.4h0M588.4 209.4h0M588.3 231.8h0M589.7 221.0h0M590.3 219.1h0M590.9 222.3h0M589.9 224.4h0M588.6 235.0h0M589.6 232.1h0M589.7 223.0h0M589.5 213.8h0M590.1 219.8h0M589.5 228.5h0M587.7 216.5h0M588.4 219.1h0M588.5 223.5h0M590.0 223.0h0M591.0 220.0h0M590.2 236.0h0M590.1 217.2h0M590.1 219.0h0M589.3 225.5h0M588.4 221.4h0M590.1 221.7h0M588.4 233.2h0M589.0 238.9h0M588.4 225.4h0M589.0 216.6h0M588.6 236.6h0M590.1 224.3h0M590.9 225.6h0M590.2 218.1h0M590.5 226.2h0M591.2 223.8h0M588.8 217.9h0M589.7 217.9h0M589.8 227.0h0M590.5 227.0h0M589.3 233.9h0M589.0 218.1h0M588.6 218.5h0M589.8 219.0h0M589.9 222.3h0M590.6 221.0h0M590.3 216.2h0M589.1 222.7h0M590.3 235.4h0M590.1 222.8h0M591.3 238.8h0M588.3 217.3h0M589.5 237.5h0M588.1 238.3h0M590.7 217.6h0M590.5 223.6h0M589.9 223.8h0M589.5 235.3h0M589.0 217.6h0M588.3 222.9h0M591.0 243.6h0M588.2 242.8h0M587.7 247.6h0M588.6 197.0h0M590.3 250.0h0M599.1 228.8h0M600.7 215.1h0M599.9 224.6h0M597.7 222.0h0M599.6 217.1h0M600.9 220.5h0M600.7 238.6h0M600.5 235.7h0M601.1 211.9h0M601.0 213.4h0M599.8 214.0h0M600.1 228.1h0M600.5 236.1h0M600.0 213.8h0M600.3 228.0h0M599.0 222.5h0M600.5 219.3h0M599.3 223.2h0M601.3 219.9h0M599.0 218.4h0M600.8 211.1h0M601.0 228.0h0M600.1 212.7h0M600.4 229.4h0M600.2 216.0h0M600.4 220.3h0M600.6 220.2h0M599.8 217.4h0M599.3 234.2h0M598.6 212.5h0M600.3 232.0h0M598.3 234.0h0M600.1 226.5h0M599.2 216.5h0M598.8 213.0h0M599.7 211.1h0M599.5 220.3h0M599.3 223.4h0M600.3 212.2h0M598.4 233.8h0M600.7 210.5h0M600.6 220.3h0M601.8 222.7h0M600.1 211.6h0M599.2 220.6h0M600.5 219.8h0M598.7 221.2h0M599.6 219.5h0M599.0 233.7h0M599.6 217.9h0M599.5 213.5h0M600.9 210.7h0M599.9 224.6h0M600.0 206.4h0M599.5 236.1h0M599.4 214.4h0M600.5 218.2h0M599.2 218.7h0M598.5 227.3h0M601.1 220.2h0M600.7 234.3h0M600.5 212.3h0M600.1 216.2h0M600.2 219.3h0M599.3 235.0h0M600.2 226.9h0M599.4 216.3h0M600.4 221.1h0M600.5 214.7h0M600.5 222.2h0M597.9 213.8h0M598.8 222.1h0M599.4 217.3h0M599.1 222.6h0M599.4 214.9h0M600.5 213.7h0M599.4 219.4h0M598.2 239.0h0M601.1 218.2h0M600.5 216.7h0M600.8 218.6h0M598.3 218.7h0M599.9 216.6h0M600.4 206.7h0M599.3 226.5h0M601.1 216.5h0M600.5 219.4h0M600.1 201.9h0M599.9 220.4h0M598.8 223.5h0M597.7 217.7h0M600.5 245.8h0M601.1 245.1h0M600.3 205.5h0M597.8 192.6h0M599.4 243.6h0M599.2 186.0h0M598.8 246.0h0M609.9 211.3h0M611.2 223.8h0M611.8 205.1h0M611.3 221.7h0M611.0 206.5h0M609.4 232.6h0M609.5 230.8h0M610.7 213.8h0M609.7 217.3h0M608.7 233.5h0M610.7 213.5h0M609.8 228.6h0M611.7 205.7h0M611.5 208.5h0M610.8 208.6h0M608.9 198.4h0M610.3 219.5h0M611.5 236.3h0M609.1 228.5h0M611.6 217.4h0M610.1 238.0h0M610.8 206.2h0M610.4 209.4h0M610.4 210.9h0M610.3 222.6h0M611.5 207.7h0M611.5 216.2h0M612.8 214.7h0M611.5 214.4h0M610.1 207.8h0M610.8 206.1h0M609.7 214.3h0M611.2 230.0h0M610.2 219.9h0M610.7 207.8h0M610.4 218.5h0M612.1 224.3h0M610.5 205.2h0M612.4 226.8h0M608.7 214.2h0M611.3 214.7h0M609.5 213.2h0M608.9 200.0h0M610.4 234.1h0M611.1 240.9h0M611.8 216.9h0M610.9 217.6h0M609.9 220.6h0M611.2 212.8h0M609.8 224.9h0M609.3 204.8h0M611.7 216.7h0M610.3 209.7h0M610.5 220.3h0M611.0 235.6h0M609.3 214.6h0M610.6 218.0h0M610.3 222.7h0M610.3 227.8h0M611.4 212.6h0M610.9 209.4h0M610.3 237.5h0M609.8 210.1h0M611.0 213.0h0M611.6 208.8h0M610.3 239.6h0M610.9 215.0h0M610.7 213.8h0M610.7 220.2h0M608.7 210.0h0M610.9 222.6h0M610.6 209.9h0M612.0 208.8h0M611.9 217.0h0M609.9 234.3h0M609.3 211.0h0M609.5 204.6h0M611.2 218.8h0M610.5 217.4h0M609.0 215.5h0M608.3 206.0h0M611.4 208.5h0M612.8 214.1h0M610.0 223.1h0M609.5 213.7h0M610.8 222.6h0M609.5 222.4h0M610.9 216.4h0M609.9 213.4h0M608.8 220.9h0M609.6 241.0h0M610.9 225.8h0M610.8 212.2h0M611.1 225.6h0M610.3 235.5h0M612.8 216.3h0M611.5 212.3h0M609.6 224.6h0M611.0 229.3h0M610.2 221.1h0M610.3 216.2h0M610.0 225.2h0M609.5 212.7h0M610.2 235.3h0M610.6 210.2h0M610.5 207.1h0M611.0 219.5h0M611.1 185.9h0M612.1 242.5h0M611.1 243.8h0M610.6 242.4h0M610.0 184.2h0M611.2 243.1h0M612.5 183.0h0M609.1 245.0h0M621.1 210.0h0M621.7 216.2h0M619.9 218.1h0M620.4 217.6h0M622.3 221.8h0M622.1 228.3h0M621.2 211.5h0M621.2 214.4h0M618.8 239.3h0M621.5 205.5h0M620.2 198.2h0M620.9 213.0h0M621.1 219.9h0M621.1 238.7h0M621.4 220.0h0M621.9 207.7h0M621.3 212.2h0M622.3 234.5h0M622.7 203.9h0M622.0 206.7h0M622.0 208.4h0M621.0 221.9h0M621.9 216.1h0M621.4 225.0h0M621.0 198.7h0M621.7 213.3h0M621.1 211.7h0M621.7 214.6h0M621.0 212.2h0M619.5 208.1h0M620.9 232.9h0M621.4 209.4h0M621.2 221.6h0M621.2 208.8h0M621.2 197.6h0M621.5 213.3h0M620.7 236.4h0M620.4 205.2h0M621.1 212.8h0M620.7 206.5h0M620.6 200.4h0M621.3 205.3h0M621.2 202.2h0M621.9 207.9h0M622.3 209.0h0M620.5 202.2h0M622.5 208.2h0M621.7 208.3h0M621.1 213.4h0M619.9 207.8h0M621.3 223.7h0M622.3 208.3h0M621.9 226.9h0M620.3 211.7h0M620.0 224.9h0M622.4 200.1h0M620.4 212.8h0M621.9 204.8h0M621.0 224.9h0M619.5 210.7h0M621.0 219.2h0M620.8 204.4h0M622.0 207.9h0M621.9 200.7h0M621.2 218.6h0M619.7 236.5h0M622.3 207.2h0M620.3 223.2h0M619.0 224.4h0M621.4 211.2h0M620.8 204.2h0M620.7 204.5h0M622.4 222.6h0M620.9 201.4h0M620.9 220.1h0M621.2 205.4h0M622.9 223.1h0M622.4 220.9h0M621.3 206.1h0M618.8 220.2h0M621.4 232.3h0M620.5 186.7h0M621.8 212.9h0M621.3 233.7h0M621.3 225.9h0M623.3 213.7h0M621.6 214.4h0M620.6 219.5h0M620.4 232.3h0M622.4 207.3h0M621.1 207.7h0M621.1 219.8h0M620.4 222.0h0M621.4 234.0h0M621.8 229.2h0M620.1 206.6h0M620.1 211.8h0M621.3 199.8h0M618.8 186.9h0M619.9 241.0h0M619.5 187.8h0M622.3 242.7h0M619.6 192.3h0M620.6 240.1h0M620.7 190.5h0M619.5 174.0h0M621.7 243.0h0M630.6 216.6h0M632.4 201.9h0M631.8 193.6h0M630.6 200.6h0M631.0 229.8h0M629.8 201.0h0M630.3 210.2h0M633.1 202.8h0M631.8 193.2h0M632.4 213.2h0M631.9 209.3h0M632.1 230.7h0M629.6 181.6h0M632.1 228.4h0M633.1 215.4h0M631.2 206.7h0M630.3 210.9h0M631.6 218.9h0M630.6 204.8h0M631.2 203.5h0M632.1 202.9h0M630.9 222.5h0M632.1 210.9h0M631.0 203.3h0M631.4 207.0h0M631.5 206.8h0M630.5 210.4h0M630.8 199.7h0M631.2 212.7h0M632.6 204.4h0M630.4 208.4h0M632.6 207.5h0M632.1 207.7h0M632.2 205.3h0M631.4 226.5h0M630.0 217.5h0M631.0 235.7h0M629.4 219.5h0M630.3 214.0h0M630.8 194.3h0M632.5 216.1h0M631.5 218.0h0M632.6 200.5h0M629.2 195.8h0M631.2 208.6h0M633.2 199.4h0M632.1 229.5h0M631.9 210.9h0M631.6 214.2h0M631.4 231.0h0M631.1 231.5h0M631.1 197.6h0M631.7 213.5h0M631.1 232.5h0M631.4 187.6h0M632.2 219.4h0M631.7 222.2h0M632.1 202.3h0M631.6 229.5h0M632.2 208.6h0M630.3 212.9h0M632.7 190.4h0M631.9 198.4h0M632.1 193.1h0M630.5 210.1h0M631.2 230.7h0M631.0 202.9h0M630.8 206.9h0M629.5 194.7h0M630.5 217.5h0M629.5 198.9h0M631.4 203.3h0M630.3 199.5h0M630.5 202.9h0M631.0 221.5h0M631.5 208.6h0M631.1 212.1h0M632.1 224.0h0M632.3 197.3h0M631.8 203.1h0M631.4 219.5h0M631.2 198.6h0M630.5 200.5h0M632.0 200.2h0M631.3 198.5h0M632.6 176.9h0M633.3 159.0h0M633.1 240.0h0M642.1 198.0h0M641.4 200.1h0M642.3 214.9h0M641.2 205.5h0M642.4 205.4h0M642.2 203.3h0M642.8 196.7h0M642.9 217.0h0M642.3 202.9h0M642.9 205.4h0M641.8 205.2h0M642.3 209.2h0M641.3 210.4h0M642.8 221.6h0M641.0 203.9h0M643.5 210.0h0M641.2 197.2h0M641.4 187.9h0M642.1 185.7h0M644.1 226.9h0M640.6 205.2h0M641.8 217.1h0M643.0 212.7h0M641.0 187.0h0M642.4 231.2h0M642.4 201.9h0M640.9 220.6h0M641.8 219.9h0M640.8 215.3h0M641.2 214.3h0M642.3 214.3h0M642.6 224.9h0M642.2 205.7h0M642.0 231.1h0M643.3 207.5h0M642.4 217.4h0M642.0 207.8h0M643.7 197.2h0M641.8 214.7h0M642.0 201.4h0M641.7 200.5h0M642.7 213.9h0M640.9 200.2h0M640.5 193.9h0M641.4 199.4h0M641.7 223.1h0M643.5 214.4h0M642.5 228.0h0M642.8 207.1h0M641.1 192.9h0M642.0 224.8h0M643.5 233.4h0M640.6 200.4h0M640.7 210.2h0M641.1 210.7h0M643.0 213.9h0M641.9 230.8h0M641.8 197.6h0M642.6 203.1h0M641.8 200.8h0M643.6 206.5h0M640.9 215.2h0M643.0 215.7h0M641.9 203.4h0M642.5 228.3h0M641.1 214.3h0M639.7 213.4h0M641.7 206.8h0M642.2 221.6h0M642.5 214.3h0M642.9 208.9h0M642.4 188.6h0M641.7 212.1h0M639.7 221.2h0M641.2 203.2h0M642.1 207.1h0M642.7 214.4h0M643.3 215.8h0M642.2 190.5h0M642.7 214.9h0M642.3 227.6h0M642.0 217.9h0M643.2 193.5h0M642.2 212.0h0M642.0 209.5h0M642.8 216.3h0M644.0 198.2h0M642.1 217.9h0M643.2 209.6h0M642.2 240.6h0M643.9 164.5h0M642.4 240.0h0M642.3 155.0h0M642.4 242.0h0" stroke="#5674cf" stroke-width="1.6" stroke-linecap="round" fill="none"/>
<path d="M504.7 223.5h0M506.3 224.3h0M504.2 226.4h0M504.8 220.9h0M505.7 222.6h0M505.8 220.9h0M505.6 223.4h0M516.2 221.5h0M516.4 223.4h0M516.7 224.8h0M515.8 226.4h0M514.8 227.0h0M516.6 224.8h0M516.7 223.2h0M514.7 224.9h0M525.2 220.2h0M527.5 222.8h0M527.7 220.6h0M527.3 225.1h0M526.5 222.4h0M527.7 223.6h0M535.9 220.3h0M536.9 227.3h0M536.9 225.1h0M536.9 224.6h0M537.3 220.3h0M548.2 222.8h0M549.2 222.8h0M547.3 224.3h0M547.8 224.8h0M546.1 227.7h0M558.4 220.0h0M557.6 223.5h0M558.1 224.3h0M557.7 227.1h0M558.8 225.5h0M558.1 222.6h0M560.1 221.6h0M557.0 222.8h0M567.8 222.3h0M568.1 223.1h0M567.3 223.8h0M569.6 225.5h0M579.5 222.5h0M578.6 222.4h0M578.0 225.2h0M579.0 225.5h0M578.7 224.8h0M578.1 221.7h0M578.3 226.5h0M579.1 227.3h0M589.9 218.4h0M589.6 217.6h0M599.9 215.3h0M599.7 212.9h0M599.2 219.7h0M600.5 216.0h0M599.5 216.8h0M598.9 218.2h0M601.6 215.0h0M599.3 218.1h0M599.4 217.4h0M599.6 213.3h0M599.0 217.7h0M598.5 216.6h0M608.3 216.0h0M610.2 214.7h0M610.1 208.9h0M611.0 211.5h0M609.6 212.1h0M620.8 207.5h0M621.0 205.7h0M621.2 207.8h0M620.1 211.4h0M620.5 206.3h0M621.9 212.4h0M619.0 205.3h0M620.3 207.1h0M621.8 213.4h0M631.4 207.4h0M633.1 202.5h0M632.4 213.5h0M631.2 210.7h0M631.3 204.2h0M632.0 212.6h0M631.5 206.1h0M641.5 204.2h0M642.3 193.9h0M641.6 214.9h0M642.1 212.4h0M640.7 200.0h0M641.9 197.5h0M643.4 196.0h0M642.7 200.0h0M640.7 215.1h0M640.7 215.6h0M642.0 203.8h0M642.6 211.5h0M641.3 216.4h0M642.0 190.5h0M640.3 199.0h0M641.4 199.5h0M641.4 208.3h0M642.3 208.3h0M643.4 199.5h0M643.5 206.0h0M641.2 190.7h0" stroke="#ba2d9c" stroke-width="1.6" stroke-linecap="round" fill="none"/>
<path d="M507.0 225.9h0M505.1 223.0h0M505.8 222.8h0M505.7 222.4h0M504.5 225.4h0M505.3 226.4h0M505.6 226.6h0M505.7 226.8h0M516.1 223.2h0M516.2 227.2h0M516.6 223.6h0M514.6 227.5h0M515.1 221.2h0M517.1 221.7h0M528.1 223.0h0M526.7 225.1h0M527.1 226.6h0M527.1 220.0h0M525.2 222.2h0M527.0 224.4h0M525.5 223.5h0M536.0 227.9h0M537.4 221.0h0M537.4 223.0h0M536.9 222.8h0M537.8 223.5h0M538.1 227.0h0M536.7 221.6h0M535.3 220.1h0M536.5 225.8h0M536.6 221.0h0M535.9 224.1h0M547.7 222.5h0M547.2 220.4h0M547.0 220.8h0M547.3 220.5h0M557.4 224.7h0M558.4 222.9h0M559.0 225.1h0M557.9 224.2h0M558.9 221.4h0M558.7 222.9h0M557.2 223.8h0M569.0 227.0h0M568.2 225.6h0M568.4 220.4h0M568.7 221.5h0M567.7 226.0h0M567.3 224.4h0M567.5 224.8h0M578.0 221.2h0M579.4 221.1h0M577.8 224.0h0M579.9 226.3h0M580.2 223.5h0M578.2 221.2h0M579.1 227.3h0M578.1 226.3h0M578.5 220.7h0M578.7 225.2h0M589.0 216.7h0M588.9 220.5h0M589.5 222.0h0M588.2 219.8h0M588.6 217.9h0M600.8 214.7h0M599.7 218.0h0M599.6 219.5h0M602.2 215.1h0M601.2 213.6h0M599.4 212.8h0M599.0 217.0h0M600.0 214.2h0M598.5 217.2h0M611.4 211.4h0M609.5 213.9h0M609.4 215.1h0M609.3 214.9h0M611.4 213.2h0M611.4 213.7h0M611.2 214.6h0M611.5 212.3h0M620.8 205.8h0M619.1 206.4h0M622.1 208.1h0M621.5 212.4h0M621.2 210.4h0M619.8 210.8h0M620.6 212.0h0M620.5 208.0h0M621.0 208.2h0M630.8 204.1h0M630.8 211.6h0M632.3 211.7h0M631.1 213.1h0M632.7 208.8h0M632.4 207.2h0M630.5 202.6h0M630.0 201.9h0M631.6 207.1h0M631.0 208.7h0M631.5 206.7h0M630.9 204.9h0M630.5 207.2h0M631.5 201.4h0M630.5 206.5h0M630.6 209.4h0M641.2 206.4h0M642.9 204.3h0M642.7 207.8h0M642.0 195.3h0M640.6 209.4h0M642.9 202.8h0M640.6 215.2h0M642.2 207.4h0M643.6 200.7h0M642.5 207.9h0M641.9 218.7h0M642.5 198.2h0M642.1 217.9h0M642.2 219.2h0M640.1 202.5h0M640.5 205.8h0M641.7 209.3h0M641.8 203.3h0M641.7 191.6h0M641.0 206.6h0M643.5 193.6h0M641.6 200.7h0M642.1 190.3h0M643.3 207.0h0M641.3 208.0h0M641.0 190.8h0M641.0 213.7h0M643.6 216.2h0" stroke="#dc2883" stroke-width="1.6" stroke-linecap="round" fill="none"/>
<path d="M506.6 226.5h0M505.5 226.1h0M505.1 225.9h0M507.5 225.6h0M505.4 225.7h0M504.3 222.4h0M504.8 226.7h0M505.6 223.9h0M504.5 226.0h0M515.3 227.5h0M515.7 225.6h0M516.2 221.2h0M515.7 220.9h0M514.1 221.6h0M515.2 220.8h0M515.9 225.9h0M515.8 221.3h0M515.0 221.4h0M516.1 222.1h0M526.2 225.2h0M525.3 227.8h0M526.1 226.0h0M526.8 224.8h0M526.5 227.2h0M525.4 225.8h0M526.4 224.0h0M526.1 220.4h0M527.9 225.3h0M526.5 224.8h0M526.5 227.6h0M536.6 222.0h0M536.7 220.4h0M536.1 222.6h0M535.8 226.6h0M537.0 223.6h0M537.1 225.6h0M539.0 226.8h0M535.4 222.4h0M546.7 227.6h0M546.1 221.7h0M546.3 226.8h0M548.0 222.0h0M546.9 223.4h0M546.2 222.3h0M546.8 223.6h0M546.9 226.3h0M558.3 221.7h0M558.3 225.1h0M557.2 220.1h0M557.0 226.3h0M559.5 227.4h0M557.4 221.3h0M557.4 221.5h0M558.0 221.3h0M559.0 223.3h0M555.7 227.3h0M568.1 222.5h0M567.0 221.9h0M567.4 221.5h0M568.8 220.5h0M567.4 227.2h0M568.9 225.3h0M568.8 225.9h0M568.2 223.6h0M568.2 225.3h0M567.3 224.5h0M578.7 226.5h0M578.6 220.4h0M577.9 221.4h0M578.9 220.8h0M577.5 221.4h0M578.3 222.6h0M580.0 223.0h0M576.7 222.8h0M588.8 219.5h0M588.6 216.4h0M590.3 218.0h0M590.8 220.9h0M589.5 216.2h0M598.3 214.1h0M599.6 213.6h0M600.2 216.9h0M600.8 212.0h0M600.2 212.7h0M601.4 212.6h0M610.4 212.6h0M610.8 208.7h0M610.1 212.8h0M611.0 215.0h0M611.3 212.4h0M611.4 213.7h0M621.7 211.6h0M620.4 205.9h0M621.3 214.0h0M620.6 206.7h0M620.8 212.3h0M621.6 210.8h0M620.1 211.7h0M619.9 208.4h0M630.2 213.9h0M631.3 210.6h0M631.5 203.8h0M632.1 213.9h0M630.1 203.4h0M631.3 205.7h0M632.3 210.1h0M633.2 201.4h0M631.4 212.8h0M631.9 201.2h0M632.8 203.8h0M629.9 213.6h0M631.2 203.4h0M632.0 204.2h0M631.4 204.4h0M631.2 212.8h0M642.9 214.2h0M641.3 212.5h0M641.5 213.3h0M641.9 210.3h0M642.1 213.3h0M642.0 211.1h0M642.2 208.6h0M643.9 209.7h0M641.1 191.2h0M642.2 210.1h0M642.9 195.9h0M641.5 196.6h0M641.3 210.7h0M641.0 208.6h0M641.7 199.7h0M641.5 193.9h0M641.3 219.0h0M643.6 217.0h0M641.7 207.5h0M641.8 192.4h0M641.8 207.6h0M641.8 214.8h0M641.3 208.9h0M640.5 217.0h0M643.4 197.7h0M641.5 217.5h0M640.1 197.5h0M641.6 208.1h0M641.4 191.2h0M642.2 212.2h0M641.6 219.1h0" stroke="#cf2b8f" stroke-width="1.6" stroke-linecap="round" fill="none"/>
<path d="M504.1 224.9h0M505.0 226.8h0M505.9 226.1h0M505.6 227.1h0M506.6 221.7h0M506.0 220.5h0M506.9 221.1h0M505.2 223.5h0M516.1 225.8h0M515.0 226.7h0M514.3 226.0h0M515.8 221.6h0M514.6 223.3h0M515.6 222.4h0M526.0 222.3h0M525.1 227.5h0M526.4 221.1h0M526.3 226.8h0M527.1 226.0h0M524.6 227.9h0M537.5 222.4h0M536.3 226.3h0M535.7 225.4h0M537.1 227.7h0M536.1 227.1h0M535.2 227.2h0M537.5 220.1h0M535.0 222.5h0M538.2 224.2h0M549.4 224.8h0M547.9 221.5h0M549.0 220.8h0M546.7 227.0h0M547.4 226.2h0M547.3 223.7h0M546.2 227.5h0M548.0 227.0h0M548.0 225.9h0M545.8 224.2h0M548.4 224.6h0M547.4 223.5h0M548.1 226.3h0M557.1 226.1h0M557.0 222.8h0M557.4 223.1h0M558.8 227.8h0M558.6 220.6h0M556.6 226.9h0M557.8 226.4h0M567.8 223.9h0M567.7 224.1h0M568.7 227.0h0M568.9 223.8h0M567.8 224.3h0M567.8 226.0h0M569.1 226.7h0M568.0 227.7h0M567.8 220.1h0M567.6 226.9h0M567.3 220.0h0M568.5 220.9h0M569.7 225.9h0M568.7 227.4h0M578.9 220.6h0M578.1 222.5h0M579.1 226.2h0M579.9 227.4h0M577.7 227.3h0M589.2 219.1h0M587.4 221.1h0M589.2 219.2h0M589.4 220.7h0M588.9 216.9h0M588.5 220.7h0M590.4 217.3h0M589.8 220.8h0M588.6 216.3h0M600.1 213.9h0M600.0 216.4h0M601.7 213.1h0M610.1 211.3h0M611.5 212.7h0M610.6 214.5h0M609.9 215.0h0M611.1 210.5h0M610.0 210.3h0M610.8 212.5h0M610.5 209.6h0M618.8 208.4h0M620.1 210.5h0M620.5 213.8h0M620.7 212.8h0M621.6 209.2h0M621.1 212.1h0M621.1 206.6h0M630.6 202.2h0M630.3 211.4h0M631.4 210.7h0M632.2 212.1h0M631.0 202.0h0M630.9 204.3h0M631.5 213.0h0M631.7 205.2h0M633.4 212.9h0M632.3 210.7h0M629.3 211.0h0M641.2 206.0h0M641.6 197.2h0M642.7 194.8h0M640.1 190.5h0M640.2 218.9h0M641.5 215.1h0M641.6 206.8h0M643.1 209.3h0M641.3 193.9h0M642.9 192.2h0M643.7 211.3h0M641.3 199.8h0M642.4 209.9h0M641.0 210.3h0M642.1 196.2h0M643.1 198.0h0M642.6 192.4h0M643.3 198.2h0M641.4 200.5h0M642.2 201.1h0M642.4 216.8h0M643.5 214.7h0M642.3 212.9h0M642.5 198.1h0M640.5 211.1h0M641.9 218.7h0M641.6 210.4h0M642.9 194.1h0M643.1 200.7h0M642.8 218.0h0M642.6 218.2h0M642.2 205.3h0M642.5 190.9h0M640.9 205.8h0M641.1 206.8h0M643.3 197.8h0M641.9 213.2h0" stroke="#e62676" stroke-width="1.6" stroke-linecap="round" fill="none"/>
<path d="M505.5 223.5h0M505.6 223.2h0M504.4 222.1h0M506.0 227.2h0M515.2 224.1h0M514.6 223.6h0M516.9 223.7h0M513.6 224.3h0M517.4 225.1h0M515.9 220.6h0M526.2 223.9h0M525.7 221.0h0M528.0 222.5h0M526.9 223.9h0M526.1 225.0h0M525.5 222.7h0M537.7 227.8h0M536.5 224.9h0M536.8 226.7h0M546.5 223.3h0M546.9 224.6h0M549.0 221.8h0M546.8 220.9h0M547.3 223.3h0M547.8 224.1h0M556.2 221.5h0M557.2 226.8h0M556.9 227.7h0M557.7 222.1h0M569.3 226.1h0M579.0 228.0h0M579.4 221.8h0M578.7 226.8h0M578.5 223.1h0M577.5 225.0h0M589.1 217.8h0M589.6 219.8h0M589.0 221.7h0M589.4 217.5h0M588.4 219.6h0M589.3 218.8h0M601.8 212.7h0M599.1 219.2h0M599.3 220.0h0M600.3 216.6h0M601.1 213.7h0M601.0 216.3h0M611.5 211.0h0M610.9 216.0h0M610.4 214.2h0M611.1 212.1h0M610.1 214.4h0M610.8 212.7h0M620.5 211.4h0M621.1 213.1h0M620.6 206.4h0M621.4 212.1h0M622.9 213.5h0M621.4 209.4h0M620.7 208.2h0M632.0 208.8h0M632.5 211.5h0M631.0 204.8h0M630.8 210.7h0M630.9 211.5h0M631.7 209.7h0M631.8 210.4h0M631.3 208.1h0M641.9 209.6h0M642.2 200.5h0M642.3 209.4h0M641.5 211.3h0M640.1 205.1h0M642.5 202.4h0M641.6 190.7h0M641.3 213.0h0M643.4 216.0h0M641.5 205.7h0M642.9 199.1h0M642.6 196.8h0M640.9 191.4h0M641.9 207.3h0M642.8 219.4h0M641.1 195.0h0" stroke="#f0246a" stroke-width="1.6" stroke-linecap="round" fill="none"/>
<path d="M507.5 228.8h0M505.9 219.3h0M506.0 227.9h0M504.1 224.1h0M515.2 227.6h0M516.3 221.5h0M526.2 219.8h0M526.2 225.1h0M536.9 219.6h0M548.5 222.0h0M549.3 227.0h0M547.5 225.0h0M558.2 228.2h0M556.2 225.4h0M559.3 224.3h0M567.7 227.8h0M568.3 226.9h0M578.3 227.7h0M579.2 220.8h0M591.1 216.0h0M609.9 215.4h0M610.5 215.7h0M620.4 211.4h0M620.8 204.7h0M630.9 208.2h0M630.6 203.8h0M641.7 211.4h0M641.1 207.3h0" stroke="#4a80d0" stroke-width="1.6" stroke-linecap="round" fill="none"/>
<path d="M505.5 227.0h0M516.0 225.2h0M516.3 226.3h0M515.5 223.2h0M524.3 226.8h0M525.4 224.5h0M526.6 220.3h0M536.6 223.0h0M536.3 220.6h0M536.3 219.9h0M536.9 224.4h0M546.9 220.8h0M547.6 220.8h0M558.5 228.5h0M558.2 224.2h0M569.0 226.6h0M567.9 222.6h0M569.2 223.7h0M579.9 226.7h0M578.4 224.9h0M579.0 226.6h0M590.4 221.0h0M589.5 222.9h0M588.4 222.8h0M588.7 216.9h0M599.1 214.8h0M600.6 211.4h0M601.7 211.9h0M600.3 219.3h0M599.8 214.6h0M611.0 216.4h0M610.7 209.5h0M611.4 213.6h0M620.9 209.2h0M620.6 207.7h0M620.6 215.0h0M631.4 203.0h0M633.3 209.0h0M631.3 201.4h0M642.9 216.4h0M642.3 213.9h0M640.6 207.5h0" stroke="#5674cf" stroke-width="1.6" stroke-linecap="round" fill="none"/>
<line x1="499.6" y1="150.0" x2="499.6" y2="272.2" stroke="#3a3a3a" stroke-width="0.8"/>
<line x1="499.6" y1="272.2" x2="647.6" y2="272.2" stroke="#3a3a3a" stroke-width="0.8"/>
<line x1="498.1" y1="150.46" x2="499.6" y2="150.46" stroke="#3a3a3a" stroke-width="0.7"/>
<text x="496.6" y="152.86" font-size="9.2" text-anchor="end">0.10</text>
<line x1="498.1" y1="164.148" x2="499.6" y2="164.148" stroke="#3a3a3a" stroke-width="0.7"/>
<text x="496.6" y="166.548" font-size="9.2" text-anchor="end">0.08</text>
<line x1="498.1" y1="177.836" x2="499.6" y2="177.836" stroke="#3a3a3a" stroke-width="0.7"/>
<text x="496.6" y="180.23600000000002" font-size="9.2" text-anchor="end">0.06</text>
<line x1="498.1" y1="191.524" x2="499.6" y2="191.524" stroke="#3a3a3a" stroke-width="0.7"/>
<text x="496.6" y="193.924" font-size="9.2" text-anchor="end">0.04</text>
<line x1="498.1" y1="205.21200000000002" x2="499.6" y2="205.21200000000002" stroke="#3a3a3a" stroke-width="0.7"/>
<text x="496.6" y="207.61200000000002" font-size="9.2" text-anchor="end">0.02</text>
<line x1="498.1" y1="218.9" x2="499.6" y2="218.9" stroke="#3a3a3a" stroke-width="0.7"/>
<text x="496.6" y="221.3" font-size="9.2" text-anchor="end">0.00</text>
<line x1="498.1" y1="232.588" x2="499.6" y2="232.588" stroke="#3a3a3a" stroke-width="0.7"/>
<text x="496.6" y="234.988" font-size="9.2" text-anchor="end">-0.02</text>
<line x1="498.1" y1="246.276" x2="499.6" y2="246.276" stroke="#3a3a3a" stroke-width="0.7"/>
<text x="496.6" y="248.67600000000002" font-size="9.2" text-anchor="end">-0.04</text>
<line x1="498.1" y1="259.964" x2="499.6" y2="259.964" stroke="#3a3a3a" stroke-width="0.7"/>
<text x="496.6" y="262.364" font-size="9.2" text-anchor="end">-0.06</text>
<line x1="515.8" y1="272.2" x2="515.8" y2="273.8" stroke="#3a3a3a" stroke-width="0.7"/>
<text x="515.8" y="282.6" font-size="9.2" text-anchor="middle">16</text>
<line x1="536.8399999999999" y1="272.2" x2="536.8399999999999" y2="273.8" stroke="#3a3a3a" stroke-width="0.7"/>
<text x="536.8399999999999" y="282.6" font-size="9.2" text-anchor="middle">18</text>
<line x1="557.88" y1="272.2" x2="557.88" y2="273.8" stroke="#3a3a3a" stroke-width="0.7"/>
<text x="557.88" y="282.6" font-size="9.2" text-anchor="middle">20</text>
<line x1="578.92" y1="272.2" x2="578.92" y2="273.8" stroke="#3a3a3a" stroke-width="0.7"/>
<text x="578.92" y="282.6" font-size="9.2" text-anchor="middle">22</text>
<line x1="599.9599999999999" y1="272.2" x2="599.9599999999999" y2="273.8" stroke="#3a3a3a" stroke-width="0.7"/>
<text x="599.9599999999999" y="282.6" font-size="9.2" text-anchor="middle">24</text>
<line x1="621.0" y1="272.2" x2="621.0" y2="273.8" stroke="#3a3a3a" stroke-width="0.7"/>
<text x="621.0" y="282.6" font-size="9.2" text-anchor="middle">26</text>
<line x1="642.04" y1="272.2" x2="642.04" y2="273.8" stroke="#3a3a3a" stroke-width="0.7"/>
<text x="642.04" y="282.6" font-size="9.2" text-anchor="middle">28</text>
<text x="574.2" y="296.8" font-size="9.2" text-anchor="middle">Spacing (µm)</text>
<text x="473.0" y="211.0" font-size="9.2" text-anchor="middle" transform="rotate(-90 473.0 211.0)">SHAP value</text>
<linearGradient id="g15" x1="0" y1="1" x2="0" y2="0"><stop offset="0" stop-color="#4a80d0"/><stop offset="0.25" stop-color="#6a60cc"/><stop offset="0.5" stop-color="#9a30b0"/><stop offset="0.75" stop-color="#d42a8c"/><stop offset="1" stop-color="#f0246a"/></linearGradient>
<rect x="653.9" y="149.6" width="2.4" height="122.00000000000003" fill="url(#g15)"/>
<line x1="656.3" y1="260.9" x2="657.6999999999999" y2="260.9" stroke="#333" stroke-width="0.7"/>
<text x="658.6999999999999" y="262.79999999999995" font-size="9.2" text-anchor="start">100</text>
<line x1="656.3" y1="241.4" x2="657.6999999999999" y2="241.4" stroke="#333" stroke-width="0.7"/>
<text x="658.6999999999999" y="243.3" font-size="9.2" text-anchor="start">200</text>
<line x1="656.3" y1="221.9" x2="657.6999999999999" y2="221.9" stroke="#333" stroke-width="0.7"/>
<text x="658.6999999999999" y="223.8" font-size="9.2" text-anchor="start">300</text>
<line x1="656.3" y1="202.4" x2="657.6999999999999" y2="202.4" stroke="#333" stroke-width="0.7"/>
<text x="658.6999999999999" y="204.3" font-size="9.2" text-anchor="start">400</text>
<line x1="656.3" y1="182.9" x2="657.6999999999999" y2="182.9" stroke="#333" stroke-width="0.7"/>
<text x="658.6999999999999" y="184.8" font-size="9.2" text-anchor="start">500</text>
<line x1="656.3" y1="163.4" x2="657.6999999999999" y2="163.4" stroke="#333" stroke-width="0.7"/>
<text x="658.6999999999999" y="165.3" font-size="9.2" text-anchor="start">600</text>
<text x="682.4" y="210.2" font-size="9.2" text-anchor="middle" transform="rotate(-90 682.4 210.2)">Speed (mm/s)</text>
</svg></body></html>
